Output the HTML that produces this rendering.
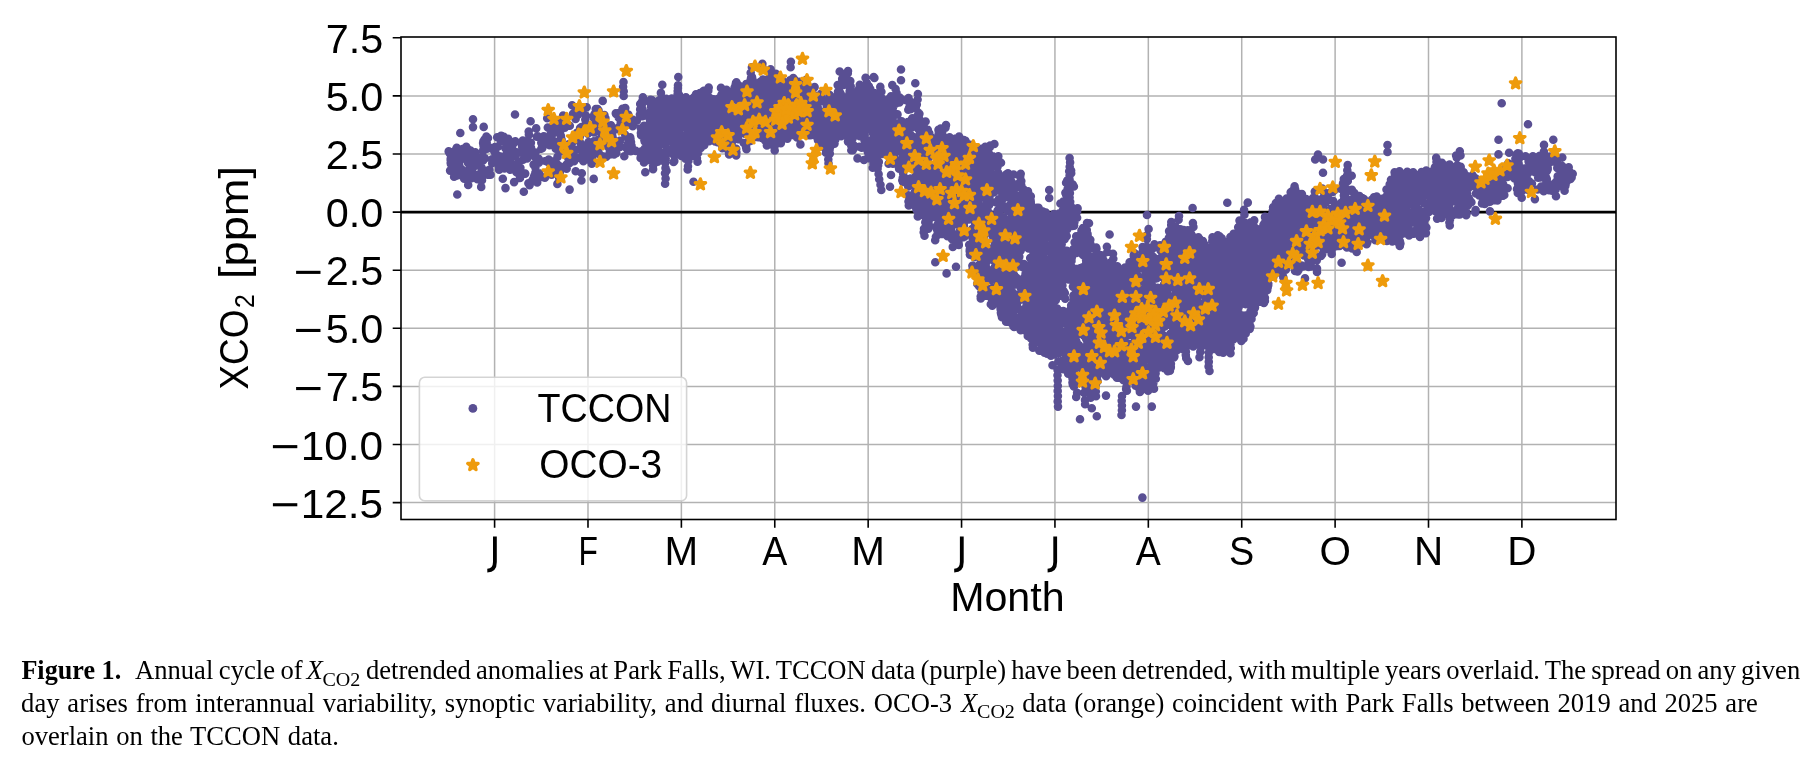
<!DOCTYPE html>
<html><head><meta charset="utf-8"><title>Figure 1</title>
<style>html,body{margin:0;padding:0;background:#fff;overflow:hidden}svg{display:block;will-change:transform}</style></head>
<body>
<svg width="1816" height="768" viewBox="0 0 1816 768">
<defs><path id="s" d="M0.00 -4.95L1.36 -1.32L5.23 -1.15L2.20 1.26L3.23 5.00L0.00 2.86L-3.23 5.00L-2.20 1.26L-5.23 -1.15L-1.36 -1.32Z" fill="#ee9b0b" stroke="#ee9b0b" stroke-width="3.2" stroke-linejoin="round"/></defs>
<rect width="1816" height="768" fill="#fff"/>
<path d="M494.60 37.0V519.5M587.99 37.0V519.5M681.38 37.0V519.5M774.77 37.0V519.5M868.16 37.0V519.5M961.55 37.0V519.5M1054.94 37.0V519.5M1148.33 37.0V519.5M1241.72 37.0V519.5M1335.11 37.0V519.5M1428.50 37.0V519.5M1521.89 37.0V519.5M401.0 502.60H1616.0M401.0 444.50H1616.0M401.0 386.40H1616.0M401.0 328.30H1616.0M401.0 270.20H1616.0M401.0 212.10H1616.0M401.0 154.00H1616.0M401.0 95.90H1616.0" stroke="#b2b2b2" stroke-width="1.5" fill="none"/>
<path d="M401.0 212.10H1616.0" stroke="#000" stroke-width="2.6"/>
<path id="dots" d="M448.7 151.4h0M449.6 153.1h0M450.7 160.1h0M450.7 158.9h0M450.1 170.6h0M451.6 152.2h0M450.7 163.0h0M450.9 163.9h0M452.0 160.3h0M453.6 168.7h0M454.1 176.7h0M454.7 174.7h0M454.9 162.7h0M455.9 149.6h0M456.7 147.8h0M456.9 168.8h0M456.4 175.8h0M456.6 152.3h0M457.2 155.0h0M458.6 149.7h0M460.3 170.6h0M460.4 175.0h0M459.0 174.6h0M459.1 164.5h0M460.2 160.1h0M461.4 169.1h0M461.9 156.8h0M462.4 150.9h0M461.5 151.4h0M461.4 150.2h0M462.5 149.0h0M462.7 175.9h0M462.4 173.3h0M464.2 178.8h0M464.0 149.7h0M464.4 177.5h0M466.3 146.7h0M467.0 157.9h0M468.2 171.9h0M468.0 162.8h0M467.9 174.2h0M467.8 173.1h0M470.1 178.3h0M469.3 151.7h0M471.0 157.4h0M469.6 167.5h0M471.0 159.1h0M470.9 154.8h0M471.0 152.8h0M471.6 178.2h0M470.5 150.6h0M472.9 173.1h0M472.5 167.5h0M474.4 166.3h0M474.0 176.0h0M475.3 152.4h0M475.7 157.6h0M477.4 179.1h0M476.7 162.4h0M477.7 174.9h0M479.3 163.5h0M478.8 163.7h0M480.4 166.4h0M480.2 157.7h0M481.9 170.7h0M482.0 180.2h0M481.2 186.9h0M481.2 178.7h0M481.4 179.7h0M481.7 170.7h0M481.7 167.7h0M483.1 160.4h0M483.4 141.3h0M483.5 145.5h0M483.1 143.1h0M484.0 146.7h0M483.4 149.5h0M483.0 151.1h0M484.9 158.4h0M484.9 146.7h0M484.5 139.5h0M484.7 174.2h0M486.4 136.6h0M487.1 172.4h0M487.7 174.8h0M486.7 142.7h0M486.8 139.8h0M488.1 148.3h0M487.1 148.8h0M488.0 138.0h0M488.5 170.3h0M489.5 169.9h0M490.6 174.8h0M490.3 147.9h0M492.2 163.3h0M492.1 159.4h0M494.2 151.0h0M495.3 153.3h0M495.0 147.0h0M495.1 152.6h0M495.5 149.2h0M497.3 155.2h0M496.5 158.4h0M497.2 137.3h0M498.3 146.5h0M499.1 167.6h0M500.2 158.3h0M500.2 163.0h0M499.1 169.7h0M500.8 141.1h0M501.1 135.7h0M500.6 156.5h0M501.9 140.9h0M500.8 139.7h0M502.8 178.8h0M502.7 165.8h0M503.0 163.9h0M503.8 136.9h0M505.1 165.0h0M504.4 168.4h0M506.9 153.6h0M507.2 147.0h0M505.7 141.2h0M507.2 147.9h0M505.6 148.4h0M506.3 154.8h0M506.9 148.8h0M508.2 138.8h0M506.4 142.4h0M507.5 159.0h0M508.1 152.8h0M509.7 149.0h0M508.5 151.8h0M509.3 146.5h0M508.7 153.3h0M508.8 158.6h0M510.5 158.9h0M509.1 153.4h0M509.0 156.3h0M509.3 162.7h0M510.2 166.7h0M509.8 154.1h0M509.7 166.9h0M510.1 169.7h0M509.8 149.6h0M511.8 155.2h0M511.8 147.6h0M511.8 149.7h0M514.1 182.1h0M513.0 144.1h0M515.3 141.4h0M515.5 155.8h0M515.4 151.7h0M516.5 172.2h0M516.9 164.3h0M517.9 167.4h0M518.9 174.3h0M518.6 162.1h0M519.3 174.6h0M520.0 177.9h0M520.4 167.8h0M521.0 172.7h0M520.9 174.1h0M521.1 143.2h0M522.0 153.0h0M522.1 146.6h0M522.8 140.5h0M523.1 159.7h0M525.2 173.6h0M525.0 148.8h0M525.4 153.6h0M526.5 145.0h0M526.1 148.1h0M527.1 158.4h0M526.5 148.9h0M526.5 143.8h0M528.0 140.5h0M528.6 154.8h0M528.9 134.6h0M529.6 185.1h0M528.8 152.8h0M528.7 131.5h0M528.4 183.2h0M530.9 142.7h0M532.2 154.8h0M531.7 151.2h0M531.0 152.3h0M531.0 147.5h0M531.4 155.3h0M532.5 180.1h0M533.6 164.6h0M535.4 167.5h0M534.4 175.6h0M535.4 172.5h0M534.0 176.8h0M535.8 157.2h0M535.8 157.6h0M535.5 152.6h0M535.0 156.8h0M536.8 136.8h0M537.8 136.3h0M537.2 182.5h0M538.7 158.7h0M538.8 162.7h0M539.6 176.2h0M539.2 173.2h0M541.3 142.7h0M542.3 148.1h0M542.1 145.0h0M542.8 142.4h0M541.3 148.8h0M543.8 136.2h0M543.2 177.3h0M544.9 177.7h0M545.1 138.2h0M545.5 161.0h0M547.8 162.0h0M547.8 127.5h0M548.7 159.5h0M549.6 145.1h0M550.2 138.1h0M550.5 143.3h0M550.0 138.9h0M548.9 142.2h0M550.7 174.3h0M550.8 131.4h0M551.6 174.8h0M551.3 133.3h0M553.0 125.8h0M552.6 128.8h0M552.4 142.9h0M553.5 133.3h0M552.1 167.5h0M553.3 171.1h0M552.4 133.3h0M553.9 163.4h0M554.5 163.7h0M553.0 163.1h0M554.0 161.4h0M554.8 141.9h0M553.5 140.7h0M555.8 148.8h0M555.6 146.4h0M557.1 123.1h0M557.5 156.9h0M558.8 148.4h0M559.4 171.9h0M558.4 167.0h0M559.3 166.1h0M557.5 167.0h0M557.7 164.7h0M559.2 178.0h0M557.7 168.7h0M557.8 174.3h0M558.1 169.8h0M559.7 127.7h0M559.8 172.3h0M560.8 135.6h0M561.6 139.5h0M560.9 136.4h0M560.2 131.2h0M562.3 151.2h0M562.8 125.8h0M563.5 123.5h0M562.2 122.2h0M563.1 115.6h0M562.7 146.7h0M562.6 149.9h0M563.4 145.3h0M563.1 147.1h0M563.7 150.7h0M564.8 127.6h0M566.7 168.2h0M566.6 168.8h0M566.3 164.8h0M568.4 158.8h0M568.5 145.6h0M567.8 147.7h0M568.6 144.2h0M569.0 144.7h0M568.0 147.8h0M567.5 148.8h0M569.4 163.2h0M569.9 158.6h0M569.8 125.8h0M570.6 156.8h0M571.7 149.6h0M571.1 153.3h0M571.2 152.2h0M571.1 151.4h0M572.2 151.5h0M571.3 144.3h0M571.2 153.8h0M572.5 149.9h0M572.9 141.7h0M573.2 157.2h0M572.4 157.6h0M574.1 161.2h0M573.0 113.7h0M574.5 112.6h0M574.3 114.5h0M573.9 159.2h0M575.7 171.2h0M574.0 151.0h0M575.6 119.0h0M575.5 149.9h0M575.8 157.2h0M576.9 132.8h0M578.0 133.6h0M578.0 114.6h0M578.3 134.3h0M579.7 141.5h0M578.6 111.7h0M580.3 131.8h0M579.8 136.7h0M581.2 144.4h0M580.1 128.0h0M581.5 127.1h0M582.6 153.3h0M581.0 158.5h0M582.8 110.0h0M583.4 161.2h0M583.5 150.2h0M584.9 156.7h0M583.6 148.4h0M584.8 150.0h0M584.3 155.1h0M584.8 147.7h0M585.5 149.0h0M584.8 151.5h0M585.3 128.6h0M585.9 125.6h0M586.6 127.0h0M586.0 115.9h0M585.3 119.6h0M585.5 124.5h0M586.7 107.2h0M587.8 133.6h0M588.1 144.3h0M587.7 147.4h0M588.8 149.0h0M588.6 142.1h0M588.4 144.3h0M589.1 152.1h0M590.4 145.3h0M590.0 150.1h0M590.8 161.3h0M591.8 163.7h0M592.3 157.0h0M592.6 155.8h0M592.8 145.7h0M592.2 151.7h0M591.6 142.7h0M594.0 132.5h0M592.6 128.6h0M592.8 129.8h0M592.9 130.7h0M593.4 145.4h0M593.4 151.0h0M593.2 145.1h0M594.2 150.9h0M593.9 141.2h0M595.3 114.9h0M594.6 114.1h0M593.9 118.1h0M595.4 124.0h0M594.2 114.9h0M594.4 125.2h0M594.8 131.0h0M596.0 123.9h0M596.6 121.7h0M597.4 114.6h0M595.8 109.1h0M597.6 109.0h0M598.1 120.9h0M597.5 118.8h0M598.7 121.7h0M598.5 110.2h0M598.8 123.7h0M598.5 139.7h0M598.2 151.3h0M599.1 112.8h0M599.2 116.4h0M600.6 155.2h0M601.5 133.7h0M599.8 142.8h0M602.3 142.1h0M602.8 156.4h0M602.7 125.7h0M602.0 134.9h0M602.7 127.3h0M603.5 124.8h0M604.5 122.5h0M603.8 127.9h0M604.7 125.1h0M605.4 118.1h0M604.4 115.1h0M606.4 156.6h0M606.2 140.1h0M606.9 142.6h0M607.8 146.5h0M608.9 140.8h0M608.8 135.9h0M609.9 141.8h0M610.4 140.7h0M609.9 139.8h0M608.8 141.7h0M609.6 138.3h0M610.8 151.6h0M610.0 154.4h0M609.6 153.8h0M610.9 154.0h0M609.8 150.1h0M610.0 143.0h0M609.7 153.1h0M610.6 138.7h0M611.4 136.2h0M612.3 135.9h0M611.9 142.0h0M611.0 125.2h0M611.8 149.1h0M612.5 132.2h0M611.9 130.5h0M612.7 137.9h0M614.8 152.0h0M614.3 154.1h0M614.1 154.5h0M614.7 143.9h0M615.2 149.4h0M614.6 147.4h0M615.8 149.3h0M616.3 153.1h0M616.1 113.9h0M616.9 145.0h0M615.8 113.3h0M617.8 144.3h0M617.8 113.4h0M618.8 117.8h0M618.6 127.4h0M619.8 140.8h0M619.3 145.7h0M619.3 146.7h0M620.0 146.9h0M619.6 129.7h0M620.8 122.4h0M621.3 117.9h0M622.2 124.8h0M623.9 115.8h0M623.9 117.1h0M622.5 108.7h0M623.5 113.1h0M623.4 127.4h0M623.5 121.0h0M625.2 122.5h0M624.6 125.9h0M625.2 134.8h0M626.1 123.9h0M625.3 108.1h0M626.8 148.4h0M627.5 144.2h0M627.0 148.8h0M627.6 137.9h0M628.3 114.6h0M629.1 120.5h0M628.5 140.1h0M629.9 147.6h0M630.7 151.3h0M630.3 149.7h0M630.7 143.8h0M630.2 137.3h0M631.0 142.1h0M630.5 139.1h0M631.5 145.5h0M634.3 123.4h0M633.5 120.3h0M633.1 119.7h0M633.2 121.0h0M634.5 122.6h0M632.7 126.3h0M633.1 121.0h0M634.0 121.7h0M635.7 150.9h0M636.8 120.8h0M640.6 158.0h0M639.9 114.6h0M641.0 116.0h0M640.2 109.4h0M641.0 113.9h0M640.9 111.2h0M640.2 104.0h0M640.7 157.6h0M641.7 151.4h0M640.0 152.3h0M640.9 128.5h0M640.9 133.0h0M641.3 128.7h0M641.6 131.2h0M641.5 131.3h0M642.0 129.8h0M642.2 131.3h0M642.0 133.4h0M641.3 129.3h0M641.1 135.3h0M643.0 102.4h0M641.3 102.9h0M641.6 106.4h0M641.3 102.9h0M642.5 100.6h0M642.3 102.6h0M642.2 103.4h0M642.5 158.5h0M641.8 104.8h0M641.6 109.2h0M642.5 109.0h0M643.7 112.5h0M642.6 116.2h0M642.9 97.4h0M642.6 112.3h0M644.4 150.2h0M644.0 154.9h0M644.8 148.6h0M643.5 153.6h0M643.7 151.4h0M644.0 155.8h0M644.0 156.4h0M643.0 155.3h0M644.5 158.1h0M644.8 158.9h0M644.0 162.5h0M644.8 155.5h0M645.3 152.3h0M644.7 161.5h0M644.3 153.5h0M645.3 161.3h0M644.7 152.2h0M643.7 158.9h0M644.4 140.2h0M644.0 125.7h0M644.5 131.0h0M644.3 131.2h0M644.8 129.5h0M644.7 141.5h0M645.4 137.8h0M645.5 133.6h0M644.7 134.8h0M644.6 133.3h0M645.0 126.5h0M645.6 141.9h0M645.1 131.4h0M646.3 127.3h0M647.4 146.8h0M647.4 133.7h0M647.2 126.2h0M648.2 140.3h0M646.9 144.4h0M648.4 137.5h0M647.8 154.3h0M647.7 147.1h0M647.5 152.4h0M648.1 153.8h0M647.8 148.9h0M648.0 156.6h0M647.8 151.4h0M648.1 151.7h0M648.8 152.3h0M648.8 155.3h0M649.7 125.9h0M647.9 144.1h0M650.1 135.8h0M649.2 126.5h0M648.9 124.7h0M649.8 135.3h0M649.2 133.3h0M650.8 133.7h0M650.1 127.3h0M650.8 134.7h0M650.5 129.8h0M650.1 125.1h0M650.5 128.9h0M650.8 127.2h0M650.0 131.7h0M649.4 118.1h0M650.1 117.0h0M649.5 126.0h0M650.3 122.4h0M649.8 126.7h0M649.2 127.6h0M649.9 118.5h0M650.5 120.1h0M649.1 113.8h0M650.3 114.9h0M650.4 130.0h0M650.2 121.2h0M650.6 146.9h0M649.7 136.2h0M650.9 141.1h0M649.8 141.7h0M650.0 151.6h0M650.5 160.2h0M651.3 150.7h0M650.4 147.6h0M651.0 156.7h0M651.8 153.9h0M651.2 155.7h0M651.3 158.8h0M651.0 100.3h0M651.0 111.2h0M651.4 158.5h0M651.1 106.4h0M651.8 100.5h0M652.1 102.9h0M651.3 107.3h0M650.7 103.2h0M652.3 110.8h0M650.6 99.9h0M651.4 109.8h0M651.4 124.1h0M651.1 115.2h0M651.3 109.5h0M651.8 100.1h0M652.2 109.0h0M653.9 124.6h0M652.9 120.4h0M652.3 122.6h0M653.8 122.0h0M653.2 120.4h0M653.2 121.1h0M652.4 124.3h0M653.0 123.7h0M653.1 121.5h0M652.8 122.0h0M653.3 127.8h0M652.8 120.2h0M652.2 121.5h0M653.0 157.6h0M653.3 156.7h0M653.1 106.7h0M653.4 106.7h0M653.2 151.3h0M654.5 151.6h0M654.0 144.8h0M654.5 142.8h0M654.8 146.3h0M653.8 143.3h0M653.4 145.1h0M655.0 144.9h0M653.2 146.8h0M654.0 109.2h0M654.9 105.6h0M655.1 110.4h0M655.6 133.6h0M654.6 126.5h0M655.2 133.6h0M654.1 128.4h0M655.6 126.6h0M655.7 158.2h0M656.0 153.9h0M654.9 159.5h0M655.1 162.0h0M656.2 160.2h0M656.0 155.6h0M656.1 127.7h0M656.5 131.6h0M656.7 130.8h0M657.1 131.3h0M656.4 134.9h0M655.2 129.6h0M655.8 131.0h0M655.7 130.0h0M655.4 132.5h0M655.6 130.5h0M655.6 127.8h0M657.0 128.7h0M656.6 117.7h0M656.6 115.5h0M657.0 122.3h0M656.7 119.9h0M656.4 121.5h0M655.7 118.5h0M656.0 112.9h0M655.6 116.8h0M656.0 119.4h0M656.5 142.5h0M656.1 146.4h0M657.7 144.2h0M657.4 104.5h0M657.1 110.3h0M656.6 109.1h0M658.1 103.2h0M657.5 103.9h0M656.7 114.9h0M657.8 110.7h0M656.8 108.5h0M658.0 152.4h0M657.2 119.4h0M657.6 103.9h0M657.6 101.3h0M658.8 160.8h0M657.3 144.1h0M657.5 152.1h0M658.3 149.5h0M657.3 150.5h0M657.7 161.7h0M659.4 100.4h0M658.7 132.1h0M658.5 101.0h0M658.1 157.6h0M658.4 102.2h0M658.0 111.3h0M658.5 101.5h0M659.8 155.1h0M659.8 140.6h0M659.5 137.6h0M660.3 137.9h0M659.0 135.8h0M659.1 139.5h0M658.8 139.5h0M659.8 138.8h0M659.8 100.5h0M659.9 102.1h0M659.1 102.5h0M660.6 105.2h0M660.5 102.2h0M660.1 104.2h0M660.2 102.5h0M659.3 103.9h0M659.2 100.3h0M660.5 102.5h0M659.7 100.9h0M660.9 92.9h0M661.2 156.9h0M660.0 152.4h0M660.6 107.3h0M660.8 102.6h0M662.5 131.1h0M662.4 121.8h0M661.4 130.7h0M662.2 133.9h0M660.9 122.5h0M661.4 117.9h0M662.1 125.5h0M660.8 114.1h0M661.8 124.6h0M661.7 104.3h0M662.9 107.8h0M662.4 111.2h0M661.4 106.6h0M662.8 106.5h0M661.8 108.5h0M662.6 112.0h0M662.9 103.6h0M662.3 107.8h0M663.1 102.1h0M661.5 120.9h0M663.0 157.5h0M662.4 159.5h0M663.3 154.6h0M662.4 156.1h0M661.7 158.0h0M662.3 153.7h0M662.8 156.8h0M663.0 118.5h0M661.8 106.4h0M663.2 120.3h0M663.4 101.3h0M665.2 112.2h0M664.4 116.7h0M664.8 115.4h0M664.5 121.0h0M665.4 114.6h0M664.3 130.4h0M664.9 143.6h0M664.3 141.5h0M664.9 144.9h0M665.2 162.8h0M666.3 98.8h0M665.7 158.7h0M665.5 109.3h0M666.3 137.4h0M665.3 158.2h0M667.1 149.3h0M665.9 153.4h0M666.2 121.1h0M666.2 126.5h0M666.2 127.4h0M667.1 126.3h0M666.1 126.5h0M666.9 128.4h0M666.1 128.3h0M667.2 123.5h0M665.8 129.1h0M666.6 154.1h0M667.5 149.6h0M668.1 109.3h0M667.5 104.8h0M668.3 125.0h0M669.2 129.6h0M668.5 130.2h0M668.6 131.2h0M668.8 130.0h0M667.8 104.3h0M669.3 132.0h0M668.9 121.7h0M669.7 119.8h0M669.7 125.0h0M669.6 128.9h0M670.6 116.6h0M669.0 126.3h0M670.0 125.9h0M670.2 118.5h0M669.2 104.6h0M669.5 104.0h0M669.7 132.9h0M669.8 129.3h0M669.8 129.8h0M669.5 123.8h0M671.5 111.0h0M670.9 110.6h0M670.2 109.4h0M671.4 122.4h0M670.7 119.7h0M671.7 116.3h0M670.8 119.1h0M671.8 115.9h0M670.4 119.7h0M670.4 111.6h0M670.4 113.4h0M670.3 118.5h0M670.5 114.1h0M671.9 107.3h0M670.3 114.9h0M671.7 119.4h0M671.4 116.1h0M672.3 113.7h0M671.7 119.8h0M672.6 138.8h0M672.6 131.5h0M671.2 139.0h0M671.4 141.4h0M670.9 127.4h0M670.9 141.2h0M672.7 140.2h0M671.0 137.8h0M671.2 138.9h0M673.3 100.7h0M672.9 112.7h0M671.8 98.6h0M673.8 100.6h0M672.1 128.4h0M673.6 113.7h0M672.9 107.3h0M673.2 108.6h0M672.6 110.8h0M674.1 107.4h0M672.8 143.0h0M673.7 144.2h0M674.2 130.6h0M674.2 129.0h0M674.4 154.3h0M674.3 161.1h0M673.8 153.9h0M673.6 162.0h0M674.1 148.3h0M674.8 150.2h0M674.0 155.3h0M675.1 149.5h0M674.9 116.8h0M675.5 115.6h0M675.2 117.4h0M676.0 114.0h0M675.5 116.2h0M674.7 118.7h0M675.0 115.4h0M675.2 114.0h0M675.2 115.1h0M675.1 114.3h0M674.5 116.4h0M675.8 118.6h0M675.0 112.8h0M674.9 116.5h0M675.8 116.1h0M675.0 117.0h0M675.3 131.7h0M675.7 134.2h0M676.1 132.1h0M674.5 123.0h0M676.0 124.5h0M674.6 133.0h0M674.6 130.3h0M674.9 148.7h0M676.1 134.5h0M675.6 154.9h0M676.2 144.3h0M675.6 143.0h0M675.9 143.7h0M675.2 147.2h0M675.2 146.5h0M675.5 148.8h0M676.9 112.9h0M677.3 110.9h0M676.8 120.2h0M676.6 122.4h0M676.7 120.3h0M677.2 117.1h0M676.7 123.0h0M677.1 116.9h0M677.8 124.2h0M676.5 116.6h0M677.4 117.9h0M677.4 114.2h0M676.4 122.7h0M677.6 114.2h0M677.6 114.6h0M677.7 124.5h0M678.1 115.5h0M678.2 122.5h0M678.1 122.1h0M677.9 123.7h0M677.0 123.9h0M677.2 116.1h0M678.1 145.1h0M677.3 140.3h0M678.4 134.7h0M679.2 132.1h0M677.5 140.1h0M677.9 128.2h0M678.1 93.7h0M679.3 96.8h0M678.2 96.8h0M679.3 143.6h0M677.7 93.8h0M678.7 96.2h0M678.4 130.0h0M679.2 96.6h0M678.7 96.3h0M677.7 101.1h0M678.3 128.8h0M678.2 97.8h0M679.0 94.7h0M678.5 130.5h0M679.4 97.3h0M678.9 120.6h0M677.8 100.3h0M678.8 96.0h0M679.2 142.0h0M678.5 151.0h0M678.2 153.7h0M678.1 106.3h0M679.9 140.6h0M679.5 139.7h0M679.5 143.1h0M678.2 143.5h0M678.6 144.1h0M679.3 139.4h0M678.4 140.1h0M680.0 147.1h0M678.4 138.8h0M679.7 149.3h0M678.2 146.4h0M678.9 141.8h0M679.2 140.5h0M679.7 120.2h0M678.6 128.4h0M680.2 127.6h0M679.4 132.3h0M679.0 122.3h0M679.4 118.5h0M680.1 108.1h0M679.2 96.9h0M679.5 98.9h0M681.4 155.9h0M680.2 149.0h0M680.6 135.7h0M680.7 109.1h0M681.7 104.3h0M682.2 105.2h0M680.6 102.5h0M681.6 103.6h0M680.8 109.9h0M681.7 108.6h0M681.6 121.6h0M682.6 124.2h0M681.2 120.6h0M681.1 116.0h0M681.9 119.4h0M682.4 101.3h0M681.7 99.5h0M682.1 102.1h0M682.6 154.9h0M683.2 102.8h0M682.1 141.6h0M682.8 142.7h0M683.6 112.4h0M684.0 113.1h0M682.9 113.7h0M683.6 113.1h0M683.7 114.6h0M683.8 113.8h0M684.1 114.8h0M683.4 111.9h0M684.3 114.2h0M683.3 121.5h0M683.7 139.2h0M685.2 120.2h0M685.2 108.9h0M685.4 118.1h0M684.0 117.2h0M684.8 107.1h0M683.8 124.0h0M685.0 106.9h0M685.5 114.6h0M684.9 120.4h0M685.3 117.0h0M685.5 113.3h0M685.3 126.6h0M685.2 110.6h0M685.2 110.8h0M685.2 113.0h0M686.1 117.5h0M685.7 114.5h0M684.6 115.2h0M684.5 124.2h0M685.1 112.0h0M686.0 116.2h0M684.9 112.4h0M685.7 108.6h0M686.0 117.2h0M685.8 108.5h0M685.4 113.6h0M685.8 116.4h0M685.8 112.0h0M684.9 98.9h0M685.9 97.3h0M685.1 117.9h0M686.4 153.5h0M685.9 152.6h0M685.2 147.8h0M686.4 145.8h0M685.9 149.9h0M687.4 129.1h0M685.9 135.1h0M687.2 153.6h0M685.5 158.6h0M686.0 119.7h0M686.8 146.9h0M686.5 154.3h0M688.3 153.5h0M687.1 153.5h0M687.1 153.6h0M687.4 152.5h0M687.3 153.0h0M688.4 161.0h0M688.7 141.1h0M687.2 128.0h0M689.1 132.5h0M687.8 109.4h0M689.0 100.8h0M688.3 112.2h0M688.8 107.4h0M689.4 157.2h0M689.5 150.9h0M688.4 116.0h0M689.7 152.2h0M688.8 157.1h0M689.0 131.8h0M688.5 130.2h0M690.3 131.1h0M690.3 134.5h0M690.2 132.8h0M688.7 134.1h0M688.6 130.6h0M688.9 134.6h0M690.3 129.7h0M690.3 114.1h0M689.3 106.7h0M689.0 105.9h0M689.8 111.7h0M690.0 106.7h0M689.4 111.5h0M690.5 108.1h0M689.9 108.0h0M689.2 110.8h0M690.3 111.6h0M689.6 120.6h0M690.6 125.4h0M690.4 123.4h0M689.3 116.4h0M689.7 124.8h0M690.3 116.3h0M690.5 114.7h0M691.0 122.1h0M690.6 118.3h0M690.7 119.8h0M689.8 124.4h0M690.1 124.3h0M690.2 147.6h0M690.5 145.2h0M691.2 143.7h0M690.3 140.9h0M690.6 139.6h0M691.1 141.9h0M691.2 147.7h0M691.0 145.0h0M690.5 145.9h0M691.0 147.2h0M691.4 137.2h0M690.6 139.6h0M690.2 137.1h0M690.6 136.7h0M690.4 137.6h0M691.4 140.8h0M692.0 141.8h0M691.4 141.4h0M690.2 138.2h0M691.1 118.8h0M690.9 124.0h0M691.2 127.8h0M692.0 123.8h0M691.9 123.5h0M692.7 148.7h0M692.6 131.5h0M693.1 99.2h0M693.7 111.0h0M693.9 104.5h0M692.6 105.3h0M694.0 139.7h0M692.9 98.3h0M693.4 101.3h0M694.3 105.4h0M693.3 109.3h0M694.3 107.6h0M694.8 114.0h0M694.7 108.0h0M694.3 97.0h0M694.8 99.4h0M695.1 112.2h0M693.9 114.2h0M695.0 117.0h0M694.4 119.5h0M695.6 118.9h0M695.9 99.1h0M695.7 120.5h0M694.3 106.2h0M694.3 118.9h0M694.5 110.6h0M694.6 114.4h0M695.5 130.3h0M696.3 145.1h0M695.1 156.2h0M695.8 156.2h0M695.1 127.4h0M695.7 95.3h0M695.4 133.9h0M695.8 150.4h0M695.3 101.2h0M695.4 99.7h0M695.9 138.1h0M695.1 97.0h0M696.0 94.3h0M696.4 136.6h0M696.7 102.8h0M696.5 113.8h0M697.0 109.8h0M697.2 102.7h0M697.7 109.8h0M697.3 108.8h0M696.2 109.4h0M697.6 108.7h0M697.6 109.3h0M697.0 113.0h0M696.0 110.6h0M695.8 107.2h0M697.7 108.5h0M697.1 107.0h0M696.0 110.6h0M696.7 113.7h0M697.5 112.8h0M697.6 111.8h0M696.8 114.6h0M697.8 124.2h0M697.3 125.5h0M696.8 124.8h0M697.7 123.6h0M696.7 144.0h0M697.3 142.0h0M696.7 141.3h0M697.2 149.0h0M696.6 142.9h0M698.2 142.7h0M696.7 135.4h0M698.3 105.4h0M696.8 106.6h0M698.2 112.5h0M698.0 111.9h0M697.6 108.3h0M698.0 111.0h0M698.6 94.5h0M699.0 141.9h0M697.6 136.7h0M698.1 153.0h0M697.9 146.6h0M698.0 143.4h0M699.6 142.6h0M698.1 108.9h0M698.1 96.9h0M699.7 147.4h0M699.8 98.3h0M700.4 123.6h0M699.8 132.0h0M699.1 148.5h0M700.7 148.0h0M700.3 106.8h0M701.0 98.1h0M700.0 93.0h0M700.9 101.3h0M701.0 107.2h0M701.2 102.1h0M700.4 100.1h0M699.8 107.8h0M700.5 106.7h0M700.8 107.6h0M701.7 108.0h0M701.3 104.4h0M700.1 102.1h0M700.6 109.6h0M701.1 108.6h0M700.0 98.1h0M701.6 108.8h0M699.8 100.6h0M701.6 113.1h0M700.7 103.4h0M702.1 104.4h0M701.5 108.4h0M701.6 111.0h0M700.5 105.0h0M702.3 106.6h0M701.4 97.1h0M702.3 94.0h0M701.9 111.1h0M702.4 104.4h0M701.9 112.4h0M701.9 113.7h0M702.9 109.4h0M701.3 108.9h0M701.6 108.6h0M701.2 106.5h0M702.5 98.5h0M701.9 97.8h0M701.8 96.9h0M702.9 117.1h0M703.2 114.2h0M702.9 112.0h0M704.0 99.1h0M702.7 142.4h0M704.2 145.2h0M703.2 144.5h0M703.2 143.4h0M702.9 142.5h0M703.0 144.5h0M703.3 144.7h0M704.1 95.5h0M703.7 91.2h0M703.8 90.9h0M703.9 95.8h0M704.5 95.5h0M704.3 102.7h0M703.5 139.6h0M703.7 114.5h0M705.7 122.2h0M704.3 121.9h0M705.7 117.7h0M704.8 123.1h0M704.2 128.0h0M705.5 122.2h0M704.7 127.2h0M704.2 137.5h0M704.6 125.9h0M704.5 121.6h0M704.5 122.0h0M704.1 121.7h0M704.8 98.7h0M704.6 92.5h0M704.6 93.1h0M706.1 122.4h0M705.4 104.0h0M705.6 122.9h0M705.2 133.2h0M706.9 124.3h0M705.7 127.8h0M705.7 127.5h0M705.9 140.2h0M706.2 123.9h0M706.4 133.9h0M707.3 134.0h0M705.7 101.8h0M707.4 122.1h0M707.8 104.4h0M707.6 103.5h0M708.2 124.3h0M708.0 127.8h0M708.3 129.5h0M707.2 132.0h0M707.2 122.7h0M707.6 129.5h0M707.2 131.6h0M707.5 108.8h0M707.8 112.5h0M707.3 115.8h0M708.1 115.7h0M707.4 116.3h0M708.0 139.5h0M708.6 136.8h0M709.6 112.5h0M709.2 141.3h0M709.7 129.5h0M708.8 125.1h0M709.4 125.5h0M709.9 136.2h0M708.6 131.1h0M708.6 117.6h0M709.8 122.8h0M708.4 120.8h0M709.8 121.1h0M710.4 123.4h0M710.3 122.4h0M709.6 102.8h0M709.5 97.9h0M709.4 99.6h0M710.7 127.8h0M710.1 123.1h0M711.0 122.3h0M710.9 114.9h0M712.2 104.0h0M712.3 105.3h0M710.9 108.5h0M712.1 103.1h0M711.1 104.3h0M711.9 106.0h0M712.4 122.1h0M711.0 127.6h0M713.3 104.8h0M711.9 100.7h0M713.5 127.7h0M713.2 131.8h0M713.6 132.6h0M712.6 131.6h0M713.5 120.6h0M713.6 99.3h0M714.4 102.1h0M713.7 101.1h0M714.7 107.5h0M714.8 112.2h0M715.1 106.7h0M715.2 111.4h0M714.2 107.9h0M715.7 110.0h0M715.8 102.5h0M715.9 104.9h0M715.1 101.1h0M715.1 141.4h0M716.1 103.0h0M717.2 104.4h0M716.2 112.3h0M717.5 142.1h0M717.7 129.9h0M717.8 138.8h0M718.2 134.6h0M716.5 134.8h0M716.8 134.0h0M716.8 126.2h0M716.6 112.1h0M718.0 135.5h0M718.3 105.7h0M718.4 107.8h0M718.2 103.7h0M717.9 104.0h0M717.3 111.6h0M718.3 98.8h0M717.4 106.3h0M717.7 111.6h0M719.6 115.8h0M719.4 110.9h0M719.3 126.0h0M719.4 115.1h0M718.5 115.5h0M720.0 107.0h0M720.0 97.6h0M720.1 107.5h0M719.8 107.2h0M720.6 128.0h0M719.7 120.3h0M719.9 106.2h0M719.7 99.8h0M719.7 97.9h0M720.7 107.5h0M721.4 94.9h0M721.9 107.9h0M720.8 106.8h0M721.7 102.3h0M721.6 105.4h0M722.0 101.5h0M721.0 115.2h0M722.5 107.2h0M722.0 113.7h0M720.7 117.8h0M721.8 117.8h0M722.6 127.4h0M721.7 131.2h0M722.6 132.6h0M723.2 131.6h0M722.0 142.0h0M722.8 144.3h0M722.3 143.0h0M722.7 145.8h0M722.4 147.4h0M723.1 103.1h0M723.1 134.3h0M722.0 138.7h0M721.4 143.5h0M722.3 139.6h0M722.3 148.2h0M723.2 135.6h0M722.6 138.8h0M722.9 140.1h0M721.8 135.9h0M721.9 143.6h0M722.3 136.6h0M721.5 143.4h0M722.8 144.8h0M722.2 106.0h0M722.3 97.9h0M723.7 125.2h0M724.2 131.0h0M722.4 143.0h0M722.5 138.1h0M722.5 130.4h0M722.6 134.9h0M724.3 122.7h0M723.0 128.1h0M723.5 130.4h0M723.0 125.7h0M723.2 125.9h0M723.4 130.1h0M723.7 129.2h0M723.6 129.7h0M724.7 131.8h0M723.7 119.2h0M723.1 128.8h0M723.1 126.3h0M722.9 126.9h0M723.5 125.1h0M723.4 118.8h0M724.1 124.9h0M723.5 129.5h0M723.9 132.2h0M722.7 134.0h0M723.4 131.5h0M724.0 123.2h0M723.6 131.3h0M723.3 126.2h0M724.2 122.9h0M724.6 126.2h0M723.7 105.0h0M724.9 107.8h0M723.4 106.8h0M723.2 110.7h0M723.1 121.1h0M723.6 106.1h0M723.7 105.7h0M724.8 113.5h0M724.1 117.0h0M724.6 122.3h0M724.1 122.5h0M724.1 117.7h0M724.4 114.1h0M723.9 130.3h0M723.7 116.9h0M724.7 130.0h0M723.5 125.0h0M725.0 122.1h0M723.5 123.9h0M725.6 136.6h0M723.9 118.8h0M725.5 128.2h0M725.2 128.9h0M725.4 134.6h0M725.4 130.7h0M724.3 125.4h0M725.6 125.1h0M725.5 125.0h0M724.6 125.7h0M725.4 125.6h0M725.0 122.0h0M726.2 119.6h0M724.7 122.7h0M724.7 125.6h0M725.6 131.7h0M724.6 123.6h0M724.9 125.3h0M725.7 125.9h0M725.6 127.2h0M724.3 125.7h0M725.4 121.1h0M725.4 143.4h0M726.5 147.8h0M725.8 138.4h0M725.4 142.4h0M726.2 92.3h0M726.0 100.0h0M726.5 89.8h0M727.1 145.4h0M725.8 125.2h0M726.7 135.5h0M726.8 92.7h0M726.1 128.5h0M727.5 137.0h0M726.5 107.8h0M727.8 102.4h0M727.4 99.4h0M727.1 101.8h0M727.8 105.1h0M726.4 103.7h0M728.0 103.9h0M727.1 105.3h0M727.7 103.9h0M727.5 102.3h0M727.7 106.4h0M728.4 129.2h0M727.4 139.3h0M728.7 130.5h0M728.0 127.2h0M727.3 141.8h0M728.4 135.7h0M727.1 133.3h0M728.5 141.0h0M728.9 124.8h0M727.5 128.7h0M728.8 140.6h0M728.6 131.8h0M729.9 128.6h0M729.3 131.3h0M729.0 131.2h0M729.3 134.0h0M729.9 136.9h0M730.6 141.5h0M730.1 118.8h0M730.8 134.9h0M730.6 131.6h0M730.1 123.4h0M731.2 142.3h0M730.1 141.7h0M730.1 143.4h0M730.3 141.1h0M730.5 145.0h0M731.0 139.9h0M730.1 142.8h0M731.7 146.4h0M731.8 142.6h0M731.7 146.7h0M730.4 117.9h0M731.2 95.7h0M731.9 135.5h0M732.0 113.2h0M731.5 117.0h0M731.1 123.2h0M733.2 94.0h0M733.4 92.2h0M733.5 90.7h0M734.0 127.3h0M733.2 117.4h0M734.7 118.8h0M733.2 119.6h0M734.8 119.9h0M734.1 117.7h0M733.8 116.0h0M734.4 123.2h0M735.0 121.9h0M734.0 131.0h0M735.3 125.3h0M735.4 114.6h0M735.8 118.0h0M734.5 119.7h0M734.3 121.6h0M735.1 121.8h0M735.6 84.8h0M734.6 87.6h0M735.0 94.2h0M735.3 96.2h0M735.8 91.9h0M736.6 95.5h0M736.8 95.9h0M736.0 99.7h0M736.3 87.8h0M735.5 94.9h0M736.0 82.9h0M736.4 82.3h0M737.8 95.3h0M736.6 107.7h0M737.8 134.7h0M737.5 134.7h0M738.2 139.1h0M737.8 138.2h0M737.7 137.4h0M737.8 88.1h0M737.5 84.4h0M738.7 86.3h0M737.8 87.3h0M738.6 85.4h0M738.7 85.8h0M738.2 87.5h0M738.4 85.9h0M739.3 86.1h0M738.3 86.3h0M739.4 91.3h0M739.4 89.6h0M738.7 102.4h0M738.0 95.6h0M739.1 96.3h0M738.5 116.7h0M738.9 113.7h0M739.7 120.4h0M739.0 118.6h0M739.7 116.9h0M738.8 115.6h0M738.3 120.0h0M738.5 117.3h0M739.5 116.9h0M738.6 113.2h0M738.5 120.1h0M739.0 115.1h0M738.4 117.5h0M739.0 117.4h0M738.9 122.9h0M740.8 119.5h0M740.0 123.8h0M739.3 121.7h0M739.6 125.5h0M739.6 130.5h0M739.3 124.6h0M739.5 130.8h0M739.7 125.3h0M740.2 131.1h0M740.2 111.7h0M739.7 104.8h0M741.5 108.8h0M740.8 116.4h0M741.9 92.8h0M741.8 97.4h0M741.9 94.8h0M741.4 127.8h0M740.9 128.8h0M742.8 125.9h0M742.8 115.9h0M742.5 122.7h0M742.2 102.2h0M743.4 89.2h0M742.5 104.4h0M742.4 88.8h0M743.8 143.0h0M743.4 106.4h0M743.3 105.9h0M742.8 112.4h0M743.3 107.7h0M743.7 98.0h0M743.3 102.0h0M743.3 103.3h0M744.1 108.2h0M742.9 124.3h0M743.5 122.3h0M743.3 120.5h0M743.4 128.1h0M744.0 113.7h0M744.4 115.7h0M744.4 90.3h0M745.6 96.3h0M744.7 133.8h0M745.6 143.8h0M744.4 133.1h0M745.6 126.5h0M745.9 133.6h0M746.4 119.6h0M745.8 118.7h0M745.8 88.8h0M746.3 87.4h0M746.2 84.1h0M747.1 115.1h0M747.8 111.0h0M746.5 113.9h0M746.8 115.7h0M747.3 111.9h0M746.3 111.6h0M748.0 112.8h0M747.4 112.8h0M747.2 114.8h0M747.8 112.6h0M746.8 116.0h0M746.8 107.5h0M746.9 117.3h0M747.4 115.9h0M747.0 117.3h0M747.7 112.0h0M747.0 114.9h0M748.1 105.7h0M748.0 110.0h0M747.1 102.2h0M747.0 104.7h0M747.2 102.6h0M748.0 102.0h0M748.1 119.5h0M747.9 111.1h0M748.5 109.8h0M748.8 108.2h0M748.1 109.5h0M748.7 115.1h0M749.1 123.3h0M748.0 114.9h0M749.7 115.5h0M749.8 115.6h0M749.5 115.9h0M749.9 131.3h0M749.5 129.3h0M749.2 134.3h0M748.9 95.8h0M748.9 93.1h0M749.0 91.2h0M749.3 91.2h0M750.5 91.0h0M750.5 100.7h0M750.3 96.5h0M749.3 92.3h0M750.2 98.6h0M749.2 89.5h0M750.4 140.9h0M749.9 136.9h0M749.4 140.3h0M750.9 133.6h0M749.8 126.2h0M749.8 124.2h0M750.3 130.3h0M750.3 126.4h0M750.8 132.7h0M751.1 128.2h0M750.0 125.9h0M750.8 129.0h0M750.8 107.8h0M751.4 103.5h0M750.5 106.5h0M751.4 92.2h0M750.8 79.4h0M752.5 80.9h0M752.4 86.1h0M752.4 134.8h0M752.7 122.2h0M751.6 84.4h0M751.6 135.0h0M751.1 77.8h0M752.0 115.8h0M753.4 132.9h0M753.3 97.4h0M752.3 78.7h0M752.0 109.0h0M752.2 123.2h0M753.6 133.0h0M752.0 77.1h0M752.8 80.5h0M753.1 82.5h0M753.2 129.6h0M752.8 129.8h0M754.6 128.1h0M753.0 125.3h0M753.4 133.7h0M754.4 130.5h0M753.8 97.2h0M753.7 126.3h0M754.2 120.3h0M754.7 133.1h0M754.5 123.5h0M753.9 126.2h0M753.5 119.8h0M754.1 124.9h0M753.4 136.9h0M754.1 110.4h0M755.3 116.4h0M754.3 125.1h0M755.2 114.6h0M753.9 113.6h0M755.1 115.0h0M754.5 120.0h0M754.4 123.1h0M754.7 102.6h0M756.3 95.8h0M754.5 93.9h0M754.8 95.2h0M755.9 106.9h0M755.6 107.3h0M755.7 115.9h0M755.4 94.1h0M755.2 136.9h0M756.1 134.9h0M757.6 114.6h0M756.7 111.1h0M755.9 119.0h0M758.1 137.2h0M756.5 135.9h0M757.6 123.8h0M757.0 85.7h0M757.1 85.9h0M759.1 106.7h0M757.6 108.1h0M758.2 105.3h0M759.2 111.2h0M759.5 106.1h0M758.4 101.0h0M759.0 97.5h0M760.0 92.5h0M759.4 92.3h0M759.5 93.7h0M760.7 125.7h0M760.7 122.0h0M761.5 87.8h0M760.6 132.5h0M760.3 133.5h0M760.5 93.7h0M761.2 91.6h0M760.4 81.9h0M761.3 135.1h0M761.9 137.9h0M762.9 108.3h0M763.0 117.9h0M761.9 111.8h0M763.3 99.6h0M762.1 85.9h0M762.2 91.3h0M762.3 83.7h0M763.2 93.1h0M762.9 79.6h0M762.1 83.1h0M763.3 85.0h0M762.5 84.8h0M763.5 89.7h0M762.2 89.7h0M763.9 92.3h0M764.1 91.5h0M762.7 90.4h0M763.8 111.4h0M765.0 121.7h0M764.7 114.6h0M764.4 120.5h0M764.3 123.6h0M763.8 119.4h0M764.7 119.5h0M764.4 124.5h0M764.5 123.8h0M765.1 114.8h0M764.5 110.0h0M765.2 114.4h0M765.4 118.8h0M766.0 110.4h0M765.7 116.2h0M766.1 120.5h0M766.2 117.7h0M766.6 87.2h0M766.3 85.6h0M766.0 81.6h0M765.1 140.4h0M767.1 103.0h0M765.9 101.9h0M766.1 95.6h0M766.7 96.8h0M766.5 101.1h0M767.4 98.4h0M765.8 105.9h0M765.6 100.6h0M765.6 101.4h0M766.8 94.1h0M767.4 104.5h0M766.6 103.7h0M765.5 96.3h0M766.8 88.0h0M766.6 89.6h0M767.4 93.2h0M767.0 92.5h0M767.8 114.1h0M767.4 111.8h0M767.7 111.4h0M767.9 129.3h0M766.9 114.1h0M766.7 123.1h0M766.8 114.6h0M767.2 104.4h0M767.9 122.0h0M767.5 141.6h0M768.1 115.6h0M768.4 123.8h0M767.7 123.6h0M768.8 122.5h0M767.1 131.2h0M768.3 126.1h0M767.8 124.0h0M767.5 119.2h0M768.2 121.1h0M767.7 116.8h0M768.6 111.9h0M768.9 116.2h0M767.8 122.9h0M767.7 129.0h0M768.1 84.7h0M768.6 83.2h0M769.3 86.9h0M768.4 82.3h0M768.3 136.9h0M770.0 122.1h0M770.0 119.3h0M770.0 120.7h0M770.0 122.0h0M768.9 85.2h0M770.0 72.1h0M769.4 140.9h0M769.3 77.9h0M770.4 119.5h0M769.0 109.5h0M769.2 134.1h0M770.2 126.2h0M769.3 77.9h0M771.0 106.0h0M769.6 105.5h0M769.4 108.1h0M770.6 106.0h0M770.6 105.8h0M771.0 105.0h0M769.3 101.4h0M771.2 91.1h0M769.9 79.4h0M770.4 86.2h0M771.1 86.7h0M770.0 92.2h0M771.3 85.8h0M770.9 91.9h0M771.8 89.3h0M770.5 100.3h0M771.0 97.4h0M771.6 100.7h0M772.0 101.5h0M771.0 103.5h0M771.8 88.1h0M770.8 106.2h0M771.5 104.4h0M771.9 104.2h0M771.1 94.5h0M772.2 97.5h0M772.3 108.9h0M770.7 98.9h0M772.7 117.0h0M772.6 116.0h0M771.4 110.7h0M772.5 121.5h0M771.4 112.0h0M772.6 116.9h0M772.9 115.9h0M771.4 114.3h0M772.1 113.1h0M771.8 140.4h0M773.6 102.6h0M772.4 139.6h0M771.9 135.3h0M773.5 140.8h0M773.0 108.0h0M774.0 113.0h0M772.2 107.4h0M772.8 94.2h0M773.4 97.2h0M773.4 89.1h0M773.7 98.2h0M773.7 96.5h0M774.0 85.3h0M773.0 105.8h0M772.7 113.8h0M774.1 111.4h0M773.5 108.6h0M773.1 108.6h0M774.2 111.1h0M774.2 125.1h0M774.1 118.2h0M774.6 135.4h0M773.3 130.4h0M774.9 132.1h0M773.8 138.5h0M774.7 135.4h0M775.6 112.6h0M774.4 117.5h0M774.7 94.9h0M775.9 73.8h0M775.8 76.2h0M774.3 105.4h0M775.8 74.3h0M775.6 77.6h0M775.4 87.6h0M775.5 75.6h0M774.9 74.2h0M775.8 76.8h0M774.9 84.8h0M775.7 84.4h0M777.0 90.4h0M776.8 103.6h0M777.5 92.2h0M775.7 109.1h0M776.0 89.9h0M776.5 97.9h0M777.3 93.9h0M776.3 91.9h0M776.2 107.0h0M776.3 83.4h0M776.8 82.9h0M777.0 117.1h0M777.4 118.4h0M777.2 104.8h0M778.1 108.3h0M777.5 112.3h0M778.1 120.1h0M778.2 127.2h0M777.8 117.8h0M777.2 122.9h0M777.4 115.8h0M777.1 114.4h0M778.3 110.1h0M779.2 85.0h0M780.0 139.2h0M779.9 134.7h0M779.9 114.2h0M779.6 108.0h0M778.6 116.9h0M780.0 115.5h0M779.8 111.3h0M779.2 109.4h0M780.3 111.6h0M779.2 110.9h0M780.0 112.6h0M779.0 108.9h0M779.4 111.1h0M778.6 111.5h0M779.2 136.2h0M780.4 114.2h0M779.0 118.6h0M780.2 96.9h0M780.1 118.6h0M779.7 107.6h0M781.1 118.0h0M781.1 99.7h0M781.8 90.4h0M779.9 90.7h0M781.9 85.1h0M780.1 87.5h0M781.4 96.4h0M780.0 83.7h0M780.9 84.6h0M780.2 80.8h0M780.7 132.6h0M781.4 91.6h0M781.3 97.1h0M782.2 88.3h0M780.6 80.5h0M782.4 80.5h0M782.4 133.6h0M781.4 128.6h0M782.5 126.2h0M781.3 130.8h0M782.6 127.5h0M781.8 83.6h0M784.0 117.6h0M783.4 124.3h0M783.1 120.7h0M783.6 118.6h0M783.0 122.3h0M783.3 103.2h0M784.5 100.8h0M782.7 105.7h0M783.3 110.1h0M783.0 115.4h0M783.5 120.2h0M785.1 96.4h0M784.7 92.2h0M784.4 84.5h0M785.9 128.0h0M785.4 130.1h0M785.9 134.8h0M784.6 135.0h0M785.4 135.6h0M786.3 130.7h0M784.7 137.5h0M785.7 132.8h0M785.6 93.4h0M786.0 93.3h0M786.5 87.8h0M785.2 95.9h0M786.8 89.6h0M786.8 85.5h0M785.1 86.9h0M785.7 97.3h0M785.6 84.7h0M784.9 84.9h0M785.2 95.7h0M785.7 121.1h0M786.8 113.8h0M785.5 115.1h0M787.0 116.6h0M785.5 121.8h0M785.6 117.8h0M785.9 119.2h0M786.0 110.8h0M786.2 121.7h0M787.0 110.7h0M786.4 121.6h0M787.4 138.6h0M786.4 125.4h0M787.3 124.8h0M787.1 126.7h0M787.8 123.8h0M787.3 125.5h0M786.8 123.1h0M787.9 100.8h0M786.8 103.3h0M786.6 91.1h0M787.6 99.2h0M788.2 100.8h0M787.0 91.4h0M788.5 93.6h0M788.8 96.3h0M787.9 119.2h0M788.9 123.3h0M788.5 120.2h0M788.1 127.2h0M789.2 123.9h0M788.8 117.5h0M789.8 120.6h0M790.0 80.2h0M788.5 83.3h0M789.3 85.3h0M789.2 87.0h0M788.8 132.6h0M789.4 126.8h0M790.3 128.3h0M789.0 129.3h0M790.1 122.3h0M789.0 132.8h0M789.6 121.7h0M789.0 117.5h0M789.0 122.6h0M789.8 101.1h0M791.3 116.4h0M791.2 114.7h0M790.5 120.8h0M790.5 113.2h0M791.7 132.3h0M791.9 133.7h0M791.6 134.4h0M791.5 129.9h0M792.1 127.6h0M792.6 135.0h0M792.5 134.7h0M792.2 129.2h0M793.1 130.7h0M791.9 80.4h0M793.1 133.5h0M792.6 131.9h0M792.3 126.6h0M792.2 80.1h0M793.6 79.5h0M793.3 78.0h0M792.0 81.9h0M792.4 80.8h0M793.0 81.4h0M793.5 79.8h0M793.7 82.9h0M793.4 83.7h0M792.5 78.9h0M793.9 82.9h0M793.2 109.6h0M794.3 120.5h0M793.0 89.9h0M794.8 102.2h0M794.7 103.4h0M793.3 98.1h0M793.4 127.0h0M793.6 121.2h0M794.0 125.9h0M793.9 123.7h0M795.2 120.0h0M795.0 121.9h0M794.0 117.5h0M795.3 96.0h0M794.1 99.9h0M794.5 96.2h0M795.8 103.6h0M795.5 103.7h0M794.3 103.3h0M793.9 97.4h0M794.9 98.3h0M794.4 100.9h0M795.0 94.6h0M794.4 90.9h0M795.3 97.6h0M794.8 88.3h0M793.9 93.2h0M794.8 99.9h0M795.3 96.2h0M794.7 79.7h0M796.3 87.7h0M794.5 99.4h0M795.0 95.0h0M795.5 89.3h0M795.0 98.4h0M796.1 97.0h0M796.3 96.4h0M796.8 108.6h0M796.9 115.9h0M796.0 114.6h0M794.9 115.7h0M796.8 109.1h0M795.6 109.8h0M795.4 126.7h0M795.9 120.0h0M795.8 112.8h0M795.5 130.8h0M797.2 124.3h0M795.5 87.3h0M797.0 137.5h0M797.3 122.3h0M797.2 136.1h0M796.4 128.2h0M797.3 132.2h0M797.0 132.1h0M797.5 107.0h0M796.9 115.1h0M796.0 112.0h0M796.1 114.2h0M796.6 109.9h0M795.7 108.7h0M795.9 109.7h0M796.3 111.0h0M796.3 127.2h0M797.0 128.8h0M796.3 124.8h0M797.5 126.8h0M798.3 129.6h0M797.7 129.0h0M796.5 129.8h0M798.3 129.2h0M796.9 131.8h0M797.3 106.8h0M798.5 90.6h0M798.3 131.8h0M798.8 108.2h0M798.7 112.4h0M798.2 109.2h0M799.7 109.3h0M799.9 116.0h0M798.3 111.1h0M800.3 120.1h0M799.2 111.8h0M799.5 128.8h0M801.3 85.1h0M799.6 81.8h0M800.1 105.2h0M801.5 103.5h0M801.8 101.6h0M800.3 103.6h0M802.0 104.4h0M801.3 107.8h0M801.5 107.5h0M801.9 105.1h0M801.1 109.5h0M801.3 108.6h0M802.3 100.8h0M802.1 106.4h0M801.7 109.8h0M800.6 101.4h0M802.3 125.2h0M801.6 130.5h0M801.2 131.4h0M800.6 127.3h0M801.3 82.7h0M802.3 119.4h0M800.9 121.9h0M802.4 121.8h0M801.2 124.6h0M802.5 114.9h0M800.8 125.0h0M802.7 124.8h0M803.0 132.0h0M803.1 122.9h0M801.6 130.7h0M801.8 127.6h0M801.3 115.6h0M803.1 89.6h0M802.2 115.9h0M803.1 101.0h0M803.4 104.6h0M803.2 97.6h0M802.4 106.4h0M802.2 105.9h0M803.4 103.9h0M802.6 100.9h0M803.2 123.5h0M803.0 125.1h0M804.5 129.3h0M803.0 123.0h0M804.0 110.1h0M805.2 119.5h0M805.5 113.6h0M805.2 113.9h0M804.0 115.4h0M804.9 115.4h0M804.3 85.5h0M803.9 87.6h0M804.5 85.5h0M805.9 104.5h0M804.2 102.7h0M806.2 126.5h0M805.6 131.2h0M805.7 129.0h0M805.6 95.9h0M804.9 95.7h0M806.5 111.3h0M806.6 102.1h0M806.8 123.5h0M806.1 130.2h0M806.1 117.6h0M806.3 88.9h0M807.3 90.1h0M807.0 95.0h0M806.4 93.8h0M807.1 87.0h0M806.3 91.9h0M806.1 92.8h0M807.4 130.0h0M806.4 132.6h0M807.5 132.0h0M806.5 131.1h0M807.5 129.6h0M807.6 100.2h0M808.8 95.7h0M808.3 101.2h0M808.1 97.0h0M808.7 101.6h0M807.2 109.7h0M807.9 101.9h0M808.3 100.4h0M807.2 104.2h0M807.6 101.9h0M808.2 98.6h0M808.8 101.2h0M808.2 86.4h0M808.3 99.2h0M808.4 100.6h0M808.3 99.0h0M807.5 101.8h0M807.9 104.3h0M807.7 107.8h0M809.1 131.6h0M808.3 87.9h0M809.5 109.7h0M810.3 104.7h0M810.0 102.2h0M810.2 91.3h0M809.5 132.1h0M809.3 94.6h0M809.3 92.5h0M808.9 135.1h0M808.9 91.9h0M809.5 97.9h0M810.3 91.4h0M809.4 130.7h0M810.5 91.9h0M809.0 100.5h0M809.0 88.4h0M810.5 89.9h0M809.4 129.7h0M810.7 133.3h0M811.2 91.2h0M809.8 124.0h0M810.5 132.8h0M810.7 135.1h0M809.8 127.7h0M811.9 116.4h0M810.1 130.4h0M812.2 103.0h0M812.3 115.1h0M811.9 111.2h0M811.4 127.2h0M813.7 106.8h0M812.3 96.5h0M812.0 103.4h0M812.6 96.5h0M813.8 95.9h0M811.9 91.1h0M813.5 116.2h0M812.8 108.4h0M813.2 108.3h0M814.6 97.2h0M814.4 95.7h0M814.2 113.4h0M813.6 113.4h0M812.9 113.9h0M813.1 106.3h0M814.9 120.8h0M813.5 120.0h0M813.2 118.8h0M814.5 132.5h0M815.1 115.8h0M814.6 116.3h0M814.9 119.1h0M813.7 119.0h0M815.0 96.2h0M814.3 113.3h0M814.5 95.2h0M814.7 100.0h0M815.0 100.5h0M814.4 97.2h0M813.8 96.4h0M815.2 108.6h0M814.7 103.5h0M815.2 103.3h0M815.8 102.7h0M816.4 108.3h0M814.8 113.5h0M816.5 113.4h0M816.7 97.1h0M816.5 98.7h0M815.2 105.0h0M817.0 119.5h0M815.7 116.9h0M816.1 136.1h0M815.5 99.4h0M817.1 116.9h0M817.0 118.3h0M816.8 117.7h0M817.3 116.8h0M816.6 102.5h0M818.0 96.9h0M816.5 130.8h0M818.0 100.7h0M817.7 101.8h0M817.4 101.5h0M818.2 99.9h0M816.7 120.3h0M817.2 100.9h0M817.6 106.4h0M818.6 129.7h0M819.3 137.6h0M818.4 136.6h0M818.0 140.3h0M818.7 125.8h0M818.1 127.5h0M818.8 125.7h0M818.9 96.7h0M818.5 109.7h0M819.7 135.9h0M820.1 133.8h0M820.1 135.4h0M819.0 136.6h0M819.9 135.2h0M819.7 140.9h0M819.5 136.2h0M821.0 93.7h0M820.9 95.4h0M821.0 132.2h0M820.6 133.6h0M821.0 144.1h0M820.3 136.7h0M820.2 131.4h0M819.9 129.7h0M820.5 135.9h0M820.7 136.3h0M820.3 133.4h0M820.4 139.6h0M821.1 100.6h0M822.3 144.2h0M821.9 142.4h0M822.2 138.9h0M820.4 142.7h0M820.5 144.4h0M822.2 135.1h0M821.2 138.6h0M821.6 138.0h0M822.1 133.9h0M821.0 139.5h0M820.5 128.3h0M820.5 141.0h0M821.3 143.2h0M822.3 138.7h0M820.9 127.6h0M823.1 141.5h0M822.8 143.6h0M822.8 137.9h0M821.5 139.1h0M821.8 138.8h0M822.7 139.8h0M821.3 146.5h0M822.2 112.6h0M822.9 122.4h0M823.0 126.9h0M822.9 122.8h0M823.0 125.2h0M824.4 118.8h0M823.3 143.1h0M824.0 134.9h0M825.1 133.4h0M823.5 136.3h0M824.2 134.1h0M825.3 128.0h0M824.6 118.6h0M825.2 126.7h0M824.3 118.1h0M824.3 116.6h0M824.5 123.6h0M825.4 124.3h0M825.8 147.5h0M825.6 148.4h0M825.6 137.0h0M824.9 137.9h0M825.5 135.1h0M826.0 149.3h0M826.5 147.8h0M825.5 120.6h0M826.1 121.1h0M827.0 121.2h0M827.7 149.8h0M827.5 147.1h0M826.6 140.2h0M826.6 140.9h0M826.3 151.4h0M826.0 152.8h0M827.5 152.2h0M826.3 140.7h0M827.4 142.2h0M826.2 144.3h0M826.4 141.9h0M825.9 140.3h0M827.8 128.1h0M826.6 129.4h0M826.3 126.5h0M827.6 126.5h0M827.1 125.6h0M828.0 127.1h0M827.0 124.1h0M827.3 103.6h0M828.4 99.0h0M828.3 102.8h0M826.6 108.8h0M828.0 104.3h0M826.6 103.0h0M826.6 105.1h0M827.8 103.3h0M828.6 105.8h0M828.8 127.7h0M828.1 144.6h0M827.7 149.2h0M828.7 147.4h0M828.9 141.1h0M828.4 135.2h0M829.1 144.8h0M828.8 130.2h0M829.2 142.1h0M828.8 142.6h0M829.2 139.2h0M827.9 146.8h0M828.1 144.9h0M829.6 149.4h0M829.4 149.3h0M829.2 152.3h0M829.0 141.1h0M829.8 153.6h0M828.8 140.3h0M828.7 148.3h0M829.3 147.5h0M829.7 145.7h0M830.2 129.4h0M830.1 128.5h0M829.4 139.9h0M829.7 136.0h0M829.3 137.5h0M830.4 133.4h0M829.1 134.6h0M829.7 141.0h0M830.0 137.0h0M829.5 149.5h0M829.4 97.4h0M830.8 96.2h0M829.5 123.8h0M829.7 95.1h0M829.6 98.3h0M830.1 101.0h0M830.6 112.3h0M830.3 146.6h0M830.5 96.1h0M830.7 97.3h0M829.7 98.5h0M830.0 96.6h0M830.6 98.3h0M830.6 106.1h0M830.0 104.1h0M831.3 108.6h0M831.3 111.5h0M832.2 115.4h0M831.8 114.0h0M830.6 114.4h0M830.5 113.8h0M831.0 113.6h0M830.9 116.0h0M831.7 115.1h0M831.9 108.2h0M830.6 114.1h0M831.4 117.9h0M831.3 111.5h0M830.7 114.8h0M830.6 115.5h0M832.4 111.7h0M831.7 108.9h0M832.1 108.3h0M831.5 108.1h0M831.0 109.6h0M831.3 104.4h0M832.7 118.5h0M831.8 120.4h0M833.0 104.8h0M832.7 141.2h0M831.8 122.3h0M833.8 116.4h0M833.6 117.4h0M833.8 117.5h0M833.7 116.6h0M833.7 123.5h0M834.0 134.4h0M833.8 130.8h0M833.8 139.9h0M833.9 137.6h0M834.5 143.6h0M834.2 128.2h0M833.7 115.6h0M834.2 122.5h0M834.9 122.1h0M833.3 121.4h0M835.0 121.8h0M835.5 132.6h0M833.8 133.6h0M835.4 102.9h0M835.2 139.7h0M834.3 137.8h0M834.8 125.7h0M834.4 135.8h0M835.2 138.1h0M834.5 103.8h0M836.1 99.8h0M834.6 101.2h0M835.7 136.6h0M836.8 129.7h0M837.0 135.8h0M837.2 96.5h0M837.3 109.5h0M837.1 110.6h0M836.2 115.8h0M836.9 114.2h0M836.8 110.9h0M836.9 114.8h0M836.3 114.7h0M836.1 111.8h0M837.7 127.5h0M837.9 135.5h0M836.1 133.3h0M836.5 131.0h0M836.5 130.6h0M836.9 131.1h0M836.2 130.5h0M836.6 129.7h0M836.2 132.2h0M837.6 131.8h0M837.6 131.7h0M836.7 118.3h0M837.0 134.1h0M837.3 124.0h0M838.0 91.8h0M839.3 97.1h0M838.8 85.5h0M837.7 85.1h0M838.6 98.1h0M838.6 103.7h0M838.0 105.8h0M839.1 108.7h0M838.5 114.1h0M839.1 103.6h0M839.0 103.7h0M840.0 116.3h0M839.0 118.4h0M839.1 117.2h0M839.0 116.1h0M840.5 123.6h0M839.9 118.9h0M840.3 114.9h0M840.4 122.8h0M839.2 124.8h0M839.7 126.4h0M840.0 122.7h0M839.5 132.8h0M839.9 135.3h0M840.5 128.3h0M839.8 133.4h0M840.0 126.9h0M840.9 125.4h0M841.2 129.7h0M841.0 131.4h0M840.1 133.8h0M840.9 126.9h0M840.1 135.2h0M841.0 135.6h0M841.3 125.5h0M839.9 92.4h0M840.2 132.5h0M842.0 131.1h0M840.8 132.6h0M841.7 133.2h0M840.8 124.5h0M840.2 135.1h0M841.1 136.1h0M841.6 134.8h0M840.7 93.7h0M842.2 119.3h0M842.2 78.8h0M842.3 79.4h0M842.9 120.9h0M842.4 125.7h0M842.1 119.9h0M841.2 125.7h0M841.8 122.6h0M841.9 125.2h0M842.6 126.9h0M842.9 129.6h0M841.3 119.3h0M842.1 128.3h0M842.9 126.3h0M842.3 121.6h0M843.0 103.8h0M843.4 100.1h0M843.0 123.7h0M843.7 85.0h0M844.6 115.3h0M843.0 108.2h0M844.7 76.1h0M845.1 73.9h0M844.9 76.6h0M843.6 74.3h0M844.8 133.7h0M845.3 134.1h0M845.4 108.5h0M844.6 108.5h0M844.7 113.7h0M845.1 114.1h0M844.6 103.6h0M844.7 107.8h0M844.7 106.7h0M845.5 104.8h0M844.6 97.3h0M844.9 120.2h0M846.4 113.3h0M846.1 111.0h0M845.2 112.5h0M846.0 122.3h0M846.3 116.5h0M845.3 119.1h0M845.9 111.1h0M846.3 131.6h0M846.8 122.7h0M845.6 119.9h0M846.2 124.8h0M847.0 126.9h0M845.7 135.1h0M847.4 125.1h0M846.2 103.0h0M847.7 119.7h0M846.4 108.5h0M846.3 106.1h0M847.5 106.4h0M846.5 114.1h0M846.6 99.4h0M847.8 108.2h0M846.9 118.5h0M847.3 121.0h0M847.5 124.6h0M848.7 126.6h0M848.4 109.7h0M847.9 115.8h0M848.6 115.2h0M848.0 112.6h0M849.3 107.1h0M849.3 118.1h0M849.2 104.1h0M848.4 127.0h0M848.9 110.3h0M849.1 127.3h0M848.6 126.0h0M847.8 127.8h0M848.5 134.7h0M848.0 141.6h0M848.9 126.9h0M848.2 129.3h0M849.6 130.1h0M847.7 135.7h0M848.7 127.1h0M848.6 122.0h0M849.6 104.3h0M849.6 100.9h0M848.9 102.2h0M849.5 83.6h0M850.3 81.0h0M850.4 112.6h0M851.3 91.5h0M849.6 93.0h0M850.0 90.2h0M851.1 94.5h0M849.9 92.3h0M851.0 90.8h0M851.1 93.3h0M851.2 92.6h0M850.2 90.9h0M850.7 86.2h0M849.7 91.1h0M852.1 137.1h0M850.5 134.5h0M851.4 138.1h0M852.5 114.7h0M850.7 123.8h0M852.1 114.9h0M851.5 117.7h0M852.5 121.1h0M851.8 111.6h0M852.9 146.8h0M852.3 148.6h0M851.5 150.3h0M851.2 145.4h0M851.3 150.2h0M852.2 146.4h0M852.8 150.1h0M852.4 138.7h0M853.1 131.8h0M853.3 137.0h0M852.0 133.5h0M851.5 141.7h0M852.2 132.5h0M853.5 128.8h0M852.9 114.8h0M852.6 116.7h0M853.1 100.6h0M852.6 111.4h0M853.5 114.2h0M853.4 109.3h0M853.5 145.0h0M852.9 101.1h0M853.0 104.9h0M854.1 99.8h0M855.1 131.2h0M853.5 121.0h0M855.1 125.8h0M854.8 119.7h0M854.0 132.4h0M854.3 122.0h0M854.3 124.2h0M854.4 122.1h0M855.5 104.3h0M854.5 116.4h0M855.4 104.1h0M854.3 109.5h0M855.5 118.0h0M854.9 114.3h0M855.2 117.4h0M854.2 115.2h0M855.0 118.4h0M854.6 103.3h0M855.4 100.1h0M854.9 124.3h0M856.3 120.6h0M856.6 119.0h0M855.2 118.0h0M856.1 131.9h0M855.7 133.4h0M856.5 122.7h0M855.7 121.8h0M856.5 106.0h0M856.0 120.3h0M857.4 96.0h0M856.1 100.2h0M856.3 98.3h0M858.3 95.2h0M856.6 133.1h0M858.1 90.5h0M858.2 91.7h0M856.7 105.9h0M858.1 102.1h0M856.6 100.3h0M858.1 94.3h0M857.4 106.6h0M857.3 98.9h0M857.4 104.4h0M857.5 158.4h0M858.1 94.5h0M858.1 122.0h0M858.8 124.2h0M858.6 110.7h0M859.1 125.0h0M858.3 112.8h0M858.3 120.4h0M858.0 121.1h0M857.9 133.4h0M859.2 88.6h0M859.4 146.7h0M859.2 122.9h0M859.7 120.3h0M858.9 128.2h0M859.6 128.2h0M859.0 123.2h0M859.8 136.1h0M859.0 121.2h0M858.7 113.6h0M860.4 117.0h0M860.0 111.6h0M860.0 115.1h0M860.5 117.6h0M860.4 117.0h0M860.6 112.9h0M861.3 126.1h0M861.4 96.4h0M860.6 97.7h0M861.5 98.9h0M860.9 97.2h0M860.5 92.4h0M860.0 90.3h0M862.5 129.9h0M861.3 121.3h0M861.3 123.5h0M861.4 113.7h0M861.4 121.4h0M862.2 96.7h0M862.6 89.5h0M862.8 88.7h0M862.8 106.0h0M862.4 97.3h0M861.8 88.6h0M862.2 95.4h0M861.7 95.6h0M861.6 99.4h0M862.6 92.3h0M861.1 114.8h0M862.2 96.8h0M862.9 126.9h0M862.3 108.2h0M861.9 93.5h0M862.3 103.2h0M861.9 132.2h0M861.7 147.8h0M861.3 91.0h0M862.7 124.9h0M862.1 128.3h0M861.5 124.8h0M862.6 124.2h0M861.5 125.4h0M862.7 124.1h0M862.8 131.6h0M861.7 128.2h0M861.6 124.8h0M862.1 126.1h0M862.9 130.1h0M862.7 121.2h0M862.4 117.6h0M862.7 129.5h0M862.5 119.4h0M862.7 114.0h0M862.6 121.9h0M863.5 103.2h0M863.3 102.1h0M862.7 100.2h0M864.6 135.3h0M864.6 138.8h0M863.5 109.3h0M864.2 118.3h0M864.0 118.4h0M865.4 101.0h0M864.3 91.4h0M863.9 130.7h0M864.8 99.5h0M864.5 89.9h0M864.9 130.9h0M865.6 130.0h0M865.8 121.5h0M864.6 131.6h0M864.9 124.4h0M865.6 126.9h0M864.5 140.3h0M866.1 144.5h0M866.1 99.3h0M866.7 91.9h0M865.2 103.8h0M866.2 101.2h0M865.2 99.9h0M865.2 100.9h0M865.8 94.6h0M864.9 98.4h0M866.1 105.9h0M867.0 120.6h0M867.4 110.1h0M868.1 121.0h0M868.3 126.1h0M867.5 118.0h0M867.4 116.0h0M867.2 120.9h0M866.9 123.1h0M868.5 121.6h0M868.6 120.3h0M868.0 123.6h0M869.0 96.5h0M867.6 91.9h0M867.8 151.8h0M869.7 110.2h0M869.2 120.6h0M869.3 114.5h0M869.2 115.8h0M869.3 115.6h0M867.9 117.2h0M868.9 118.4h0M868.6 123.7h0M869.8 122.2h0M868.2 115.9h0M868.7 111.4h0M869.6 109.0h0M868.4 110.5h0M869.2 123.4h0M869.1 117.5h0M869.0 119.3h0M869.4 108.1h0M868.7 157.1h0M869.9 158.4h0M869.1 154.8h0M869.9 158.1h0M869.5 153.6h0M868.9 86.4h0M869.8 153.7h0M869.2 153.1h0M870.2 147.3h0M869.6 117.2h0M870.3 89.1h0M868.6 154.2h0M869.9 140.7h0M870.5 152.5h0M869.7 88.8h0M870.4 149.0h0M869.9 156.5h0M869.2 119.0h0M870.8 157.8h0M869.2 155.2h0M869.4 154.0h0M870.4 121.4h0M869.9 126.6h0M870.1 121.0h0M870.4 125.2h0M870.0 114.9h0M872.0 118.1h0M871.9 117.0h0M872.2 105.2h0M871.2 153.0h0M871.3 152.5h0M872.9 153.1h0M873.1 149.2h0M871.9 148.2h0M871.3 141.6h0M871.7 145.5h0M872.6 142.3h0M872.5 153.5h0M872.9 150.0h0M871.4 152.6h0M873.1 143.8h0M871.1 153.1h0M872.1 145.8h0M872.8 142.7h0M871.7 153.1h0M872.6 151.4h0M871.4 146.6h0M872.6 142.8h0M872.6 145.8h0M873.0 141.8h0M872.7 148.0h0M871.6 155.1h0M873.0 151.1h0M872.2 145.3h0M872.6 157.6h0M872.3 113.8h0M872.5 119.3h0M871.7 113.5h0M871.5 118.3h0M873.0 133.3h0M872.5 127.9h0M871.9 126.6h0M873.5 147.8h0M873.5 142.3h0M873.2 157.6h0M873.3 145.2h0M872.9 133.0h0M874.5 144.1h0M873.5 141.7h0M873.4 138.0h0M873.6 137.1h0M874.1 152.1h0M872.7 148.2h0M874.6 144.0h0M873.5 150.4h0M873.1 157.8h0M873.9 153.3h0M874.4 77.9h0M873.7 77.1h0M873.9 104.4h0M874.4 93.0h0M874.4 107.3h0M874.0 102.2h0M875.4 103.9h0M873.8 111.3h0M875.8 125.9h0M874.5 120.7h0M875.8 123.1h0M876.3 137.6h0M874.8 135.0h0M876.1 134.4h0M875.5 131.9h0M875.2 132.7h0M875.4 130.5h0M876.7 132.8h0M875.7 127.2h0M875.4 141.2h0M876.3 137.1h0M874.9 129.3h0M875.3 134.3h0M875.4 97.8h0M876.2 111.0h0M877.1 112.6h0M875.6 114.2h0M876.1 110.4h0M876.3 112.3h0M876.7 113.7h0M876.6 118.2h0M875.6 128.8h0M877.4 106.0h0M876.9 104.8h0M877.5 111.7h0M876.7 104.3h0M877.6 107.1h0M876.6 108.2h0M877.2 107.5h0M877.4 111.2h0M877.0 108.8h0M877.0 108.1h0M877.8 133.4h0M877.6 129.7h0M878.3 140.1h0M877.4 136.6h0M878.7 138.7h0M878.0 128.5h0M877.6 141.4h0M878.3 126.5h0M878.6 131.9h0M877.2 129.9h0M878.6 132.5h0M877.5 131.2h0M878.4 130.5h0M878.9 131.4h0M878.5 134.1h0M878.3 131.6h0M877.7 128.3h0M878.2 142.3h0M877.8 132.4h0M878.7 133.5h0M878.6 134.6h0M878.5 131.2h0M876.9 132.3h0M878.1 132.3h0M877.6 136.2h0M877.7 128.5h0M877.1 129.7h0M877.1 147.6h0M878.9 146.1h0M878.1 149.2h0M879.5 100.5h0M877.8 102.8h0M878.1 101.6h0M879.2 99.4h0M878.1 100.4h0M879.3 140.3h0M879.3 141.7h0M879.1 140.3h0M878.8 145.6h0M878.4 141.5h0M879.4 143.9h0M878.1 145.4h0M879.4 140.3h0M880.1 123.6h0M879.9 122.7h0M880.8 97.9h0M880.2 92.7h0M880.2 92.6h0M880.3 86.9h0M880.1 149.2h0M881.2 97.2h0M880.6 97.1h0M879.9 97.7h0M880.8 91.8h0M880.9 96.7h0M879.5 94.1h0M880.6 92.5h0M880.5 103.3h0M881.3 99.8h0M881.0 98.8h0M881.2 108.4h0M880.6 135.2h0M882.2 129.5h0M882.2 132.2h0M881.4 91.8h0M882.6 102.0h0M881.1 97.9h0M881.9 143.4h0M881.5 150.0h0M883.0 153.9h0M882.6 151.4h0M882.3 109.6h0M881.6 148.9h0M882.1 147.2h0M881.9 153.8h0M882.8 145.1h0M881.7 149.5h0M883.1 149.1h0M882.3 151.7h0M882.1 145.5h0M883.1 114.7h0M883.0 145.2h0M882.7 132.7h0M882.4 126.9h0M883.9 131.8h0M883.8 124.7h0M882.5 128.5h0M884.6 137.6h0M884.7 116.4h0M885.2 113.6h0M884.9 128.2h0M885.7 117.3h0M884.8 131.5h0M884.8 124.5h0M885.5 125.7h0M884.2 126.8h0M884.2 123.1h0M884.7 116.9h0M884.8 107.0h0M884.5 103.9h0M885.9 107.8h0M885.6 109.5h0M884.7 106.2h0M884.9 105.6h0M885.7 106.4h0M886.1 152.1h0M885.9 150.3h0M886.2 147.0h0M886.6 109.3h0M885.7 119.9h0M886.2 126.2h0M886.7 125.6h0M885.3 126.5h0M886.7 117.0h0M885.8 117.9h0M885.3 117.7h0M887.0 123.1h0M887.1 118.6h0M886.0 126.8h0M886.1 118.8h0M886.3 145.6h0M887.1 149.8h0M886.9 147.6h0M886.2 139.4h0M887.0 154.1h0M887.3 143.4h0M886.2 148.3h0M887.7 143.7h0M887.1 145.3h0M886.8 139.3h0M888.3 142.3h0M886.9 144.5h0M887.7 145.0h0M888.0 101.0h0M888.8 112.6h0M887.4 153.6h0M887.9 109.8h0M887.6 100.6h0M888.2 129.5h0M888.4 99.2h0M887.4 102.4h0M887.9 100.7h0M887.7 131.8h0M888.2 105.1h0M888.1 118.1h0M888.3 107.8h0M888.6 109.4h0M888.5 108.7h0M887.5 120.2h0M887.7 116.8h0M889.0 138.2h0M889.6 134.1h0M889.7 130.5h0M888.9 123.5h0M889.8 100.8h0M890.1 111.7h0M888.9 102.3h0M889.9 123.5h0M888.8 124.7h0M888.7 127.9h0M889.5 117.3h0M890.3 112.5h0M890.1 113.1h0M889.0 112.0h0M890.0 109.9h0M889.7 109.3h0M890.7 112.5h0M890.1 109.9h0M889.5 114.1h0M889.5 112.1h0M889.3 109.7h0M889.7 109.6h0M889.2 107.3h0M890.0 108.9h0M891.0 96.4h0M891.9 103.8h0M890.1 98.9h0M891.2 97.4h0M892.3 85.1h0M892.3 98.2h0M890.9 111.7h0M891.2 140.7h0M891.4 150.2h0M892.7 150.9h0M892.5 143.6h0M893.2 116.4h0M892.6 120.4h0M893.2 121.6h0M892.5 110.9h0M892.4 117.2h0M892.3 116.8h0M892.3 111.8h0M893.6 113.5h0M891.9 114.9h0M893.0 115.4h0M891.9 120.4h0M892.8 116.1h0M892.3 111.3h0M894.4 156.5h0M893.2 156.5h0M892.9 107.7h0M894.4 154.2h0M893.2 96.6h0M894.1 136.9h0M893.1 160.1h0M894.3 157.5h0M893.6 142.3h0M893.3 160.3h0M893.1 156.8h0M893.4 158.5h0M893.5 160.3h0M894.8 157.8h0M893.7 133.7h0M893.9 152.8h0M893.9 158.6h0M893.3 159.4h0M893.0 163.7h0M893.7 160.9h0M894.0 162.6h0M893.7 138.8h0M894.5 143.0h0M893.9 156.8h0M894.2 149.8h0M896.2 96.8h0M894.7 102.2h0M895.5 103.1h0M896.0 103.4h0M894.9 101.3h0M896.1 139.7h0M896.3 127.1h0M897.5 129.0h0M897.3 131.7h0M898.0 138.5h0M898.0 136.4h0M897.7 143.0h0M896.4 134.7h0M897.4 126.3h0M897.7 125.8h0M897.8 126.5h0M897.5 114.4h0M897.2 141.4h0M898.8 166.4h0M899.1 168.8h0M898.1 165.2h0M899.0 167.7h0M899.3 167.1h0M899.7 97.5h0M900.2 101.5h0M899.4 102.5h0M898.8 148.8h0M899.5 142.1h0M900.4 98.4h0M900.0 100.4h0M900.8 132.2h0M900.6 132.1h0M900.0 136.1h0M899.6 132.7h0M900.9 129.6h0M901.0 139.0h0M900.3 136.2h0M900.8 131.8h0M900.6 128.0h0M899.8 127.5h0M901.1 125.3h0M901.3 126.1h0M900.8 126.3h0M900.7 121.8h0M900.4 138.6h0M901.7 121.4h0M900.5 125.6h0M901.5 164.7h0M901.0 166.6h0M902.0 166.7h0M901.7 165.2h0M901.6 164.0h0M902.0 166.2h0M902.1 168.1h0M901.0 167.3h0M902.8 148.9h0M902.4 153.2h0M901.1 165.0h0M902.4 160.2h0M901.6 161.0h0M902.5 159.1h0M902.2 165.3h0M902.8 160.4h0M902.8 177.8h0M902.3 180.2h0M903.3 181.9h0M902.5 140.0h0M903.1 173.2h0M903.7 180.5h0M903.0 181.9h0M903.1 179.7h0M903.9 181.5h0M903.6 179.6h0M902.6 148.9h0M903.8 142.4h0M903.3 156.3h0M903.0 146.9h0M904.3 146.3h0M903.0 140.4h0M903.5 150.3h0M903.8 149.1h0M903.4 156.6h0M903.0 146.1h0M904.0 150.5h0M903.3 147.6h0M903.5 150.4h0M903.4 152.9h0M904.5 148.1h0M904.3 139.3h0M903.3 140.2h0M904.3 135.4h0M904.1 157.4h0M904.6 159.5h0M905.0 158.4h0M905.2 164.1h0M904.1 165.5h0M904.0 151.2h0M904.1 155.6h0M904.4 144.6h0M904.2 144.2h0M904.9 133.1h0M904.7 157.0h0M905.6 167.6h0M905.0 159.1h0M905.7 130.8h0M905.5 124.0h0M905.3 178.3h0M905.0 157.5h0M906.2 166.8h0M905.2 162.5h0M906.2 100.1h0M906.6 167.2h0M906.3 167.5h0M907.9 122.0h0M908.3 158.3h0M908.1 162.0h0M907.8 146.0h0M906.5 159.8h0M907.6 144.9h0M908.4 156.7h0M908.4 153.5h0M908.4 186.0h0M907.5 142.7h0M907.5 142.2h0M907.0 145.8h0M908.2 186.4h0M908.1 195.4h0M908.5 98.1h0M908.3 109.8h0M909.7 101.0h0M909.1 102.2h0M910.6 109.2h0M909.2 107.5h0M909.7 109.3h0M910.3 106.6h0M910.3 126.0h0M910.8 200.2h0M909.9 198.3h0M909.7 122.2h0M909.9 128.5h0M910.5 125.5h0M911.0 123.0h0M910.1 134.1h0M911.6 126.3h0M911.6 154.8h0M911.5 158.7h0M910.9 158.3h0M911.1 157.7h0M910.6 178.6h0M911.9 162.2h0M911.5 165.1h0M911.2 162.5h0M912.6 159.7h0M911.2 160.9h0M912.2 162.5h0M912.5 143.2h0M911.2 137.9h0M912.9 142.0h0M911.4 137.5h0M912.9 136.7h0M912.7 138.1h0M911.8 120.4h0M912.0 127.3h0M912.3 118.3h0M912.0 121.9h0M912.5 119.9h0M912.0 120.5h0M913.3 105.4h0M914.2 119.6h0M914.4 198.9h0M912.8 197.9h0M914.4 205.4h0M912.9 196.0h0M913.5 198.6h0M914.5 162.5h0M914.2 159.1h0M913.9 163.6h0M914.6 157.6h0M914.7 160.3h0M914.3 165.0h0M914.5 159.7h0M913.8 160.5h0M913.3 160.8h0M914.7 165.1h0M914.4 164.0h0M913.3 148.9h0M913.0 146.9h0M913.7 167.7h0M913.6 162.2h0M914.3 162.8h0M913.9 199.7h0M914.2 199.0h0M914.2 199.0h0M913.7 157.7h0M913.7 153.4h0M913.4 153.3h0M914.0 151.7h0M913.7 154.2h0M914.8 157.0h0M915.0 153.1h0M914.1 148.6h0M915.3 177.1h0M915.6 153.6h0M915.5 105.5h0M916.3 208.7h0M914.7 192.2h0M915.0 182.3h0M916.0 175.8h0M915.2 187.1h0M915.5 186.2h0M916.9 176.0h0M916.3 170.9h0M916.6 170.2h0M916.4 169.3h0M916.8 197.4h0M915.5 106.0h0M916.8 104.5h0M915.8 107.3h0M915.7 108.2h0M917.0 116.6h0M917.2 150.0h0M916.3 155.4h0M917.4 199.9h0M917.2 203.3h0M917.8 209.6h0M917.5 205.5h0M916.5 195.9h0M916.7 210.0h0M916.4 192.9h0M917.7 199.2h0M917.8 216.4h0M918.0 200.9h0M918.6 166.9h0M917.3 137.2h0M917.6 139.6h0M919.0 118.0h0M918.0 124.9h0M919.4 122.3h0M917.5 117.9h0M918.1 185.7h0M918.4 178.0h0M919.7 172.6h0M918.1 175.5h0M919.3 173.7h0M918.1 182.2h0M918.3 179.8h0M919.9 178.2h0M918.5 173.7h0M919.2 181.1h0M919.4 113.8h0M918.9 125.1h0M920.3 126.6h0M919.4 121.8h0M918.4 128.9h0M919.0 126.9h0M918.4 112.9h0M919.9 133.8h0M920.5 212.6h0M920.4 214.4h0M919.8 213.6h0M919.0 214.5h0M920.2 214.5h0M920.3 131.0h0M919.5 194.8h0M919.8 188.6h0M921.0 205.8h0M919.6 191.7h0M920.5 204.9h0M920.5 195.1h0M920.7 203.7h0M919.5 199.3h0M920.6 199.9h0M920.7 191.6h0M920.0 165.6h0M920.2 136.2h0M921.0 142.2h0M919.9 139.8h0M921.0 141.1h0M921.4 142.6h0M921.0 136.4h0M920.9 141.6h0M920.3 126.0h0M921.2 129.0h0M920.9 146.5h0M920.6 139.9h0M921.0 141.1h0M920.6 143.5h0M922.1 144.1h0M920.7 151.5h0M920.6 134.1h0M921.2 147.1h0M921.9 138.7h0M922.7 150.6h0M922.0 143.1h0M921.3 137.0h0M921.9 139.6h0M923.4 126.5h0M923.1 129.2h0M922.5 136.7h0M922.4 131.5h0M922.2 187.0h0M922.3 181.0h0M923.9 183.8h0M923.1 185.7h0M923.2 169.2h0M923.9 164.7h0M923.3 174.1h0M923.6 198.9h0M924.2 205.7h0M923.4 208.7h0M924.5 151.8h0M925.0 128.5h0M923.8 131.6h0M923.5 134.2h0M925.6 121.5h0M924.4 149.9h0M925.1 156.4h0M924.7 215.5h0M925.3 217.0h0M924.8 183.9h0M925.4 179.1h0M925.3 182.0h0M926.0 183.1h0M925.8 183.6h0M925.6 180.6h0M925.3 212.5h0M925.6 209.5h0M926.4 226.6h0M925.3 222.2h0M925.8 160.2h0M926.7 157.1h0M925.9 152.9h0M926.5 158.5h0M926.9 157.5h0M927.6 199.3h0M927.7 209.0h0M927.8 198.0h0M926.3 203.1h0M926.5 202.8h0M926.7 203.6h0M926.0 198.5h0M926.6 204.4h0M926.9 200.4h0M927.7 201.5h0M927.6 196.4h0M926.9 194.2h0M927.1 202.9h0M927.6 201.8h0M927.3 137.2h0M927.3 140.1h0M926.3 137.1h0M927.8 129.8h0M926.9 137.5h0M927.8 144.0h0M927.2 134.9h0M927.4 134.1h0M928.3 135.5h0M928.2 227.2h0M927.1 225.5h0M928.4 228.6h0M927.2 224.2h0M928.3 217.4h0M928.6 223.6h0M928.1 151.2h0M928.1 150.0h0M928.4 158.1h0M928.0 155.6h0M929.6 136.3h0M929.3 133.2h0M929.1 141.6h0M928.8 146.5h0M929.9 156.2h0M929.8 151.0h0M929.4 142.0h0M930.9 202.8h0M930.1 202.0h0M930.7 218.0h0M931.4 214.8h0M930.3 183.3h0M930.0 170.0h0M930.9 188.6h0M931.6 176.4h0M931.8 178.9h0M930.4 173.2h0M931.9 176.6h0M931.7 179.0h0M931.5 170.1h0M931.5 180.2h0M930.3 179.2h0M930.9 170.8h0M931.6 182.4h0M931.7 180.0h0M931.5 184.5h0M931.5 177.7h0M931.7 177.2h0M931.8 184.8h0M931.4 187.3h0M931.2 182.3h0M931.0 184.8h0M930.6 179.8h0M930.1 185.2h0M931.0 137.3h0M931.5 152.8h0M931.1 149.7h0M930.7 145.3h0M931.1 174.3h0M932.4 168.6h0M932.5 176.9h0M930.9 172.0h0M931.1 173.0h0M931.3 206.7h0M931.5 207.6h0M931.3 198.6h0M931.5 201.2h0M932.2 209.4h0M931.6 199.6h0M931.0 201.3h0M932.3 211.8h0M931.1 210.6h0M931.0 201.9h0M932.7 148.0h0M933.2 146.1h0M932.7 144.8h0M933.7 201.9h0M932.2 200.7h0M932.0 209.5h0M932.4 193.0h0M932.4 212.7h0M933.3 215.7h0M932.5 193.3h0M931.8 201.7h0M931.9 198.8h0M933.5 198.5h0M932.7 204.5h0M934.1 184.4h0M934.2 181.7h0M933.1 141.8h0M932.9 142.4h0M934.7 139.9h0M933.0 197.8h0M933.0 207.5h0M933.2 201.7h0M933.7 201.4h0M933.2 200.9h0M933.9 205.2h0M934.5 204.2h0M933.7 166.7h0M933.9 196.0h0M933.6 191.6h0M935.1 184.7h0M934.8 195.1h0M935.2 199.7h0M933.7 141.2h0M934.5 150.0h0M934.9 150.9h0M935.8 181.5h0M934.5 183.2h0M936.0 177.4h0M934.4 169.4h0M934.8 141.9h0M935.6 164.7h0M935.6 176.4h0M935.3 172.6h0M936.2 173.3h0M935.7 175.7h0M936.2 138.9h0M936.1 141.9h0M937.1 177.4h0M935.8 171.1h0M937.2 179.8h0M935.5 179.4h0M935.8 182.3h0M935.9 179.9h0M936.9 184.2h0M937.7 181.7h0M937.3 184.7h0M936.4 186.2h0M937.6 182.0h0M937.8 184.7h0M937.7 218.7h0M936.1 226.9h0M937.1 229.2h0M936.9 225.8h0M937.6 233.7h0M937.6 224.6h0M937.0 229.0h0M938.3 196.8h0M938.8 230.0h0M938.8 233.5h0M937.7 229.6h0M938.3 230.5h0M937.7 229.5h0M937.3 230.1h0M938.5 231.1h0M938.7 131.1h0M938.5 129.9h0M938.6 134.2h0M938.4 156.0h0M938.3 149.4h0M939.0 147.1h0M938.3 148.0h0M938.6 161.7h0M938.5 161.2h0M938.7 176.8h0M939.7 233.2h0M939.1 224.3h0M938.6 199.1h0M940.2 224.4h0M939.7 232.5h0M938.8 228.0h0M940.0 176.5h0M939.4 233.2h0M939.4 231.3h0M939.5 224.2h0M939.2 167.8h0M939.8 187.6h0M939.8 189.1h0M939.3 185.1h0M939.8 177.9h0M940.6 184.9h0M939.2 182.9h0M940.1 182.8h0M939.6 179.5h0M939.8 180.5h0M940.2 183.0h0M939.5 179.6h0M939.1 180.4h0M940.9 208.2h0M940.9 208.6h0M940.3 214.8h0M940.7 212.3h0M940.9 216.7h0M939.9 214.2h0M940.7 209.9h0M941.3 223.3h0M940.7 223.9h0M941.0 213.1h0M940.2 222.3h0M941.3 208.4h0M941.0 206.4h0M941.2 209.6h0M940.7 206.4h0M939.7 211.6h0M940.6 208.4h0M939.9 216.8h0M941.0 163.5h0M941.1 234.0h0M941.5 161.7h0M941.5 230.1h0M940.2 216.9h0M940.5 138.7h0M941.8 130.1h0M942.1 132.2h0M940.9 181.3h0M941.4 132.0h0M941.4 132.5h0M940.5 133.2h0M941.0 136.3h0M941.4 129.7h0M940.6 128.6h0M942.2 133.3h0M942.2 128.8h0M941.7 134.7h0M940.8 231.9h0M942.4 233.9h0M942.1 233.5h0M940.5 230.4h0M940.7 169.8h0M941.9 196.7h0M942.7 196.8h0M941.9 191.8h0M941.7 196.0h0M941.3 202.4h0M941.1 199.0h0M942.9 206.9h0M942.3 201.6h0M942.6 200.4h0M941.7 195.6h0M941.5 201.1h0M942.0 195.7h0M942.4 199.4h0M942.5 202.7h0M941.6 206.2h0M941.9 197.9h0M942.8 192.7h0M942.1 195.1h0M941.8 204.5h0M941.0 197.3h0M941.0 196.0h0M941.8 204.0h0M942.1 163.5h0M941.2 162.7h0M942.0 154.6h0M942.3 164.7h0M942.3 165.3h0M941.5 160.6h0M942.9 143.0h0M942.4 150.7h0M942.0 146.1h0M942.7 167.2h0M942.2 163.9h0M942.8 165.0h0M942.2 162.6h0M943.0 196.7h0M943.0 191.5h0M942.5 194.8h0M942.8 198.4h0M943.0 195.8h0M943.0 199.5h0M942.4 193.7h0M943.5 196.1h0M942.7 194.1h0M943.2 204.7h0M942.4 204.6h0M943.1 206.3h0M942.6 227.4h0M943.0 157.3h0M942.5 152.3h0M944.7 224.3h0M944.1 175.7h0M944.6 217.7h0M945.0 233.6h0M944.1 170.1h0M945.1 169.5h0M945.1 182.5h0M944.0 181.4h0M943.8 184.9h0M944.5 151.4h0M946.0 172.0h0M944.9 170.9h0M945.7 171.5h0M945.1 175.0h0M945.2 171.0h0M946.3 176.2h0M946.2 176.1h0M944.8 174.9h0M947.1 197.5h0M945.1 201.3h0M945.3 196.6h0M946.3 194.0h0M946.8 200.5h0M945.4 151.9h0M946.1 144.9h0M945.7 142.9h0M946.5 196.1h0M946.8 181.4h0M947.7 173.0h0M947.2 183.2h0M945.9 182.7h0M946.2 177.8h0M946.1 213.2h0M947.0 206.7h0M947.8 205.8h0M947.1 223.8h0M947.1 213.8h0M946.9 201.7h0M947.6 222.9h0M947.1 225.4h0M948.2 222.2h0M946.8 222.4h0M947.5 236.2h0M948.9 157.2h0M947.2 152.3h0M947.9 159.6h0M947.2 142.4h0M948.3 149.9h0M947.4 175.4h0M948.4 164.3h0M948.0 156.7h0M947.9 156.4h0M947.2 162.2h0M948.4 165.2h0M947.8 167.2h0M947.5 145.3h0M948.7 144.5h0M947.3 148.5h0M949.0 147.9h0M947.7 145.1h0M949.2 138.1h0M948.0 146.4h0M947.7 138.1h0M949.1 149.9h0M948.7 139.3h0M948.2 145.3h0M949.1 148.7h0M949.6 137.2h0M949.4 229.4h0M950.4 194.8h0M948.9 190.1h0M950.4 192.8h0M948.9 194.6h0M950.2 191.7h0M950.2 186.4h0M949.9 191.7h0M950.1 194.9h0M949.8 193.3h0M948.6 196.2h0M948.9 195.9h0M949.2 215.6h0M949.7 212.7h0M950.4 213.1h0M950.3 219.8h0M949.4 211.3h0M950.8 188.5h0M951.1 214.9h0M950.7 236.7h0M951.3 230.6h0M950.4 234.5h0M951.4 195.5h0M951.3 200.3h0M951.1 201.8h0M951.8 204.1h0M951.7 200.4h0M951.1 200.2h0M951.7 200.5h0M950.9 203.7h0M950.6 200.4h0M952.3 199.7h0M952.5 205.4h0M952.0 198.3h0M951.5 198.1h0M952.4 199.5h0M950.9 202.9h0M951.6 200.1h0M952.3 197.0h0M951.7 202.4h0M950.7 202.9h0M951.5 201.9h0M951.4 202.0h0M950.8 197.6h0M951.7 224.4h0M951.6 223.4h0M952.2 225.3h0M951.5 181.2h0M952.5 178.1h0M952.4 184.5h0M952.7 178.6h0M952.3 174.5h0M952.4 178.7h0M952.7 237.3h0M953.3 234.3h0M952.1 239.3h0M951.6 226.5h0M951.8 235.0h0M953.1 237.6h0M953.5 150.3h0M953.3 218.0h0M953.2 215.3h0M952.3 232.9h0M952.7 222.1h0M952.2 194.0h0M953.0 190.0h0M953.4 193.2h0M953.5 194.6h0M952.7 166.7h0M952.3 170.4h0M952.5 162.5h0M953.5 161.8h0M953.7 165.8h0M952.5 163.5h0M952.2 164.8h0M953.7 164.2h0M952.5 164.6h0M952.3 163.4h0M952.6 160.1h0M953.8 166.4h0M952.5 169.7h0M953.5 168.3h0M954.4 149.7h0M953.5 155.8h0M953.7 158.0h0M953.5 157.6h0M952.5 149.7h0M953.5 158.4h0M953.9 147.2h0M952.8 152.3h0M953.1 151.0h0M952.5 157.3h0M952.6 158.0h0M952.7 154.2h0M952.6 161.6h0M953.5 155.0h0M953.5 159.7h0M952.9 152.4h0M952.8 151.5h0M952.8 149.0h0M954.1 150.5h0M952.9 163.9h0M953.8 165.5h0M953.6 162.1h0M953.1 160.2h0M953.8 161.3h0M954.5 159.2h0M953.9 212.8h0M955.0 154.8h0M954.0 166.1h0M955.3 188.7h0M954.6 187.8h0M955.3 194.3h0M953.8 194.8h0M955.0 195.1h0M954.6 198.5h0M954.8 189.0h0M953.7 187.7h0M954.8 180.3h0M954.7 206.4h0M954.3 204.0h0M955.2 192.7h0M955.5 199.1h0M954.6 204.2h0M955.6 204.6h0M954.2 197.8h0M955.6 199.4h0M955.7 201.0h0M955.8 195.5h0M954.7 200.7h0M955.7 199.5h0M955.5 202.5h0M955.6 193.4h0M955.2 199.1h0M954.4 197.4h0M954.5 205.9h0M954.3 197.2h0M955.4 190.5h0M954.4 201.9h0M954.7 203.1h0M954.8 202.3h0M955.3 200.9h0M955.7 203.5h0M955.4 177.9h0M955.6 191.1h0M956.0 196.0h0M956.2 190.8h0M954.5 188.4h0M954.9 185.7h0M955.2 194.7h0M955.5 201.2h0M955.7 194.8h0M956.3 198.8h0M955.9 190.7h0M955.1 189.5h0M955.2 185.9h0M955.9 237.7h0M956.2 220.4h0M955.4 203.4h0M956.0 142.8h0M956.5 145.0h0M957.0 140.4h0M955.6 140.8h0M955.9 141.2h0M956.1 153.2h0M955.6 138.5h0M957.3 140.0h0M957.6 215.1h0M956.0 211.2h0M957.3 224.5h0M957.5 202.1h0M956.8 223.8h0M957.2 216.0h0M955.9 210.5h0M957.4 154.7h0M956.4 154.3h0M957.6 162.0h0M957.0 171.0h0M956.8 160.3h0M958.2 176.9h0M957.0 183.2h0M958.2 179.3h0M957.7 178.9h0M957.9 223.1h0M956.9 220.6h0M957.9 218.8h0M956.9 221.0h0M957.4 221.6h0M956.8 191.0h0M957.9 185.3h0M958.7 195.7h0M957.2 158.6h0M958.5 158.7h0M957.8 145.7h0M957.5 149.9h0M957.8 140.1h0M959.1 136.5h0M959.1 148.4h0M958.2 145.5h0M957.6 160.4h0M958.1 169.4h0M959.3 226.0h0M959.3 151.2h0M959.4 148.0h0M959.5 139.3h0M959.5 140.4h0M959.3 139.6h0M958.7 140.3h0M959.5 148.2h0M959.6 148.9h0M958.2 204.8h0M958.6 163.0h0M958.8 167.1h0M959.5 166.2h0M960.0 168.3h0M960.2 173.2h0M959.6 175.9h0M959.9 173.6h0M959.7 173.8h0M960.1 180.8h0M959.8 178.9h0M959.9 162.0h0M959.7 162.6h0M961.1 213.3h0M959.9 199.8h0M960.1 206.1h0M959.9 207.0h0M960.6 208.6h0M960.4 206.7h0M960.2 229.7h0M959.9 216.0h0M960.2 216.6h0M960.7 154.5h0M960.7 150.2h0M960.5 221.7h0M960.8 224.5h0M960.5 162.4h0M961.2 161.3h0M960.9 156.3h0M962.4 210.9h0M961.0 206.8h0M961.7 230.2h0M961.4 233.9h0M961.8 158.4h0M962.3 160.1h0M961.5 152.8h0M962.3 165.1h0M962.7 153.8h0M962.6 150.5h0M962.1 157.1h0M962.6 168.5h0M963.5 168.7h0M963.2 158.2h0M963.5 155.8h0M962.3 156.5h0M963.5 195.7h0M963.0 204.3h0M963.8 218.0h0M963.6 206.0h0M963.4 216.4h0M962.2 208.5h0M962.5 206.5h0M963.2 141.3h0M963.6 142.5h0M962.3 142.3h0M963.9 140.0h0M962.9 150.9h0M964.1 177.2h0M964.3 194.4h0M964.1 203.8h0M962.7 226.3h0M962.9 235.2h0M964.0 231.1h0M963.4 225.0h0M962.7 228.6h0M963.9 225.2h0M963.5 229.5h0M963.5 233.5h0M963.4 236.5h0M963.4 224.1h0M963.2 227.3h0M964.8 235.7h0M963.6 237.3h0M962.9 234.6h0M964.5 236.8h0M963.2 217.3h0M964.2 219.1h0M964.7 219.2h0M964.2 221.7h0M963.6 161.2h0M965.1 160.1h0M963.5 165.5h0M963.4 156.2h0M965.4 206.3h0M964.3 176.5h0M964.4 176.6h0M964.5 168.7h0M963.8 171.1h0M964.6 170.7h0M963.8 178.2h0M964.4 174.4h0M964.3 176.3h0M963.8 172.3h0M964.0 170.6h0M965.3 176.8h0M964.1 169.4h0M965.0 148.9h0M965.5 140.7h0M965.3 151.9h0M965.2 143.5h0M964.3 142.8h0M965.6 146.8h0M964.9 156.0h0M966.5 158.9h0M965.1 160.2h0M966.3 152.6h0M964.9 166.8h0M964.8 155.4h0M965.9 161.1h0M964.6 160.6h0M966.0 156.7h0M964.6 160.6h0M965.1 158.2h0M965.3 151.3h0M965.1 171.6h0M965.9 178.0h0M966.3 155.6h0M966.8 181.9h0M965.6 175.1h0M966.1 158.2h0M966.7 175.2h0M966.8 174.5h0M966.7 187.0h0M965.9 188.1h0M966.9 191.6h0M965.3 195.3h0M966.7 202.2h0M966.8 195.8h0M966.5 202.3h0M967.1 206.4h0M965.3 194.4h0M965.5 193.9h0M967.2 197.7h0M965.9 195.6h0M965.9 195.1h0M966.1 191.5h0M967.0 194.2h0M966.1 197.0h0M967.4 186.3h0M966.6 178.8h0M967.6 171.5h0M966.9 184.2h0M966.6 178.6h0M968.3 182.5h0M967.9 191.1h0M968.9 195.1h0M967.4 177.3h0M968.3 172.9h0M969.1 176.0h0M969.0 178.7h0M968.5 170.2h0M967.8 177.5h0M967.5 179.5h0M968.7 179.7h0M968.3 146.8h0M967.5 167.1h0M969.3 158.6h0M968.5 166.3h0M968.2 168.7h0M967.5 163.8h0M969.4 218.8h0M968.0 147.4h0M969.6 151.5h0M969.1 201.2h0M968.5 147.2h0M968.4 147.2h0M968.0 157.3h0M969.0 150.8h0M968.6 157.7h0M969.0 163.2h0M968.0 149.4h0M968.6 162.9h0M968.7 151.8h0M969.2 178.2h0M969.5 159.7h0M969.3 161.9h0M968.7 151.7h0M968.9 150.3h0M970.4 147.1h0M969.4 153.5h0M968.6 148.9h0M969.0 147.1h0M970.3 145.6h0M970.2 144.7h0M969.8 211.1h0M969.8 151.4h0M969.8 249.6h0M970.1 249.7h0M969.7 251.0h0M969.2 244.7h0M970.0 163.9h0M970.1 252.9h0M969.0 219.5h0M969.6 172.8h0M969.9 233.6h0M969.0 187.5h0M968.9 186.1h0M969.9 254.6h0M970.8 177.9h0M971.1 168.6h0M970.5 149.7h0M969.7 212.7h0M970.3 253.3h0M970.8 244.8h0M971.2 246.8h0M970.7 250.8h0M970.9 254.4h0M972.1 173.2h0M970.9 179.5h0M971.3 176.7h0M972.4 192.4h0M972.1 199.7h0M972.8 203.1h0M971.8 198.0h0M972.0 204.2h0M972.6 191.8h0M971.2 182.1h0M971.7 187.7h0M972.0 168.6h0M972.1 229.1h0M971.7 230.1h0M972.0 172.4h0M973.4 165.6h0M971.9 181.3h0M973.5 177.5h0M972.1 175.1h0M972.9 177.0h0M973.4 175.3h0M973.5 215.2h0M972.4 196.6h0M973.3 189.4h0M972.8 187.0h0M973.5 181.2h0M972.3 151.3h0M974.0 150.5h0M973.4 158.6h0M972.8 151.0h0M973.9 147.4h0M973.4 150.2h0M973.1 237.4h0M973.5 240.6h0M972.9 238.3h0M972.7 239.0h0M973.1 244.5h0M973.5 239.2h0M973.0 255.7h0M974.3 257.2h0M973.3 198.9h0M973.8 246.3h0M974.1 232.9h0M973.7 234.4h0M973.6 233.2h0M974.5 235.6h0M975.4 235.3h0M973.9 230.8h0M975.0 232.4h0M974.1 238.2h0M974.3 231.5h0M974.2 228.8h0M973.9 233.8h0M975.5 239.6h0M974.2 199.7h0M975.5 201.4h0M975.0 198.7h0M975.0 199.0h0M974.3 202.1h0M976.0 270.7h0M975.5 267.8h0M975.5 267.1h0M975.1 210.6h0M975.2 226.1h0M975.1 224.3h0M976.4 220.8h0M975.9 187.0h0M975.1 191.4h0M975.3 184.5h0M976.8 187.2h0M975.1 169.1h0M975.9 161.2h0M975.4 174.5h0M976.0 250.9h0M975.9 246.9h0M976.7 255.8h0M976.0 222.8h0M977.2 223.0h0M976.3 158.5h0M976.4 205.2h0M976.4 220.5h0M976.7 220.0h0M976.1 228.4h0M977.6 206.2h0M977.0 221.5h0M976.8 225.0h0M977.2 215.9h0M977.2 232.6h0M976.2 234.8h0M977.0 233.6h0M977.7 267.2h0M977.9 284.5h0M977.2 283.8h0M976.9 236.7h0M976.8 235.8h0M977.6 212.0h0M978.4 208.7h0M976.7 217.1h0M978.5 217.6h0M977.6 218.2h0M977.5 204.4h0M977.9 198.4h0M977.7 214.8h0M978.8 213.5h0M977.8 209.5h0M978.8 211.6h0M978.4 198.9h0M978.5 193.4h0M978.6 191.4h0M978.1 197.0h0M977.7 197.5h0M978.1 196.1h0M977.2 195.6h0M977.8 195.1h0M977.7 187.4h0M978.6 190.2h0M978.1 200.9h0M978.8 191.7h0M978.7 185.8h0M979.3 154.9h0M978.2 152.8h0M978.9 249.9h0M979.1 250.7h0M978.6 238.0h0M979.5 248.7h0M979.5 235.1h0M979.3 242.1h0M979.3 250.9h0M979.6 240.3h0M980.0 269.8h0M979.3 264.9h0M979.7 169.5h0M979.4 170.9h0M979.6 172.9h0M978.9 169.2h0M979.8 170.9h0M978.4 165.7h0M979.6 165.6h0M979.7 172.6h0M980.0 167.2h0M978.3 166.8h0M979.1 192.2h0M979.1 194.0h0M978.5 196.8h0M979.2 286.3h0M979.4 270.2h0M980.6 277.4h0M978.8 269.4h0M980.0 257.6h0M979.6 264.7h0M980.8 168.5h0M980.6 172.7h0M980.1 169.1h0M980.1 187.9h0M980.9 183.8h0M981.0 183.4h0M979.6 192.8h0M979.9 183.3h0M980.0 179.6h0M981.3 243.2h0M980.6 238.5h0M979.9 274.4h0M981.7 229.2h0M980.6 233.3h0M980.2 232.6h0M982.2 165.8h0M980.7 167.8h0M981.6 163.6h0M981.2 274.0h0M981.8 271.2h0M980.7 264.2h0M981.3 261.7h0M980.9 271.9h0M980.9 265.6h0M981.4 266.6h0M982.5 274.2h0M981.9 268.1h0M981.7 260.1h0M982.0 257.5h0M982.3 257.6h0M980.6 270.1h0M981.2 152.6h0M982.6 150.0h0M981.6 152.6h0M982.0 157.6h0M981.6 148.8h0M981.6 183.1h0M981.4 181.0h0M983.0 295.5h0M983.2 292.1h0M982.3 288.5h0M981.4 292.1h0M982.2 292.2h0M982.2 271.3h0M983.0 263.6h0M982.6 179.8h0M983.1 182.7h0M982.6 254.3h0M983.0 255.2h0M984.2 233.2h0M984.0 235.6h0M982.5 242.8h0M984.0 238.6h0M984.4 231.5h0M984.0 237.5h0M983.2 243.8h0M983.2 227.6h0M984.9 182.6h0M983.5 181.5h0M984.8 198.2h0M983.6 209.0h0M983.8 168.7h0M984.8 166.4h0M984.9 222.6h0M985.1 220.8h0M985.0 218.2h0M984.3 221.2h0M983.6 262.1h0M984.7 263.2h0M983.9 271.5h0M985.2 265.1h0M984.0 272.5h0M985.6 264.4h0M983.9 227.0h0M984.4 223.6h0M983.9 221.1h0M985.6 227.6h0M985.8 225.1h0M983.9 218.6h0M984.2 221.5h0M984.6 218.0h0M985.5 286.6h0M984.6 295.1h0M985.2 286.4h0M984.4 177.1h0M984.6 173.8h0M986.0 295.6h0M985.4 241.5h0M986.1 295.6h0M986.2 294.5h0M985.2 292.7h0M985.0 154.1h0M984.5 232.8h0M985.1 147.2h0M985.3 146.8h0M986.0 148.0h0M986.1 152.0h0M986.3 257.7h0M985.2 267.5h0M985.9 260.2h0M984.9 261.4h0M984.9 257.3h0M986.5 262.0h0M986.2 254.0h0M985.3 232.5h0M985.3 214.5h0M985.4 217.9h0M985.8 222.5h0M985.3 205.4h0M986.3 184.2h0M985.4 190.4h0M986.5 212.3h0M985.4 158.5h0M987.3 159.5h0M986.0 154.0h0M986.7 155.8h0M986.7 178.3h0M985.6 187.6h0M987.4 163.2h0M986.9 162.2h0M987.1 232.5h0M986.5 228.0h0M986.8 224.7h0M987.3 227.0h0M987.3 225.7h0M986.1 228.7h0M986.2 225.3h0M987.1 231.2h0M986.9 272.2h0M987.1 280.6h0M986.8 268.4h0M987.4 155.5h0M986.8 157.9h0M987.4 157.2h0M988.2 158.3h0M987.3 153.7h0M988.9 183.0h0M988.4 248.3h0M988.4 249.8h0M987.4 249.8h0M987.5 189.1h0M988.8 212.6h0M988.4 200.2h0M987.9 200.7h0M988.6 199.7h0M989.3 199.5h0M989.2 200.7h0M988.7 198.0h0M988.6 198.8h0M989.4 197.2h0M988.8 202.7h0M989.2 194.0h0M988.2 201.8h0M988.7 200.2h0M988.9 193.5h0M988.2 196.8h0M988.4 147.9h0M989.3 190.7h0M989.1 153.7h0M989.2 216.8h0M988.9 215.5h0M989.0 205.2h0M989.2 219.5h0M989.3 216.4h0M989.9 157.5h0M989.5 162.7h0M989.7 278.3h0M990.3 271.1h0M990.8 304.2h0M989.5 192.4h0M989.3 200.1h0M990.7 183.8h0M990.0 194.3h0M991.1 172.8h0M990.0 179.5h0M990.5 172.2h0M990.1 180.6h0M990.7 176.2h0M989.7 171.2h0M990.0 161.2h0M991.2 255.6h0M990.3 250.4h0M991.1 259.0h0M990.1 252.8h0M991.1 257.9h0M991.0 172.8h0M990.9 189.6h0M991.4 179.2h0M990.3 179.5h0M991.4 185.2h0M991.1 167.0h0M991.5 177.2h0M990.1 275.0h0M991.0 292.5h0M990.5 202.5h0M991.1 289.0h0M990.9 279.8h0M991.5 271.0h0M991.6 181.1h0M992.2 185.5h0M992.4 177.1h0M991.8 177.8h0M992.5 182.3h0M991.7 183.3h0M992.7 185.7h0M991.6 295.4h0M991.4 298.3h0M992.5 291.5h0M992.3 298.5h0M991.9 298.6h0M991.9 303.9h0M993.5 229.3h0M992.1 221.7h0M992.4 216.7h0M992.4 217.8h0M992.3 305.6h0M992.6 295.0h0M992.9 297.0h0M992.9 156.2h0M992.6 157.8h0M992.0 161.6h0M993.2 159.3h0M993.3 159.9h0M993.4 301.3h0M992.5 300.5h0M993.5 301.0h0M994.1 303.4h0M993.7 230.0h0M993.0 236.4h0M993.5 224.7h0M994.3 233.0h0M993.2 230.5h0M993.0 287.6h0M994.4 277.5h0M993.5 270.7h0M994.6 277.1h0M993.1 274.1h0M994.4 274.2h0M994.2 240.1h0M994.9 243.6h0M993.9 239.9h0M993.8 233.8h0M994.8 191.5h0M994.7 188.9h0M993.6 192.5h0M994.1 260.9h0M993.8 159.8h0M994.9 162.4h0M995.0 162.2h0M994.3 166.0h0M995.3 158.3h0M993.6 164.7h0M994.4 144.0h0M994.7 161.6h0M995.7 267.0h0M995.0 272.9h0M995.1 270.2h0M995.3 269.4h0M994.3 272.9h0M994.2 220.6h0M994.4 223.7h0M995.1 224.3h0M994.3 225.3h0M995.1 226.0h0M994.7 219.9h0M995.0 216.1h0M995.1 225.6h0M994.9 219.6h0M994.6 218.8h0M996.0 223.5h0M995.4 216.5h0M996.2 222.1h0M995.8 221.7h0M996.3 226.8h0M995.6 220.0h0M994.6 268.1h0M995.8 268.6h0M994.8 268.6h0M995.0 266.7h0M995.9 249.2h0M995.5 244.9h0M996.1 219.0h0M995.6 227.0h0M995.2 241.4h0M995.2 183.8h0M996.0 295.0h0M996.3 302.3h0M995.6 202.2h0M997.8 284.3h0M996.1 292.3h0M997.6 295.8h0M997.1 281.3h0M997.2 265.1h0M997.5 270.4h0M997.2 257.4h0M997.4 252.9h0M998.3 260.1h0M997.0 261.1h0M996.4 252.9h0M997.7 256.6h0M997.6 255.4h0M997.3 258.8h0M997.4 211.8h0M997.6 210.5h0M997.8 179.4h0M997.5 188.3h0M997.8 175.2h0M998.8 199.2h0M998.2 172.8h0M997.5 275.7h0M997.6 166.4h0M997.8 164.5h0M997.5 265.1h0M998.8 264.4h0M998.5 251.0h0M997.3 251.0h0M998.4 276.6h0M999.0 284.4h0M998.1 288.8h0M999.7 287.7h0M998.5 284.2h0M999.6 280.6h0M999.6 280.3h0M999.3 279.6h0M998.6 298.9h0M999.2 288.7h0M998.9 287.5h0M998.8 287.0h0M998.8 289.1h0M999.8 293.0h0M998.6 294.5h0M999.8 223.1h0M999.6 206.7h0M999.8 204.3h0M999.7 206.7h0M999.3 213.8h0M999.6 214.5h0M1000.4 217.3h0M998.9 215.7h0M999.8 211.6h0M999.5 213.7h0M1000.4 230.7h0M999.2 235.0h0M1000.7 283.8h0M1000.3 275.8h0M999.9 289.9h0M999.8 279.3h0M999.9 289.6h0M1001.0 275.1h0M999.8 285.9h0M999.7 277.2h0M1000.0 282.2h0M999.5 290.7h0M999.5 289.0h0M1000.0 246.1h0M1001.1 296.5h0M1001.3 297.5h0M1000.9 303.1h0M1001.1 297.7h0M1000.9 312.7h0M1001.4 304.5h0M999.9 304.6h0M1000.6 307.7h0M1000.6 309.1h0M1000.3 304.6h0M1000.2 305.5h0M1000.6 307.6h0M1000.8 302.3h0M1001.6 238.9h0M1000.4 232.6h0M1000.1 236.3h0M1000.2 183.1h0M1001.5 182.4h0M1002.0 182.7h0M1001.5 184.3h0M1001.5 204.3h0M1001.8 181.6h0M1000.8 187.9h0M1001.8 187.6h0M1001.3 242.3h0M1001.9 236.5h0M1000.8 243.6h0M1001.9 227.8h0M1000.6 244.4h0M1001.5 239.8h0M1001.3 245.5h0M1002.1 245.6h0M1000.8 230.2h0M1000.7 256.4h0M1002.2 231.4h0M1002.3 193.5h0M1001.4 191.9h0M1001.6 251.8h0M1001.1 232.7h0M1001.1 242.4h0M1001.4 231.5h0M1002.2 227.1h0M1002.6 234.7h0M1002.9 312.2h0M1002.3 311.6h0M1003.1 312.5h0M1002.2 310.3h0M1001.3 314.4h0M1003.1 314.1h0M1001.3 312.7h0M1002.6 312.0h0M1002.5 313.1h0M1003.2 313.9h0M1001.5 308.7h0M1003.1 314.4h0M1002.0 317.3h0M1003.1 248.4h0M1001.6 245.0h0M1002.4 184.1h0M1002.3 184.3h0M1003.5 184.3h0M1002.2 182.2h0M1002.2 180.4h0M1001.7 184.7h0M1003.5 194.2h0M1002.8 187.4h0M1002.3 196.1h0M1003.3 198.5h0M1003.5 224.7h0M1002.1 317.0h0M1003.1 268.7h0M1003.3 275.2h0M1003.2 276.6h0M1002.9 270.2h0M1002.6 275.9h0M1004.3 234.0h0M1004.4 232.4h0M1004.2 178.9h0M1003.0 176.2h0M1003.1 188.9h0M1004.5 194.4h0M1003.7 179.2h0M1003.4 182.0h0M1003.7 280.2h0M1004.5 288.2h0M1004.7 279.6h0M1003.1 282.3h0M1003.8 287.0h0M1003.3 285.6h0M1003.7 282.9h0M1004.6 280.7h0M1004.7 279.1h0M1003.7 281.8h0M1003.4 285.0h0M1004.2 285.4h0M1003.3 205.8h0M1003.5 217.6h0M1005.2 308.2h0M1005.2 186.8h0M1005.4 185.9h0M1005.0 192.6h0M1005.3 185.9h0M1005.0 247.4h0M1004.9 250.3h0M1004.2 238.8h0M1004.6 249.6h0M1005.2 236.3h0M1004.0 239.5h0M1005.3 247.8h0M1004.3 253.4h0M1004.4 245.5h0M1005.5 240.9h0M1004.9 250.1h0M1003.8 258.1h0M1004.9 252.8h0M1005.7 232.8h0M1005.7 232.5h0M1005.9 233.8h0M1004.6 235.4h0M1006.2 231.8h0M1004.6 227.7h0M1006.2 236.4h0M1006.1 227.6h0M1005.8 229.4h0M1004.7 229.4h0M1004.6 293.7h0M1005.5 295.0h0M1005.8 300.6h0M1005.1 299.2h0M1005.0 299.2h0M1004.8 295.5h0M1006.5 247.2h0M1006.4 242.6h0M1006.1 240.4h0M1005.9 247.8h0M1005.3 245.0h0M1005.9 247.3h0M1004.9 248.2h0M1006.2 250.8h0M1004.7 249.7h0M1005.6 178.5h0M1006.2 180.6h0M1006.3 319.0h0M1006.4 174.3h0M1005.9 228.5h0M1005.7 229.8h0M1006.7 225.6h0M1005.7 231.8h0M1006.6 233.2h0M1006.0 232.2h0M1006.9 223.7h0M1005.8 238.5h0M1005.2 232.9h0M1006.7 233.4h0M1006.3 228.9h0M1006.1 321.8h0M1006.2 235.2h0M1006.0 242.9h0M1005.8 233.4h0M1006.4 243.6h0M1007.0 312.0h0M1005.9 288.7h0M1006.5 285.5h0M1007.7 284.1h0M1007.3 258.3h0M1006.4 251.9h0M1006.8 257.0h0M1006.6 260.4h0M1006.6 255.2h0M1007.5 292.1h0M1007.5 302.1h0M1007.8 294.3h0M1006.8 296.1h0M1007.9 295.4h0M1008.1 292.9h0M1006.6 290.3h0M1007.8 272.4h0M1007.0 262.5h0M1006.4 264.4h0M1008.2 196.9h0M1007.7 178.5h0M1007.4 295.4h0M1006.9 303.3h0M1008.0 296.8h0M1008.7 311.6h0M1008.3 302.4h0M1006.8 298.0h0M1007.6 306.7h0M1007.0 300.4h0M1007.4 294.5h0M1007.4 294.8h0M1006.9 303.3h0M1007.9 293.5h0M1007.4 292.3h0M1007.8 308.0h0M1008.0 297.8h0M1007.1 306.3h0M1008.7 303.4h0M1007.9 194.8h0M1007.4 207.8h0M1007.8 210.3h0M1007.7 210.8h0M1009.0 267.2h0M1008.7 257.8h0M1007.7 269.4h0M1008.8 264.5h0M1007.8 260.3h0M1009.4 268.6h0M1008.2 263.7h0M1008.1 267.2h0M1008.3 267.4h0M1007.5 272.1h0M1009.2 266.8h0M1009.4 263.3h0M1007.5 255.2h0M1007.9 261.5h0M1007.7 266.4h0M1008.0 256.0h0M1008.8 272.9h0M1008.2 268.7h0M1008.0 258.2h0M1008.9 241.5h0M1008.4 287.7h0M1008.8 252.0h0M1008.7 182.4h0M1009.2 186.9h0M1007.9 180.4h0M1008.6 283.5h0M1008.5 279.7h0M1009.1 225.4h0M1009.3 219.6h0M1009.8 219.9h0M1009.1 224.2h0M1009.8 228.8h0M1008.9 184.1h0M1009.5 187.3h0M1008.7 180.4h0M1009.2 321.9h0M1009.8 245.2h0M1010.2 246.3h0M1010.6 247.6h0M1009.7 248.9h0M1009.4 254.5h0M1009.1 246.7h0M1009.8 255.5h0M1009.7 221.8h0M1009.8 221.8h0M1010.7 223.8h0M1009.5 291.5h0M1009.2 299.8h0M1009.9 181.6h0M1010.8 182.1h0M1010.2 181.2h0M1010.1 204.8h0M1010.3 190.0h0M1011.1 319.1h0M1010.1 228.6h0M1011.4 216.7h0M1011.2 233.9h0M1010.1 219.8h0M1011.3 227.3h0M1011.7 218.2h0M1011.7 191.6h0M1011.2 189.1h0M1010.3 235.2h0M1011.9 182.4h0M1011.0 312.8h0M1011.9 182.9h0M1012.0 187.6h0M1010.5 195.1h0M1010.8 220.3h0M1011.7 254.4h0M1011.3 249.2h0M1011.6 198.2h0M1010.8 236.3h0M1012.0 223.5h0M1011.4 275.7h0M1012.1 271.2h0M1012.0 236.5h0M1011.1 236.8h0M1011.3 258.2h0M1011.6 261.5h0M1012.6 311.6h0M1012.1 300.1h0M1013.2 321.6h0M1013.2 325.4h0M1012.7 324.0h0M1013.3 315.6h0M1013.0 314.5h0M1012.4 303.8h0M1012.9 321.2h0M1012.2 312.3h0M1013.1 297.4h0M1012.8 302.1h0M1011.5 296.7h0M1013.0 292.9h0M1011.5 303.0h0M1013.2 299.1h0M1013.3 300.9h0M1013.3 254.3h0M1013.3 247.8h0M1011.9 241.3h0M1013.5 244.8h0M1012.8 249.9h0M1013.0 244.9h0M1012.4 243.2h0M1012.9 247.7h0M1012.3 234.8h0M1012.7 221.9h0M1013.6 191.3h0M1012.8 193.5h0M1013.5 189.1h0M1013.4 194.3h0M1012.4 188.7h0M1013.4 188.8h0M1012.9 193.8h0M1012.6 189.8h0M1012.8 198.2h0M1014.0 301.9h0M1014.0 257.5h0M1014.2 213.1h0M1013.4 219.4h0M1014.4 219.9h0M1013.4 212.5h0M1013.9 211.8h0M1012.8 213.6h0M1013.9 212.6h0M1014.3 221.1h0M1013.0 200.6h0M1014.1 217.2h0M1013.3 213.0h0M1013.4 219.2h0M1014.3 209.1h0M1014.3 217.1h0M1013.9 207.6h0M1012.7 223.1h0M1014.0 222.9h0M1013.7 204.7h0M1013.8 231.8h0M1013.7 257.4h0M1014.0 215.1h0M1014.1 326.9h0M1015.1 324.4h0M1014.8 325.5h0M1013.4 258.1h0M1013.8 325.9h0M1013.4 322.0h0M1013.9 319.7h0M1013.8 322.9h0M1013.6 326.5h0M1013.8 326.2h0M1014.5 309.6h0M1014.6 323.4h0M1013.9 326.8h0M1014.0 257.6h0M1015.2 320.6h0M1014.2 284.6h0M1015.0 276.8h0M1013.8 276.9h0M1014.6 281.0h0M1014.3 275.2h0M1015.5 278.6h0M1015.6 279.3h0M1014.5 278.2h0M1014.1 276.4h0M1014.2 198.2h0M1015.6 203.4h0M1016.0 224.4h0M1014.5 229.8h0M1015.1 227.9h0M1015.2 194.7h0M1014.7 198.7h0M1015.0 205.6h0M1015.8 201.8h0M1016.0 309.3h0M1015.6 267.5h0M1015.5 261.0h0M1014.8 277.7h0M1016.1 257.2h0M1016.5 277.7h0M1015.7 263.7h0M1015.9 245.0h0M1015.3 305.7h0M1016.0 253.9h0M1017.1 266.0h0M1015.5 249.8h0M1017.0 253.4h0M1016.9 263.5h0M1016.0 216.4h0M1017.4 214.3h0M1017.1 240.9h0M1016.6 256.3h0M1018.0 246.2h0M1017.6 243.7h0M1016.8 224.5h0M1017.9 230.5h0M1017.7 217.2h0M1017.9 227.5h0M1017.6 224.9h0M1016.8 225.9h0M1017.7 231.2h0M1018.2 300.2h0M1017.2 306.8h0M1018.0 318.0h0M1016.7 299.0h0M1016.9 304.0h0M1018.3 309.1h0M1018.3 309.2h0M1016.8 261.3h0M1016.9 256.1h0M1018.0 247.8h0M1017.8 243.8h0M1018.6 258.4h0M1017.1 252.6h0M1016.9 257.7h0M1018.0 258.8h0M1017.2 255.5h0M1017.3 258.6h0M1017.7 261.9h0M1019.0 243.5h0M1018.9 242.2h0M1017.3 243.5h0M1018.8 214.4h0M1019.2 294.3h0M1019.3 294.9h0M1019.0 295.3h0M1017.7 239.9h0M1018.5 258.3h0M1018.2 259.4h0M1019.8 321.8h0M1018.9 327.5h0M1018.4 323.9h0M1019.0 321.2h0M1019.5 321.7h0M1019.8 317.2h0M1018.3 326.0h0M1018.7 323.0h0M1018.1 323.4h0M1018.8 204.1h0M1019.2 196.2h0M1019.8 199.8h0M1018.7 236.2h0M1018.7 237.0h0M1019.5 231.2h0M1020.3 226.2h0M1019.5 212.9h0M1020.1 218.7h0M1020.4 217.7h0M1020.3 204.6h0M1019.1 223.1h0M1019.8 217.1h0M1018.9 205.2h0M1019.0 221.9h0M1019.5 218.3h0M1019.2 239.8h0M1020.4 244.4h0M1019.3 256.7h0M1019.3 243.1h0M1020.4 322.2h0M1019.0 318.5h0M1019.4 186.6h0M1020.5 299.6h0M1019.5 182.7h0M1019.9 185.2h0M1020.3 284.2h0M1020.2 184.6h0M1019.2 183.5h0M1020.1 244.2h0M1021.0 244.9h0M1019.6 249.5h0M1020.8 241.3h0M1020.9 248.1h0M1020.3 247.5h0M1021.1 249.3h0M1021.2 246.9h0M1020.6 250.6h0M1020.2 235.5h0M1020.6 238.2h0M1021.3 181.1h0M1021.2 184.7h0M1021.1 329.8h0M1020.6 287.5h0M1021.4 281.3h0M1020.4 283.6h0M1020.2 324.6h0M1020.7 330.3h0M1022.2 318.8h0M1020.6 329.3h0M1021.7 315.2h0M1020.2 320.3h0M1020.6 324.5h0M1021.4 287.2h0M1021.5 279.9h0M1021.0 295.0h0M1022.0 285.0h0M1022.2 285.7h0M1021.6 290.8h0M1021.4 287.9h0M1020.9 223.3h0M1022.1 216.7h0M1022.5 223.6h0M1021.6 222.0h0M1020.9 218.3h0M1022.3 226.2h0M1022.2 325.0h0M1022.2 322.6h0M1022.0 209.5h0M1023.2 202.6h0M1023.0 200.1h0M1021.9 208.4h0M1022.1 188.0h0M1023.3 189.0h0M1022.5 190.5h0M1021.8 207.4h0M1023.7 291.3h0M1022.1 294.7h0M1023.1 291.2h0M1022.8 293.7h0M1023.0 291.9h0M1022.7 233.1h0M1023.4 229.1h0M1022.7 325.7h0M1024.0 280.0h0M1024.2 277.5h0M1024.2 289.3h0M1023.2 279.7h0M1023.8 264.1h0M1022.9 267.3h0M1023.8 195.3h0M1023.7 201.6h0M1024.3 194.6h0M1023.5 199.1h0M1024.2 197.3h0M1024.4 323.1h0M1024.0 226.4h0M1023.3 229.5h0M1023.8 229.3h0M1023.4 225.3h0M1023.3 227.1h0M1024.2 227.5h0M1023.7 311.5h0M1023.7 309.5h0M1024.9 296.3h0M1024.3 328.1h0M1025.4 322.5h0M1024.2 326.0h0M1024.6 329.1h0M1025.7 322.6h0M1025.7 322.6h0M1025.6 330.8h0M1025.3 329.7h0M1025.6 228.8h0M1024.3 225.6h0M1024.8 240.2h0M1025.6 231.2h0M1025.5 196.0h0M1025.5 215.3h0M1025.3 214.2h0M1026.3 219.0h0M1026.1 223.7h0M1026.4 231.0h0M1026.1 236.0h0M1026.2 265.5h0M1026.6 270.5h0M1025.4 265.3h0M1025.8 269.0h0M1027.2 272.0h0M1025.6 273.6h0M1026.3 223.7h0M1026.4 234.4h0M1025.5 220.0h0M1025.5 228.6h0M1027.4 229.7h0M1026.5 233.6h0M1027.0 232.5h0M1026.5 305.9h0M1027.8 299.2h0M1026.6 302.1h0M1027.6 298.6h0M1026.3 202.3h0M1027.9 203.9h0M1027.7 205.6h0M1028.1 205.6h0M1026.8 206.3h0M1027.4 206.6h0M1027.6 208.4h0M1028.0 244.7h0M1027.2 315.7h0M1027.8 324.2h0M1027.4 314.2h0M1027.8 321.6h0M1027.9 310.2h0M1027.8 336.0h0M1028.2 309.5h0M1027.7 306.7h0M1028.5 328.7h0M1028.0 331.1h0M1027.7 208.1h0M1029.0 199.6h0M1028.2 205.6h0M1028.5 206.6h0M1028.4 207.5h0M1027.5 209.7h0M1027.9 293.2h0M1028.1 295.8h0M1029.4 228.9h0M1029.8 237.2h0M1028.6 248.5h0M1028.9 240.7h0M1029.1 242.5h0M1028.7 239.7h0M1029.4 237.5h0M1028.7 239.0h0M1029.5 241.7h0M1029.8 238.3h0M1030.1 238.0h0M1028.8 237.3h0M1030.0 243.3h0M1029.0 242.8h0M1028.9 237.6h0M1030.1 241.0h0M1029.6 243.9h0M1028.4 240.9h0M1029.2 237.5h0M1029.0 274.6h0M1029.3 282.9h0M1029.7 291.2h0M1029.9 276.8h0M1030.3 276.4h0M1028.7 286.5h0M1028.6 282.9h0M1028.5 279.2h0M1030.2 301.4h0M1029.1 297.3h0M1029.9 200.2h0M1029.7 199.4h0M1030.8 203.1h0M1029.0 203.9h0M1030.5 204.1h0M1030.5 199.9h0M1030.8 196.2h0M1031.1 309.0h0M1030.6 317.2h0M1029.4 318.4h0M1030.7 201.2h0M1031.2 326.1h0M1030.1 197.1h0M1029.6 203.1h0M1031.3 205.9h0M1029.6 195.9h0M1031.3 282.1h0M1030.6 283.6h0M1031.4 308.9h0M1030.6 269.3h0M1030.2 265.2h0M1030.4 269.6h0M1030.2 258.0h0M1031.1 331.4h0M1032.0 322.7h0M1031.9 338.0h0M1031.8 331.6h0M1030.5 330.1h0M1030.6 329.5h0M1031.2 336.4h0M1030.9 326.0h0M1030.2 275.1h0M1030.6 322.3h0M1031.3 330.8h0M1030.5 314.3h0M1032.1 321.4h0M1030.4 305.0h0M1031.7 311.7h0M1030.7 330.4h0M1030.9 306.2h0M1030.5 329.8h0M1031.9 236.7h0M1031.0 237.9h0M1032.1 240.0h0M1030.6 245.3h0M1032.2 237.0h0M1030.6 237.4h0M1031.9 237.3h0M1032.1 232.0h0M1032.7 226.0h0M1032.6 228.8h0M1032.5 230.1h0M1031.3 208.9h0M1031.5 211.8h0M1031.2 213.0h0M1031.1 338.5h0M1032.8 278.3h0M1031.6 276.8h0M1031.4 268.3h0M1032.3 269.9h0M1032.5 283.3h0M1032.8 250.1h0M1032.4 334.8h0M1032.8 335.7h0M1032.6 334.4h0M1033.7 293.2h0M1033.0 286.8h0M1032.9 293.5h0M1033.6 295.4h0M1032.3 296.1h0M1032.4 284.1h0M1033.7 284.6h0M1032.1 296.8h0M1033.7 298.0h0M1033.3 288.5h0M1033.3 299.2h0M1032.8 290.4h0M1033.1 284.9h0M1032.7 288.3h0M1033.2 283.6h0M1032.7 296.2h0M1033.3 294.0h0M1033.3 288.8h0M1034.0 209.0h0M1032.4 219.1h0M1032.5 271.0h0M1033.5 271.9h0M1033.3 271.9h0M1032.8 274.1h0M1033.3 312.2h0M1033.9 315.1h0M1034.7 253.4h0M1033.5 248.5h0M1033.0 290.7h0M1033.6 291.1h0M1035.0 295.7h0M1034.7 297.5h0M1035.0 300.4h0M1033.3 292.2h0M1034.0 299.5h0M1034.1 299.7h0M1033.1 300.2h0M1034.7 299.8h0M1034.8 295.5h0M1034.4 293.1h0M1034.0 294.3h0M1034.5 296.1h0M1034.8 296.2h0M1034.7 295.2h0M1033.7 292.2h0M1034.8 295.0h0M1034.1 282.6h0M1034.8 280.6h0M1033.9 278.0h0M1034.6 273.9h0M1033.4 254.3h0M1034.9 267.6h0M1033.7 266.7h0M1034.7 258.9h0M1035.2 238.7h0M1035.4 229.9h0M1034.9 237.7h0M1033.7 231.7h0M1034.3 235.8h0M1035.7 234.2h0M1035.7 238.1h0M1035.1 315.1h0M1034.2 320.2h0M1035.6 290.3h0M1035.4 298.2h0M1034.7 291.7h0M1034.2 297.2h0M1034.3 301.6h0M1036.0 293.3h0M1034.2 294.7h0M1034.4 300.3h0M1035.2 301.5h0M1035.1 293.0h0M1036.0 294.6h0M1034.2 305.1h0M1035.2 315.5h0M1034.3 316.1h0M1035.2 308.3h0M1035.8 310.1h0M1035.7 323.2h0M1036.4 221.3h0M1035.1 210.3h0M1034.7 217.0h0M1035.4 213.5h0M1034.9 217.5h0M1035.4 329.3h0M1036.6 325.8h0M1036.3 327.4h0M1035.2 327.2h0M1034.6 321.8h0M1036.7 260.8h0M1035.5 256.1h0M1035.4 260.1h0M1035.6 257.9h0M1035.2 260.4h0M1035.2 260.3h0M1035.3 259.9h0M1036.0 261.4h0M1036.8 239.6h0M1035.5 241.9h0M1036.3 255.1h0M1035.1 239.5h0M1035.5 246.1h0M1035.6 246.3h0M1035.8 255.6h0M1035.7 239.6h0M1035.7 248.1h0M1036.5 239.8h0M1036.3 243.9h0M1036.3 252.3h0M1036.4 252.1h0M1036.0 306.0h0M1035.9 313.4h0M1037.2 309.1h0M1035.9 319.3h0M1036.5 215.4h0M1036.8 212.0h0M1036.9 207.9h0M1036.4 209.8h0M1036.4 211.3h0M1037.1 216.1h0M1036.9 216.7h0M1035.7 214.5h0M1036.4 255.1h0M1036.8 248.0h0M1036.9 255.5h0M1037.5 246.8h0M1036.1 260.8h0M1036.6 248.9h0M1035.9 251.0h0M1036.9 251.4h0M1036.1 257.8h0M1036.4 330.9h0M1036.8 331.0h0M1036.8 331.7h0M1037.2 244.2h0M1037.3 324.6h0M1037.6 225.2h0M1037.2 214.0h0M1036.8 222.7h0M1037.9 227.3h0M1036.9 210.6h0M1037.6 233.0h0M1038.1 219.4h0M1038.2 219.4h0M1036.9 228.7h0M1037.2 234.4h0M1037.8 216.9h0M1036.7 222.0h0M1038.5 221.1h0M1037.2 224.8h0M1037.8 227.5h0M1038.1 228.3h0M1038.1 309.0h0M1037.9 313.7h0M1038.2 311.2h0M1037.0 313.7h0M1037.7 311.8h0M1038.6 310.1h0M1037.3 312.6h0M1037.1 314.4h0M1037.7 306.4h0M1038.7 307.2h0M1038.6 309.2h0M1037.2 315.1h0M1037.7 310.9h0M1037.2 308.9h0M1038.3 240.5h0M1038.7 251.8h0M1037.6 235.1h0M1039.2 212.2h0M1039.0 210.3h0M1038.3 210.9h0M1038.6 207.7h0M1037.8 218.0h0M1038.6 280.2h0M1038.2 332.2h0M1038.1 246.2h0M1038.4 257.1h0M1039.5 248.1h0M1039.6 328.2h0M1039.3 313.3h0M1039.1 326.6h0M1039.6 306.6h0M1038.1 316.9h0M1037.9 322.4h0M1039.5 316.2h0M1038.0 325.6h0M1038.6 300.6h0M1038.2 305.6h0M1039.0 338.4h0M1038.3 337.0h0M1038.3 339.4h0M1038.3 334.6h0M1039.2 342.8h0M1039.8 251.2h0M1040.1 251.1h0M1039.8 275.7h0M1039.7 274.1h0M1039.2 297.0h0M1039.5 300.7h0M1039.5 294.8h0M1040.5 297.9h0M1040.0 297.0h0M1040.1 290.9h0M1039.6 292.1h0M1040.6 293.9h0M1040.5 292.6h0M1039.5 297.7h0M1039.2 295.1h0M1039.7 296.0h0M1039.2 300.6h0M1040.3 297.1h0M1040.2 294.2h0M1039.4 286.0h0M1039.3 285.7h0M1040.8 287.5h0M1039.6 286.6h0M1039.7 286.2h0M1039.4 280.7h0M1040.0 291.8h0M1039.9 284.7h0M1040.7 286.1h0M1040.7 284.5h0M1039.9 282.3h0M1040.6 286.7h0M1040.9 286.8h0M1040.1 285.4h0M1039.4 283.1h0M1039.9 285.3h0M1040.8 286.8h0M1041.0 281.8h0M1040.7 283.6h0M1040.5 229.0h0M1041.4 230.6h0M1041.1 228.8h0M1039.7 219.8h0M1041.0 223.4h0M1040.5 237.3h0M1040.0 259.7h0M1040.1 265.6h0M1040.5 280.0h0M1041.0 302.4h0M1040.6 287.8h0M1041.3 222.7h0M1040.8 217.4h0M1041.7 272.2h0M1041.5 281.5h0M1040.5 271.2h0M1041.4 273.4h0M1040.7 269.2h0M1042.0 267.6h0M1041.3 273.8h0M1041.3 274.8h0M1041.3 269.2h0M1040.3 271.7h0M1041.8 261.1h0M1042.2 259.3h0M1040.7 258.3h0M1041.3 259.3h0M1042.1 262.0h0M1041.6 293.5h0M1042.2 291.3h0M1042.3 290.6h0M1042.7 314.2h0M1041.2 214.2h0M1042.6 300.4h0M1042.4 274.1h0M1042.4 220.6h0M1042.4 211.2h0M1041.8 313.1h0M1041.8 328.5h0M1042.6 314.9h0M1041.9 315.3h0M1043.4 227.3h0M1042.7 235.5h0M1042.5 245.2h0M1042.4 233.8h0M1041.7 233.6h0M1043.3 230.3h0M1042.7 230.0h0M1043.3 327.3h0M1042.3 333.9h0M1043.5 333.2h0M1042.8 323.8h0M1043.0 331.1h0M1043.5 257.9h0M1043.0 257.0h0M1042.0 263.5h0M1042.7 262.3h0M1043.1 261.0h0M1042.1 268.0h0M1043.2 257.1h0M1042.0 260.3h0M1043.3 311.1h0M1043.9 314.2h0M1042.1 313.2h0M1043.2 222.1h0M1044.2 221.7h0M1042.9 223.1h0M1043.0 223.7h0M1043.4 268.8h0M1043.8 262.3h0M1042.5 258.6h0M1044.0 263.8h0M1044.4 268.1h0M1042.5 262.9h0M1042.6 263.1h0M1043.5 263.6h0M1043.2 268.1h0M1044.1 262.8h0M1042.9 268.1h0M1044.1 265.5h0M1044.4 266.6h0M1044.4 263.6h0M1042.6 264.3h0M1042.5 265.0h0M1044.1 271.6h0M1044.3 238.8h0M1043.3 221.9h0M1043.9 216.9h0M1043.1 231.7h0M1043.0 226.0h0M1043.4 224.8h0M1044.3 219.0h0M1044.6 219.7h0M1043.1 218.4h0M1044.2 223.6h0M1044.3 226.7h0M1043.4 259.1h0M1043.1 337.0h0M1044.5 339.8h0M1043.8 344.1h0M1044.9 343.7h0M1045.0 339.3h0M1044.7 340.8h0M1044.8 341.6h0M1043.3 346.1h0M1043.7 346.6h0M1043.8 216.6h0M1043.5 232.8h0M1043.9 230.6h0M1043.9 245.7h0M1044.0 239.7h0M1044.7 231.3h0M1044.2 311.5h0M1043.9 315.3h0M1044.7 306.0h0M1043.9 312.7h0M1045.7 304.0h0M1044.7 303.6h0M1044.9 312.4h0M1045.8 212.6h0M1044.6 227.6h0M1044.3 225.8h0M1045.1 223.3h0M1045.7 226.6h0M1045.7 216.8h0M1045.1 234.6h0M1045.1 226.9h0M1045.2 219.5h0M1044.4 243.6h0M1046.1 322.9h0M1044.8 324.8h0M1044.1 320.5h0M1045.3 348.8h0M1046.2 348.6h0M1044.5 352.7h0M1045.2 350.1h0M1045.3 351.2h0M1045.4 344.5h0M1045.5 307.1h0M1045.8 310.3h0M1044.9 307.6h0M1044.6 302.4h0M1044.5 306.5h0M1045.4 305.1h0M1045.0 311.6h0M1045.2 292.5h0M1044.9 308.6h0M1046.1 308.2h0M1046.0 304.4h0M1044.9 298.5h0M1045.0 312.9h0M1046.1 305.2h0M1046.0 306.5h0M1044.7 307.4h0M1045.3 323.1h0M1046.6 325.7h0M1046.1 248.7h0M1046.2 259.8h0M1046.2 232.5h0M1045.2 227.2h0M1046.9 226.5h0M1047.2 219.5h0M1046.3 249.7h0M1046.1 247.2h0M1046.1 251.2h0M1045.8 270.8h0M1045.7 272.3h0M1046.2 268.9h0M1046.7 273.5h0M1046.9 269.9h0M1046.3 276.5h0M1046.0 271.6h0M1047.3 271.7h0M1046.3 278.3h0M1045.7 274.8h0M1046.3 281.4h0M1045.6 270.7h0M1046.9 276.4h0M1046.4 275.9h0M1047.1 274.5h0M1045.6 275.5h0M1045.9 277.7h0M1047.2 273.7h0M1046.7 275.1h0M1046.7 275.5h0M1047.4 339.1h0M1047.2 340.3h0M1046.9 343.0h0M1047.6 336.5h0M1047.2 338.0h0M1047.8 326.9h0M1046.8 325.5h0M1047.5 322.8h0M1046.1 323.3h0M1046.4 318.0h0M1047.0 327.5h0M1046.9 217.1h0M1047.0 217.5h0M1048.4 284.9h0M1047.9 284.4h0M1047.7 332.1h0M1048.1 353.5h0M1047.1 353.6h0M1047.0 353.1h0M1047.5 266.4h0M1049.0 279.2h0M1048.3 280.0h0M1048.4 276.0h0M1048.1 287.2h0M1047.5 281.5h0M1048.7 277.3h0M1047.6 284.5h0M1048.7 353.5h0M1049.0 276.5h0M1048.7 219.1h0M1048.4 223.5h0M1049.1 222.7h0M1048.5 221.0h0M1048.1 227.5h0M1049.4 221.8h0M1048.0 220.7h0M1048.0 223.6h0M1048.4 224.5h0M1049.0 223.2h0M1049.6 225.9h0M1049.6 220.7h0M1047.7 224.2h0M1048.8 221.3h0M1049.2 352.9h0M1048.3 279.4h0M1049.7 288.3h0M1049.2 264.6h0M1049.2 278.8h0M1048.7 279.5h0M1048.6 282.6h0M1048.5 350.2h0M1050.0 341.0h0M1049.4 331.7h0M1048.4 332.3h0M1049.0 225.4h0M1050.2 220.0h0M1048.5 225.3h0M1049.4 220.4h0M1050.1 226.1h0M1049.7 218.1h0M1049.1 221.6h0M1048.6 220.7h0M1050.3 223.6h0M1050.1 222.1h0M1049.9 270.2h0M1048.9 272.8h0M1048.8 266.7h0M1049.3 271.9h0M1050.4 267.0h0M1048.9 262.0h0M1050.2 268.4h0M1050.0 236.8h0M1049.2 217.6h0M1051.0 319.3h0M1049.4 321.4h0M1050.9 325.6h0M1049.8 324.9h0M1050.7 349.2h0M1050.7 346.0h0M1049.9 347.0h0M1051.2 231.3h0M1050.1 224.2h0M1051.6 232.4h0M1051.6 348.3h0M1051.1 354.9h0M1051.2 273.6h0M1050.8 278.1h0M1050.6 351.6h0M1052.2 347.9h0M1050.8 354.6h0M1050.4 353.8h0M1050.9 355.7h0M1050.4 314.4h0M1051.0 313.6h0M1051.9 319.7h0M1051.5 313.8h0M1050.6 316.7h0M1050.8 313.8h0M1051.5 289.7h0M1051.5 298.0h0M1052.2 352.4h0M1051.2 344.0h0M1051.7 348.3h0M1051.2 343.9h0M1051.9 326.0h0M1051.5 324.6h0M1050.7 330.4h0M1051.4 329.2h0M1052.0 334.2h0M1052.6 331.4h0M1051.2 332.6h0M1052.7 328.9h0M1052.7 328.5h0M1052.7 342.9h0M1051.7 320.1h0M1052.3 241.9h0M1052.5 235.0h0M1052.8 236.4h0M1052.3 243.4h0M1051.8 238.0h0M1052.4 236.9h0M1051.3 235.8h0M1051.4 277.8h0M1053.0 288.0h0M1051.9 281.7h0M1052.4 285.3h0M1051.2 273.8h0M1051.2 292.5h0M1052.3 293.7h0M1051.6 306.4h0M1052.0 300.8h0M1052.1 302.6h0M1052.3 302.5h0M1053.3 307.9h0M1053.2 303.5h0M1052.4 307.4h0M1052.0 307.3h0M1053.2 309.6h0M1052.5 306.9h0M1051.7 303.2h0M1053.5 302.6h0M1053.4 311.5h0M1052.9 304.9h0M1053.5 304.7h0M1051.6 307.9h0M1051.7 263.6h0M1052.9 261.2h0M1053.6 265.2h0M1052.8 257.6h0M1051.7 255.1h0M1052.3 258.2h0M1053.1 283.0h0M1052.0 305.0h0M1052.7 286.8h0M1053.1 290.8h0M1053.8 296.1h0M1053.0 283.9h0M1053.6 297.0h0M1052.5 296.1h0M1053.1 293.5h0M1052.3 291.0h0M1053.1 253.3h0M1052.4 244.4h0M1053.9 245.5h0M1053.8 246.8h0M1052.3 235.4h0M1053.9 235.3h0M1052.8 234.8h0M1052.3 234.9h0M1053.3 235.1h0M1054.0 342.8h0M1054.1 354.4h0M1053.8 347.7h0M1054.1 351.0h0M1053.6 283.9h0M1053.2 270.8h0M1053.6 326.1h0M1053.0 329.0h0M1054.3 331.3h0M1053.2 330.7h0M1053.8 327.5h0M1053.1 334.1h0M1053.5 334.0h0M1054.8 334.5h0M1054.3 332.1h0M1054.3 332.1h0M1053.1 332.1h0M1053.2 330.1h0M1054.7 330.4h0M1053.1 328.5h0M1054.4 332.5h0M1053.2 326.0h0M1053.7 329.1h0M1053.5 281.9h0M1053.9 214.1h0M1054.4 214.7h0M1055.0 249.0h0M1053.7 247.5h0M1054.4 244.9h0M1054.3 249.3h0M1054.9 246.9h0M1053.5 247.8h0M1054.2 281.4h0M1053.5 272.8h0M1055.2 248.0h0M1054.8 268.2h0M1053.7 248.6h0M1055.5 253.6h0M1054.5 244.5h0M1055.5 285.4h0M1055.9 338.1h0M1054.7 328.7h0M1054.5 337.1h0M1054.9 336.5h0M1055.6 300.2h0M1056.0 280.5h0M1056.3 283.7h0M1055.9 315.6h0M1055.6 227.7h0M1055.3 294.9h0M1055.0 285.8h0M1056.3 284.8h0M1055.5 287.9h0M1056.7 288.6h0M1055.8 298.4h0M1055.9 290.4h0M1056.7 289.0h0M1055.8 300.2h0M1055.1 291.9h0M1055.7 279.9h0M1055.2 278.0h0M1056.9 288.3h0M1056.2 289.9h0M1055.7 288.0h0M1054.9 290.6h0M1055.5 294.7h0M1055.9 295.3h0M1056.8 289.5h0M1056.2 288.7h0M1056.8 288.7h0M1055.5 248.5h0M1056.7 256.1h0M1057.0 254.2h0M1056.9 246.9h0M1055.2 244.6h0M1057.2 341.6h0M1055.3 335.8h0M1055.5 340.8h0M1055.3 339.9h0M1055.5 299.6h0M1057.2 293.6h0M1057.2 308.5h0M1056.3 226.2h0M1056.4 229.4h0M1056.1 230.4h0M1057.2 224.9h0M1056.4 233.5h0M1056.6 232.9h0M1055.7 236.3h0M1056.1 222.9h0M1057.4 229.5h0M1057.4 236.3h0M1056.4 228.4h0M1057.7 294.3h0M1057.7 284.3h0M1057.4 215.7h0M1057.5 220.7h0M1056.6 220.2h0M1056.6 221.1h0M1056.7 217.6h0M1058.2 222.3h0M1057.5 220.2h0M1057.2 217.8h0M1056.6 220.6h0M1057.6 231.4h0M1056.4 242.4h0M1057.9 272.1h0M1057.8 279.0h0M1057.5 280.1h0M1057.1 291.3h0M1057.7 215.7h0M1058.4 216.0h0M1057.1 214.9h0M1058.2 218.9h0M1058.7 224.0h0M1058.9 329.5h0M1059.2 350.1h0M1057.7 348.3h0M1057.5 349.7h0M1058.7 343.7h0M1057.6 350.6h0M1058.5 340.8h0M1058.9 353.0h0M1057.4 347.6h0M1059.0 346.0h0M1058.9 347.1h0M1058.7 343.3h0M1058.9 343.4h0M1058.3 350.4h0M1057.5 343.8h0M1059.1 330.4h0M1059.2 328.6h0M1058.5 332.0h0M1057.9 323.2h0M1059.3 326.3h0M1058.1 323.7h0M1058.6 328.2h0M1057.8 334.9h0M1058.8 330.3h0M1058.9 329.6h0M1058.5 324.6h0M1058.0 332.8h0M1058.1 336.4h0M1058.1 338.9h0M1057.8 342.2h0M1057.6 336.5h0M1058.3 336.1h0M1057.7 335.7h0M1057.9 336.7h0M1058.3 220.7h0M1058.8 217.0h0M1058.8 218.8h0M1059.3 316.7h0M1058.8 222.8h0M1058.3 218.7h0M1058.1 225.9h0M1058.5 361.6h0M1059.2 282.3h0M1059.2 289.0h0M1059.7 295.6h0M1059.6 290.3h0M1058.4 290.7h0M1060.0 288.1h0M1059.2 285.5h0M1059.2 281.6h0M1059.4 281.9h0M1058.5 277.3h0M1059.5 280.4h0M1059.7 276.5h0M1059.3 281.4h0M1059.8 244.1h0M1059.1 247.0h0M1059.1 223.3h0M1059.0 213.6h0M1060.4 203.5h0M1060.1 219.8h0M1059.4 216.5h0M1060.4 216.2h0M1060.5 216.2h0M1060.0 322.0h0M1060.7 331.9h0M1059.9 334.8h0M1059.5 318.2h0M1060.8 335.6h0M1060.7 282.3h0M1060.0 276.5h0M1060.8 283.6h0M1060.1 261.7h0M1059.5 249.8h0M1060.5 263.7h0M1061.0 262.4h0M1060.4 251.8h0M1061.0 265.6h0M1060.7 259.7h0M1059.8 258.5h0M1060.0 261.1h0M1059.3 258.1h0M1059.4 257.4h0M1060.4 257.6h0M1061.0 259.4h0M1060.9 259.6h0M1060.4 246.7h0M1061.0 259.0h0M1060.6 260.3h0M1059.8 260.0h0M1060.2 249.6h0M1059.8 254.4h0M1060.1 264.8h0M1060.3 257.0h0M1060.5 266.6h0M1059.6 260.7h0M1061.1 256.9h0M1060.0 252.4h0M1060.3 348.0h0M1060.9 346.0h0M1060.2 232.2h0M1060.9 234.0h0M1060.2 241.1h0M1060.5 242.9h0M1061.8 248.6h0M1061.1 240.7h0M1060.9 242.8h0M1061.7 243.4h0M1060.4 241.8h0M1062.0 242.0h0M1060.6 242.9h0M1060.6 239.2h0M1061.7 244.0h0M1060.7 242.6h0M1061.3 246.0h0M1060.6 237.0h0M1061.2 238.3h0M1060.9 232.9h0M1061.1 278.1h0M1061.3 282.4h0M1062.3 336.8h0M1062.0 335.0h0M1061.3 343.7h0M1061.8 336.8h0M1061.9 341.3h0M1061.3 337.5h0M1062.5 331.5h0M1060.6 342.1h0M1062.4 285.4h0M1061.6 289.1h0M1061.2 362.7h0M1061.7 365.7h0M1062.0 366.4h0M1063.1 363.8h0M1063.1 364.4h0M1063.0 363.4h0M1061.5 258.3h0M1061.7 364.8h0M1062.3 316.1h0M1063.3 311.1h0M1061.5 315.0h0M1061.6 314.9h0M1061.6 314.9h0M1063.0 311.6h0M1061.8 314.0h0M1062.3 361.1h0M1062.5 360.8h0M1061.9 362.6h0M1062.8 362.8h0M1062.2 346.6h0M1063.3 351.7h0M1063.3 342.3h0M1063.5 344.7h0M1062.8 349.6h0M1062.1 341.7h0M1063.8 209.8h0M1062.4 215.4h0M1062.5 210.9h0M1063.1 213.9h0M1063.7 223.7h0M1063.6 226.8h0M1062.7 219.3h0M1062.6 219.8h0M1063.2 227.8h0M1063.4 205.3h0M1063.4 209.6h0M1063.8 203.2h0M1063.8 203.5h0M1064.1 211.4h0M1064.4 209.9h0M1063.3 201.6h0M1063.5 214.9h0M1063.3 223.6h0M1063.5 216.6h0M1064.1 213.7h0M1062.8 219.8h0M1064.5 219.7h0M1063.4 212.8h0M1063.3 228.1h0M1064.4 227.9h0M1063.3 225.7h0M1064.8 293.1h0M1063.8 291.3h0M1064.0 344.9h0M1063.3 369.2h0M1065.2 219.2h0M1065.1 226.9h0M1063.7 223.1h0M1065.1 217.6h0M1063.8 227.7h0M1064.5 221.8h0M1064.7 223.0h0M1064.3 224.2h0M1064.6 222.2h0M1064.7 348.4h0M1064.3 347.7h0M1063.6 351.1h0M1064.2 345.5h0M1064.4 353.2h0M1065.4 233.4h0M1065.1 233.1h0M1064.2 239.3h0M1065.2 298.6h0M1064.3 344.8h0M1064.6 239.3h0M1065.6 234.5h0M1064.6 342.1h0M1065.4 192.7h0M1066.6 255.0h0M1066.5 254.7h0M1065.6 260.6h0M1065.9 254.5h0M1065.6 258.1h0M1065.0 214.9h0M1066.4 224.4h0M1065.2 271.8h0M1066.9 270.3h0M1065.4 268.1h0M1065.9 268.2h0M1066.2 268.7h0M1066.2 264.3h0M1065.4 277.9h0M1066.0 275.1h0M1065.7 275.2h0M1065.8 268.5h0M1066.9 268.5h0M1065.8 271.6h0M1065.5 270.0h0M1066.3 274.2h0M1065.1 270.7h0M1066.3 268.6h0M1065.5 264.4h0M1066.9 259.1h0M1065.8 258.2h0M1066.0 251.6h0M1065.6 252.0h0M1066.2 256.1h0M1065.8 251.6h0M1066.8 250.8h0M1066.6 254.6h0M1066.3 358.8h0M1065.9 355.5h0M1066.6 347.7h0M1065.5 344.2h0M1066.8 343.1h0M1066.4 338.7h0M1067.5 223.4h0M1066.7 236.1h0M1067.1 229.5h0M1067.5 324.2h0M1067.3 330.3h0M1067.5 321.4h0M1066.0 323.4h0M1066.1 211.4h0M1066.4 193.2h0M1066.4 205.3h0M1067.0 195.5h0M1066.5 203.0h0M1066.1 194.6h0M1066.4 209.9h0M1067.3 199.4h0M1067.0 204.1h0M1066.4 276.9h0M1068.4 327.6h0M1067.4 319.0h0M1067.6 343.6h0M1067.6 347.3h0M1067.6 344.9h0M1067.9 344.3h0M1067.1 370.9h0M1067.4 181.1h0M1067.2 180.6h0M1068.3 330.2h0M1068.2 373.8h0M1068.3 196.1h0M1068.5 184.0h0M1067.6 189.1h0M1068.5 193.4h0M1068.7 188.7h0M1068.4 201.5h0M1069.2 195.4h0M1069.2 191.5h0M1067.6 194.9h0M1068.6 195.5h0M1068.1 206.6h0M1068.8 202.0h0M1067.9 205.5h0M1067.7 201.5h0M1068.7 197.2h0M1068.1 204.4h0M1067.9 198.6h0M1067.8 199.2h0M1068.9 201.4h0M1068.8 198.3h0M1069.2 204.7h0M1069.1 202.1h0M1069.0 184.7h0M1067.9 183.6h0M1069.0 186.9h0M1068.4 191.4h0M1068.4 184.2h0M1067.9 198.4h0M1069.1 184.2h0M1068.2 272.0h0M1068.0 263.5h0M1068.2 272.5h0M1068.0 274.1h0M1068.4 279.5h0M1069.3 343.6h0M1069.2 342.9h0M1070.0 346.7h0M1069.1 346.7h0M1069.4 335.7h0M1070.1 343.2h0M1069.5 336.1h0M1069.2 338.1h0M1068.3 336.1h0M1069.7 337.1h0M1068.9 340.3h0M1068.6 343.4h0M1069.8 340.9h0M1069.3 339.9h0M1068.9 327.0h0M1069.4 330.6h0M1069.3 335.1h0M1070.2 332.2h0M1069.1 333.4h0M1070.3 260.6h0M1070.5 258.9h0M1068.8 255.3h0M1070.9 345.2h0M1069.1 337.6h0M1069.0 338.2h0M1070.4 360.6h0M1069.8 370.2h0M1070.9 368.3h0M1069.8 367.1h0M1070.3 365.9h0M1070.2 362.7h0M1069.5 368.7h0M1070.5 172.4h0M1071.2 173.2h0M1071.1 170.6h0M1069.9 348.0h0M1071.0 345.0h0M1070.0 344.9h0M1071.4 306.4h0M1070.8 308.9h0M1070.3 314.3h0M1069.9 313.2h0M1070.0 310.6h0M1071.5 269.3h0M1070.7 277.3h0M1072.0 271.3h0M1071.1 271.8h0M1070.7 275.8h0M1070.3 275.5h0M1070.8 270.8h0M1070.3 273.1h0M1071.6 266.7h0M1071.2 273.2h0M1070.9 310.0h0M1070.6 314.1h0M1071.2 305.2h0M1070.5 321.8h0M1072.2 311.7h0M1071.7 311.4h0M1071.5 312.2h0M1071.2 305.7h0M1071.2 309.4h0M1072.2 316.2h0M1071.5 306.6h0M1071.9 210.8h0M1071.1 206.5h0M1072.1 212.5h0M1071.6 355.1h0M1072.5 356.8h0M1072.0 225.9h0M1071.3 223.1h0M1071.1 219.4h0M1072.7 221.3h0M1071.0 220.9h0M1072.4 226.0h0M1071.2 253.1h0M1071.8 253.0h0M1071.7 258.0h0M1071.5 261.0h0M1071.3 260.7h0M1072.9 253.5h0M1072.2 255.7h0M1071.3 251.4h0M1072.6 315.1h0M1072.4 305.1h0M1071.9 318.3h0M1072.1 346.6h0M1072.3 344.2h0M1073.7 346.1h0M1073.1 341.4h0M1072.9 342.4h0M1073.1 333.0h0M1073.2 330.8h0M1073.6 335.4h0M1072.7 334.2h0M1072.7 333.8h0M1073.0 250.8h0M1073.3 249.2h0M1072.5 378.6h0M1072.8 384.4h0M1073.8 383.4h0M1073.9 386.5h0M1072.5 382.6h0M1073.0 383.5h0M1073.9 385.0h0M1073.3 384.3h0M1074.1 272.7h0M1074.2 270.9h0M1073.8 269.8h0M1074.1 275.0h0M1072.9 286.6h0M1072.8 272.1h0M1073.8 286.8h0M1072.6 269.1h0M1073.5 300.4h0M1074.2 303.8h0M1073.4 295.6h0M1073.5 309.6h0M1073.5 315.5h0M1072.6 306.6h0M1073.4 303.6h0M1072.7 309.1h0M1074.2 302.6h0M1073.2 310.1h0M1073.8 306.8h0M1074.1 299.7h0M1073.1 309.4h0M1073.2 308.8h0M1073.9 273.8h0M1074.7 268.9h0M1074.7 273.2h0M1073.4 342.9h0M1073.5 344.6h0M1074.4 348.9h0M1074.7 333.4h0M1073.9 348.1h0M1074.4 346.3h0M1073.2 346.2h0M1074.1 225.6h0M1074.4 222.0h0M1073.7 373.4h0M1074.5 369.1h0M1074.0 371.5h0M1074.5 373.2h0M1074.7 375.8h0M1074.2 373.3h0M1074.6 367.4h0M1075.5 330.6h0M1074.2 336.1h0M1075.6 328.1h0M1074.4 330.1h0M1075.4 333.4h0M1074.4 330.3h0M1075.0 330.2h0M1075.1 333.0h0M1074.4 328.2h0M1074.9 316.6h0M1075.9 318.0h0M1074.9 317.2h0M1074.5 320.1h0M1076.2 236.3h0M1075.5 244.1h0M1074.6 242.2h0M1075.6 244.9h0M1074.8 242.5h0M1076.1 302.7h0M1075.6 300.5h0M1076.3 305.3h0M1075.6 310.5h0M1076.3 300.5h0M1075.6 304.1h0M1075.0 299.7h0M1074.9 304.9h0M1076.4 381.9h0M1074.7 250.2h0M1075.1 251.5h0M1075.1 247.4h0M1076.0 292.2h0M1076.5 285.5h0M1076.3 288.4h0M1075.4 286.3h0M1075.2 283.8h0M1076.3 285.0h0M1076.5 252.9h0M1076.4 341.4h0M1077.1 392.8h0M1076.2 397.0h0M1077.1 217.8h0M1077.6 208.2h0M1076.8 271.6h0M1077.1 211.6h0M1077.2 297.6h0M1077.5 301.4h0M1075.9 298.6h0M1076.9 295.7h0M1077.5 297.4h0M1077.9 297.5h0M1076.2 301.3h0M1076.1 295.7h0M1077.5 307.0h0M1077.5 301.7h0M1077.4 305.8h0M1076.4 351.0h0M1077.5 347.4h0M1078.0 346.3h0M1076.7 354.9h0M1077.6 333.7h0M1077.4 358.9h0M1077.2 355.3h0M1078.2 364.9h0M1076.4 359.5h0M1077.2 269.0h0M1078.1 273.5h0M1077.1 274.3h0M1077.7 282.0h0M1077.7 272.2h0M1078.5 273.7h0M1078.3 314.3h0M1077.0 311.7h0M1077.3 315.5h0M1077.8 312.8h0M1077.9 318.9h0M1078.2 300.7h0M1078.4 302.2h0M1077.0 299.5h0M1077.6 293.4h0M1078.2 302.1h0M1078.2 378.8h0M1078.5 352.0h0M1078.4 347.1h0M1079.1 345.3h0M1079.1 352.5h0M1079.1 328.5h0M1078.2 332.2h0M1079.0 330.2h0M1079.2 325.9h0M1077.4 327.7h0M1078.5 313.1h0M1078.7 311.8h0M1079.3 309.5h0M1078.5 311.3h0M1078.3 309.3h0M1079.4 310.0h0M1078.7 311.4h0M1077.7 313.4h0M1078.3 308.2h0M1077.8 282.8h0M1077.7 274.1h0M1078.9 275.1h0M1079.3 271.5h0M1078.4 283.3h0M1079.4 276.4h0M1079.2 309.8h0M1078.1 308.1h0M1078.7 302.0h0M1079.2 305.5h0M1080.1 283.1h0M1079.4 282.7h0M1080.1 296.5h0M1080.3 331.2h0M1079.1 328.2h0M1079.0 332.5h0M1079.6 326.2h0M1078.6 331.0h0M1078.6 329.3h0M1079.2 327.0h0M1080.3 333.5h0M1079.0 328.1h0M1078.9 330.4h0M1080.2 330.4h0M1078.5 333.6h0M1078.5 330.8h0M1080.2 334.0h0M1079.0 328.6h0M1080.0 332.9h0M1080.5 348.6h0M1079.2 347.1h0M1079.6 348.1h0M1079.1 345.8h0M1080.4 276.6h0M1080.1 274.6h0M1079.3 274.0h0M1080.6 278.6h0M1080.3 276.0h0M1080.0 304.3h0M1079.8 303.7h0M1080.7 306.5h0M1080.9 304.0h0M1079.7 273.4h0M1080.7 268.0h0M1081.2 359.6h0M1079.7 241.4h0M1080.4 247.3h0M1080.7 247.8h0M1080.6 234.8h0M1080.7 238.8h0M1081.5 240.5h0M1080.1 290.2h0M1081.7 299.3h0M1081.7 303.7h0M1080.9 305.8h0M1080.1 301.9h0M1081.5 297.4h0M1081.4 232.4h0M1082.0 235.3h0M1082.1 233.4h0M1081.3 237.0h0M1081.6 283.5h0M1080.8 286.2h0M1081.7 283.5h0M1082.4 285.1h0M1082.5 286.4h0M1081.4 282.3h0M1081.8 311.1h0M1082.0 322.4h0M1081.5 316.9h0M1082.7 352.8h0M1081.6 352.4h0M1082.6 351.1h0M1082.2 236.1h0M1081.5 230.5h0M1081.6 349.4h0M1083.0 228.1h0M1082.6 251.3h0M1082.3 252.5h0M1082.6 252.1h0M1083.0 243.9h0M1083.0 255.0h0M1082.7 248.7h0M1083.1 376.7h0M1081.8 380.1h0M1083.3 313.9h0M1082.8 317.2h0M1082.5 369.8h0M1083.6 359.2h0M1082.8 365.8h0M1082.8 355.9h0M1084.0 335.6h0M1082.2 348.0h0M1082.9 283.3h0M1083.9 282.0h0M1083.3 366.1h0M1083.6 366.2h0M1082.9 367.9h0M1083.1 368.5h0M1083.0 365.8h0M1083.2 366.5h0M1083.7 363.5h0M1082.8 361.3h0M1083.7 364.3h0M1084.5 367.3h0M1084.2 369.3h0M1083.0 368.0h0M1084.2 282.0h0M1084.0 267.5h0M1083.0 283.6h0M1084.5 276.1h0M1082.7 267.2h0M1084.5 274.9h0M1083.8 268.4h0M1083.6 276.8h0M1084.6 271.2h0M1083.5 269.5h0M1084.7 267.8h0M1083.2 269.3h0M1084.2 245.0h0M1084.2 253.6h0M1084.6 243.7h0M1083.7 277.7h0M1084.9 296.0h0M1084.2 298.0h0M1083.7 373.9h0M1084.9 302.8h0M1085.1 309.6h0M1084.0 392.7h0M1085.3 383.3h0M1085.5 386.7h0M1086.1 249.6h0M1086.3 326.2h0M1086.3 320.8h0M1085.7 320.8h0M1084.7 321.5h0M1086.1 328.8h0M1084.5 323.7h0M1085.0 371.9h0M1085.9 367.7h0M1085.7 373.2h0M1084.7 376.1h0M1084.8 376.5h0M1086.0 375.5h0M1085.9 374.0h0M1086.6 369.7h0M1085.7 373.3h0M1085.1 379.7h0M1085.7 377.2h0M1086.5 381.6h0M1086.1 372.2h0M1086.2 378.1h0M1086.0 363.8h0M1085.6 366.9h0M1085.7 368.2h0M1086.0 383.3h0M1085.6 379.8h0M1086.4 374.4h0M1086.0 374.3h0M1086.2 380.4h0M1085.0 372.6h0M1085.1 369.4h0M1085.2 228.8h0M1086.8 235.5h0M1086.2 232.7h0M1086.7 370.3h0M1086.8 230.1h0M1086.4 391.3h0M1086.6 388.8h0M1086.3 378.1h0M1086.1 387.7h0M1086.0 386.3h0M1086.2 385.0h0M1086.1 383.1h0M1087.3 343.9h0M1087.4 331.7h0M1086.0 338.6h0M1086.8 340.0h0M1087.0 265.8h0M1086.3 262.2h0M1087.6 257.0h0M1085.8 258.1h0M1087.4 265.9h0M1086.5 262.5h0M1087.7 253.8h0M1087.4 266.9h0M1086.6 266.3h0M1086.5 257.6h0M1085.7 266.2h0M1086.7 264.8h0M1086.8 261.2h0M1086.5 262.4h0M1087.5 253.7h0M1086.5 256.2h0M1087.7 250.6h0M1086.3 256.3h0M1087.6 261.5h0M1086.8 264.8h0M1087.5 263.1h0M1086.3 271.7h0M1087.4 257.8h0M1087.6 259.7h0M1085.8 265.1h0M1086.1 259.9h0M1086.7 254.1h0M1087.6 287.1h0M1086.7 284.9h0M1087.9 287.0h0M1087.5 233.8h0M1086.8 254.9h0M1087.6 235.0h0M1087.3 242.7h0M1087.9 256.7h0M1087.1 240.4h0M1086.3 243.6h0M1087.8 239.6h0M1088.1 336.8h0M1086.9 238.5h0M1086.8 359.8h0M1087.2 361.2h0M1088.2 359.0h0M1087.6 353.7h0M1087.1 353.5h0M1088.1 354.0h0M1087.8 349.7h0M1088.1 346.6h0M1086.6 354.5h0M1086.5 359.8h0M1086.7 354.4h0M1086.9 351.1h0M1087.4 355.6h0M1087.7 322.5h0M1087.7 313.5h0M1087.2 316.2h0M1086.7 322.5h0M1087.6 316.8h0M1088.4 313.7h0M1087.5 317.2h0M1086.8 312.8h0M1087.5 324.0h0M1086.8 313.6h0M1086.9 315.7h0M1088.3 322.0h0M1087.8 310.3h0M1087.2 311.0h0M1087.6 313.9h0M1087.1 390.8h0M1088.5 381.2h0M1087.4 389.7h0M1088.1 333.7h0M1088.2 345.5h0M1088.7 331.4h0M1088.0 321.9h0M1087.9 373.8h0M1088.4 370.4h0M1088.3 372.6h0M1088.0 367.8h0M1087.8 369.5h0M1088.2 367.7h0M1088.7 346.1h0M1088.5 337.6h0M1087.6 323.8h0M1088.0 327.1h0M1088.0 333.4h0M1087.5 322.8h0M1089.0 293.4h0M1088.9 294.6h0M1088.3 355.1h0M1088.5 359.4h0M1088.5 350.9h0M1087.9 354.9h0M1088.8 355.2h0M1087.8 351.2h0M1089.2 352.9h0M1089.2 279.9h0M1089.1 377.3h0M1088.5 375.3h0M1089.8 377.4h0M1089.9 375.0h0M1088.6 368.2h0M1089.7 376.7h0M1089.4 371.1h0M1089.8 372.5h0M1089.3 373.0h0M1090.1 313.3h0M1089.8 315.3h0M1088.7 339.8h0M1089.8 366.0h0M1090.3 364.5h0M1090.1 371.8h0M1089.2 364.7h0M1090.2 389.1h0M1090.3 247.9h0M1090.4 261.3h0M1089.4 241.0h0M1090.5 244.3h0M1090.5 247.9h0M1089.1 241.0h0M1090.3 239.8h0M1090.7 397.8h0M1089.8 384.1h0M1090.7 385.5h0M1090.0 286.1h0M1090.4 387.2h0M1091.0 335.0h0M1090.4 320.2h0M1090.6 391.6h0M1091.7 308.6h0M1091.8 305.7h0M1091.4 307.6h0M1090.0 300.3h0M1090.4 365.2h0M1091.0 355.6h0M1091.6 353.1h0M1090.5 355.3h0M1091.9 352.9h0M1091.0 353.9h0M1091.5 357.6h0M1091.6 357.1h0M1091.4 364.2h0M1091.7 353.8h0M1090.5 340.0h0M1092.5 278.3h0M1091.5 275.9h0M1091.0 283.5h0M1091.8 296.5h0M1092.0 269.8h0M1092.5 277.6h0M1090.8 283.6h0M1090.8 274.8h0M1090.9 278.9h0M1091.8 285.7h0M1092.0 287.1h0M1092.1 295.9h0M1092.5 297.2h0M1092.3 295.7h0M1091.8 297.4h0M1091.9 295.1h0M1092.2 332.4h0M1091.9 334.1h0M1091.1 330.4h0M1092.8 317.8h0M1091.9 334.7h0M1092.1 323.3h0M1092.8 313.6h0M1093.0 329.2h0M1091.9 314.8h0M1092.2 343.6h0M1092.5 265.5h0M1091.5 266.1h0M1092.8 264.1h0M1092.0 260.4h0M1092.2 378.8h0M1092.2 373.4h0M1093.3 373.7h0M1092.0 378.8h0M1091.9 374.3h0M1091.8 301.5h0M1091.8 303.7h0M1092.1 281.5h0M1093.0 272.2h0M1092.2 281.1h0M1092.4 281.6h0M1093.4 279.6h0M1092.7 280.2h0M1093.5 314.8h0M1092.7 318.2h0M1093.1 320.2h0M1094.0 353.0h0M1092.8 353.7h0M1093.9 354.1h0M1092.8 363.1h0M1093.3 385.6h0M1092.8 279.6h0M1092.7 289.6h0M1093.5 284.5h0M1093.2 278.8h0M1094.0 302.4h0M1095.0 283.2h0M1094.3 280.3h0M1093.5 285.4h0M1093.5 288.0h0M1093.1 286.9h0M1094.9 277.0h0M1093.1 279.0h0M1094.9 283.1h0M1093.9 286.6h0M1093.5 386.6h0M1094.3 377.0h0M1095.0 379.0h0M1093.8 370.0h0M1094.2 374.4h0M1094.5 373.6h0M1093.8 385.4h0M1093.7 370.1h0M1094.7 347.0h0M1093.5 346.6h0M1093.7 346.9h0M1093.7 354.1h0M1094.2 346.3h0M1095.1 348.1h0M1093.6 341.5h0M1094.2 343.6h0M1093.9 349.4h0M1095.2 344.5h0M1094.8 298.3h0M1094.2 297.3h0M1094.9 292.5h0M1094.0 299.1h0M1095.1 303.8h0M1095.6 302.1h0M1095.0 289.1h0M1095.2 256.8h0M1096.1 338.7h0M1095.6 338.2h0M1094.3 338.7h0M1095.8 337.3h0M1095.2 364.2h0M1095.0 360.1h0M1095.3 358.9h0M1095.8 353.7h0M1094.6 364.1h0M1095.9 358.4h0M1096.5 372.3h0M1096.2 250.8h0M1095.4 259.5h0M1095.3 255.8h0M1095.6 355.4h0M1096.2 336.1h0M1095.7 341.9h0M1095.1 336.8h0M1097.1 313.2h0M1095.7 311.7h0M1096.1 310.4h0M1095.5 313.2h0M1096.7 303.3h0M1096.4 301.1h0M1095.8 307.3h0M1096.3 302.8h0M1095.6 306.4h0M1097.4 301.0h0M1095.5 302.6h0M1096.8 300.9h0M1096.5 248.7h0M1095.9 248.1h0M1096.2 247.5h0M1097.2 375.4h0M1096.2 374.3h0M1097.6 375.5h0M1097.1 380.0h0M1097.6 381.3h0M1096.7 380.5h0M1096.4 378.8h0M1095.8 384.8h0M1097.3 346.9h0M1096.1 333.8h0M1096.5 340.3h0M1096.6 338.4h0M1096.2 333.8h0M1097.3 338.5h0M1096.3 345.7h0M1097.1 339.5h0M1097.9 343.3h0M1096.6 344.4h0M1095.9 344.4h0M1097.0 336.2h0M1096.1 340.7h0M1097.1 344.5h0M1097.4 341.5h0M1096.6 345.0h0M1096.5 342.3h0M1096.9 343.7h0M1096.8 337.0h0M1095.9 348.8h0M1097.5 346.1h0M1097.5 341.8h0M1096.9 335.3h0M1097.2 352.9h0M1096.8 367.7h0M1098.1 368.5h0M1096.5 364.5h0M1096.6 367.3h0M1096.6 365.8h0M1097.8 366.0h0M1098.1 365.2h0M1096.7 366.0h0M1097.0 300.0h0M1096.5 295.5h0M1097.2 301.0h0M1098.1 309.4h0M1097.5 304.7h0M1096.8 301.9h0M1097.1 300.8h0M1097.2 293.8h0M1098.1 298.4h0M1097.6 303.9h0M1097.3 261.6h0M1098.1 278.9h0M1096.9 271.6h0M1098.4 276.6h0M1098.3 275.8h0M1098.1 273.2h0M1098.5 274.2h0M1097.3 275.1h0M1097.2 275.9h0M1097.2 276.0h0M1098.4 277.1h0M1097.2 275.4h0M1098.3 273.2h0M1098.5 274.7h0M1097.8 284.4h0M1098.5 275.6h0M1097.2 277.5h0M1098.7 303.7h0M1098.5 334.0h0M1099.0 320.3h0M1097.1 323.0h0M1098.9 314.8h0M1097.2 330.0h0M1097.9 322.0h0M1098.4 322.7h0M1098.3 328.1h0M1097.4 313.1h0M1098.8 315.3h0M1098.4 284.3h0M1099.2 282.7h0M1098.7 284.2h0M1098.5 283.1h0M1098.3 283.3h0M1098.1 281.1h0M1099.0 283.8h0M1098.6 293.5h0M1098.3 286.6h0M1099.2 274.6h0M1098.1 292.3h0M1097.8 286.4h0M1098.5 272.1h0M1098.7 281.6h0M1098.8 280.6h0M1098.4 278.5h0M1098.5 270.4h0M1098.0 352.7h0M1098.2 349.3h0M1097.8 346.0h0M1097.9 353.0h0M1098.0 345.1h0M1099.2 353.1h0M1099.5 358.3h0M1099.1 347.9h0M1099.1 351.0h0M1098.6 348.3h0M1098.6 346.7h0M1098.8 340.9h0M1098.1 344.0h0M1098.6 340.8h0M1099.7 350.6h0M1099.6 346.9h0M1099.1 353.2h0M1098.4 353.0h0M1097.9 354.2h0M1099.0 362.7h0M1098.1 353.0h0M1098.2 339.5h0M1098.4 351.2h0M1099.8 344.3h0M1098.6 350.4h0M1098.3 348.1h0M1099.6 348.5h0M1099.3 350.2h0M1099.1 291.8h0M1099.7 286.4h0M1098.3 309.2h0M1098.4 308.4h0M1099.0 302.0h0M1099.6 293.1h0M1098.9 326.9h0M1099.4 326.7h0M1100.1 319.3h0M1099.1 329.8h0M1099.5 326.2h0M1100.3 329.4h0M1098.7 327.4h0M1099.0 283.5h0M1099.7 277.0h0M1100.6 277.9h0M1099.8 327.5h0M1100.6 330.2h0M1100.6 279.9h0M1099.6 287.5h0M1100.0 277.4h0M1100.4 272.6h0M1100.6 293.9h0M1101.0 286.3h0M1099.4 285.8h0M1099.9 287.0h0M1100.3 284.2h0M1100.7 292.0h0M1100.2 277.9h0M1101.0 274.0h0M1100.9 283.0h0M1099.5 263.5h0M1100.6 260.6h0M1100.9 323.8h0M1100.2 329.9h0M1101.5 355.9h0M1100.3 276.7h0M1101.1 316.9h0M1101.8 323.8h0M1100.6 322.9h0M1101.7 322.6h0M1101.1 319.0h0M1100.1 326.4h0M1100.9 323.2h0M1101.9 317.5h0M1101.1 366.7h0M1101.4 371.2h0M1102.0 371.6h0M1102.1 368.3h0M1101.6 363.0h0M1102.4 257.1h0M1101.6 268.4h0M1101.1 273.7h0M1102.1 318.9h0M1102.3 281.4h0M1101.1 258.0h0M1101.3 255.3h0M1102.3 262.8h0M1101.5 259.8h0M1102.6 269.0h0M1101.8 265.0h0M1103.0 264.1h0M1102.2 271.7h0M1101.8 367.6h0M1103.2 357.8h0M1103.2 365.9h0M1101.9 350.4h0M1102.2 276.4h0M1103.4 334.8h0M1102.5 348.1h0M1103.6 346.8h0M1103.0 359.0h0M1103.0 360.2h0M1103.2 357.8h0M1102.9 361.7h0M1102.5 282.3h0M1102.8 301.6h0M1104.2 297.6h0M1103.0 294.2h0M1104.0 296.7h0M1104.4 294.4h0M1102.9 264.0h0M1103.4 260.1h0M1104.4 265.4h0M1103.1 271.3h0M1103.2 267.3h0M1104.6 271.2h0M1104.4 269.3h0M1103.4 267.9h0M1104.0 266.6h0M1103.8 309.7h0M1104.5 308.9h0M1103.0 309.0h0M1103.0 310.5h0M1103.8 313.2h0M1103.9 328.9h0M1105.2 324.4h0M1104.9 321.5h0M1104.9 329.1h0M1103.9 327.3h0M1105.0 326.1h0M1103.7 324.5h0M1104.8 328.8h0M1103.5 322.8h0M1103.7 324.9h0M1103.3 326.6h0M1104.2 331.4h0M1104.3 320.9h0M1104.7 322.6h0M1103.5 360.2h0M1103.9 361.7h0M1104.8 358.6h0M1104.0 360.1h0M1105.3 351.9h0M1105.0 355.2h0M1105.4 354.9h0M1103.8 271.4h0M1104.7 263.0h0M1105.6 273.5h0M1104.8 268.2h0M1105.0 337.1h0M1104.4 352.3h0M1105.0 334.5h0M1104.1 340.4h0M1105.3 335.8h0M1104.4 343.5h0M1105.4 283.7h0M1105.1 278.3h0M1104.9 286.1h0M1106.0 298.8h0M1105.4 307.1h0M1105.8 302.7h0M1104.9 301.4h0M1105.9 302.4h0M1105.8 315.6h0M1104.7 325.6h0M1106.0 325.3h0M1106.3 296.0h0M1105.9 295.1h0M1105.5 300.6h0M1105.0 296.5h0M1106.1 312.0h0M1105.9 303.9h0M1106.2 314.2h0M1106.3 320.9h0M1106.5 321.6h0M1106.9 322.3h0M1106.8 330.2h0M1105.4 322.4h0M1106.1 340.6h0M1105.7 346.5h0M1107.3 345.7h0M1106.6 369.9h0M1106.4 369.2h0M1107.0 369.0h0M1106.3 372.9h0M1106.7 375.3h0M1105.6 372.8h0M1105.9 374.4h0M1106.1 376.3h0M1106.4 369.4h0M1106.0 370.3h0M1105.6 374.8h0M1107.2 367.0h0M1106.7 370.7h0M1106.6 299.1h0M1107.1 299.6h0M1107.5 315.6h0M1106.3 311.2h0M1106.4 303.2h0M1107.2 303.5h0M1106.9 309.1h0M1107.5 304.0h0M1106.3 307.6h0M1106.5 304.4h0M1105.9 302.5h0M1106.8 278.8h0M1106.9 352.5h0M1106.5 349.3h0M1107.8 299.4h0M1107.8 295.6h0M1106.9 349.1h0M1106.9 364.4h0M1108.5 358.5h0M1108.6 357.6h0M1107.2 350.5h0M1107.2 283.8h0M1107.1 294.9h0M1107.6 297.3h0M1108.6 295.9h0M1108.6 347.8h0M1107.3 352.0h0M1108.8 343.1h0M1107.9 276.5h0M1108.2 323.9h0M1109.0 324.7h0M1108.5 326.0h0M1108.3 317.8h0M1108.2 323.4h0M1107.7 319.9h0M1107.9 319.3h0M1108.4 322.1h0M1109.4 312.7h0M1109.0 316.7h0M1109.1 327.3h0M1107.7 309.3h0M1109.4 319.2h0M1108.3 332.6h0M1109.7 341.2h0M1107.9 322.7h0M1108.0 335.3h0M1108.2 316.3h0M1109.3 361.6h0M1110.0 363.3h0M1109.9 361.3h0M1108.9 362.4h0M1108.4 358.9h0M1108.4 336.5h0M1110.2 273.2h0M1109.1 266.5h0M1109.3 272.7h0M1109.5 265.0h0M1109.3 263.5h0M1108.6 268.7h0M1109.5 277.7h0M1108.8 266.6h0M1109.4 315.5h0M1108.6 306.5h0M1108.7 298.9h0M1110.0 299.4h0M1109.0 297.5h0M1109.8 297.4h0M1109.7 297.0h0M1110.3 346.1h0M1109.5 354.6h0M1110.8 350.8h0M1109.8 354.7h0M1109.8 344.1h0M1110.2 263.4h0M1109.7 265.0h0M1110.9 262.2h0M1110.5 288.0h0M1110.6 286.4h0M1111.2 281.9h0M1109.5 280.2h0M1109.6 290.2h0M1110.5 284.6h0M1110.1 285.2h0M1110.4 286.8h0M1110.6 287.3h0M1110.3 370.5h0M1111.2 364.8h0M1110.9 366.6h0M1111.1 359.5h0M1111.2 365.4h0M1110.3 360.2h0M1110.6 360.1h0M1111.2 361.5h0M1111.7 355.0h0M1110.3 357.8h0M1111.2 354.2h0M1110.4 366.4h0M1111.6 356.1h0M1110.5 356.6h0M1110.7 365.6h0M1111.6 364.9h0M1111.5 355.9h0M1110.2 370.7h0M1111.4 366.1h0M1110.9 330.1h0M1112.0 280.3h0M1111.0 284.2h0M1111.4 287.8h0M1111.1 287.2h0M1110.7 282.7h0M1110.7 281.2h0M1110.3 280.9h0M1111.9 281.5h0M1112.1 281.1h0M1110.1 283.8h0M1111.5 290.0h0M1111.3 282.7h0M1111.0 342.1h0M1110.4 346.4h0M1111.8 354.2h0M1111.1 344.7h0M1111.0 348.9h0M1110.5 346.1h0M1111.3 322.5h0M1110.5 318.6h0M1111.3 321.0h0M1111.8 285.4h0M1112.8 351.6h0M1111.2 348.5h0M1112.3 342.2h0M1112.4 356.9h0M1111.3 340.7h0M1112.0 324.4h0M1111.9 323.1h0M1112.3 328.6h0M1111.9 327.9h0M1112.8 314.9h0M1112.4 333.5h0M1112.7 325.8h0M1111.3 329.3h0M1112.9 327.6h0M1112.5 333.1h0M1111.7 327.9h0M1113.1 328.3h0M1112.3 307.2h0M1111.9 307.3h0M1111.7 314.3h0M1113.3 312.1h0M1113.1 310.8h0M1112.1 312.7h0M1113.2 313.0h0M1113.6 346.4h0M1113.0 273.5h0M1112.0 371.4h0M1113.5 309.1h0M1113.3 306.0h0M1113.3 313.6h0M1113.8 288.5h0M1112.9 286.8h0M1113.5 287.9h0M1113.6 276.6h0M1113.4 269.6h0M1113.7 293.7h0M1114.0 300.5h0M1114.5 316.9h0M1114.0 306.3h0M1112.9 308.4h0M1113.1 296.9h0M1113.4 297.6h0M1112.6 309.5h0M1113.3 299.3h0M1113.8 298.9h0M1114.0 296.6h0M1114.5 298.5h0M1112.7 307.7h0M1113.6 288.0h0M1114.2 292.6h0M1114.6 293.3h0M1113.3 294.5h0M1113.3 295.0h0M1114.1 292.8h0M1114.4 293.2h0M1113.3 292.4h0M1114.2 297.3h0M1114.9 277.2h0M1114.8 352.0h0M1114.7 287.7h0M1114.0 295.5h0M1114.5 306.3h0M1114.9 287.9h0M1114.1 297.2h0M1114.0 297.2h0M1113.7 287.8h0M1113.5 302.7h0M1113.8 335.6h0M1114.6 360.8h0M1114.7 322.2h0M1113.9 323.5h0M1115.2 327.2h0M1114.8 326.9h0M1115.4 328.7h0M1115.4 324.9h0M1113.8 329.3h0M1115.2 325.6h0M1114.8 272.9h0M1114.8 270.0h0M1115.0 341.9h0M1114.0 266.2h0M1114.3 363.9h0M1114.5 375.0h0M1114.9 367.3h0M1114.4 335.7h0M1114.6 329.2h0M1115.9 325.9h0M1115.6 336.1h0M1114.8 310.2h0M1114.8 302.1h0M1116.4 311.4h0M1115.6 298.2h0M1115.6 296.4h0M1116.6 286.9h0M1116.8 299.0h0M1116.6 312.7h0M1115.6 347.2h0M1115.9 294.3h0M1116.1 299.9h0M1117.0 345.8h0M1116.9 344.4h0M1117.3 266.3h0M1117.2 267.9h0M1116.8 279.6h0M1116.9 294.5h0M1118.1 295.3h0M1118.2 297.1h0M1118.1 375.2h0M1117.4 289.9h0M1117.4 370.8h0M1116.9 377.7h0M1118.3 367.3h0M1117.9 354.5h0M1116.7 357.2h0M1118.5 356.9h0M1118.7 358.9h0M1117.5 356.6h0M1116.9 356.9h0M1118.6 355.1h0M1116.8 355.1h0M1117.2 356.5h0M1118.0 356.6h0M1118.4 352.5h0M1117.6 342.5h0M1118.6 346.4h0M1119.1 277.3h0M1117.3 366.5h0M1118.3 313.7h0M1118.2 322.1h0M1118.7 330.8h0M1117.9 326.8h0M1119.4 347.5h0M1119.8 356.3h0M1118.7 352.5h0M1117.9 351.3h0M1117.9 346.5h0M1118.1 349.8h0M1118.3 340.9h0M1118.6 349.7h0M1119.0 343.6h0M1119.3 300.8h0M1118.2 316.0h0M1118.8 353.6h0M1119.3 349.6h0M1118.9 348.4h0M1120.3 350.9h0M1118.5 350.5h0M1119.7 352.1h0M1119.1 347.3h0M1118.5 354.3h0M1118.4 349.7h0M1118.6 371.4h0M1118.4 377.8h0M1120.4 303.3h0M1119.7 297.1h0M1120.3 304.4h0M1119.1 302.2h0M1119.9 300.8h0M1118.7 300.1h0M1120.5 302.6h0M1120.4 302.5h0M1120.5 300.6h0M1119.1 300.0h0M1119.4 299.0h0M1119.5 298.5h0M1120.6 293.2h0M1120.0 303.0h0M1119.2 303.4h0M1120.5 298.1h0M1119.5 299.8h0M1120.2 301.9h0M1119.6 305.7h0M1119.9 292.8h0M1119.9 292.2h0M1119.9 291.1h0M1120.2 351.5h0M1120.9 330.1h0M1120.5 339.6h0M1119.9 333.0h0M1120.6 332.9h0M1120.3 285.6h0M1121.3 325.3h0M1120.6 331.2h0M1121.1 315.7h0M1120.5 270.8h0M1121.8 336.4h0M1120.7 347.5h0M1121.3 349.1h0M1121.5 351.4h0M1120.9 349.4h0M1121.0 355.4h0M1121.7 343.2h0M1121.0 354.7h0M1122.5 356.0h0M1122.4 351.3h0M1121.9 335.1h0M1122.4 332.7h0M1122.6 328.8h0M1122.2 331.4h0M1122.0 330.4h0M1121.6 333.1h0M1122.5 329.1h0M1122.0 334.2h0M1121.0 366.0h0M1122.7 366.2h0M1122.4 281.3h0M1122.1 278.1h0M1123.0 274.0h0M1121.9 277.3h0M1121.4 269.8h0M1122.8 276.8h0M1122.2 360.6h0M1123.2 370.2h0M1122.8 362.4h0M1123.0 358.6h0M1123.0 311.6h0M1122.0 310.3h0M1122.0 316.0h0M1122.7 375.6h0M1122.9 377.3h0M1122.2 370.5h0M1123.5 380.2h0M1121.9 368.3h0M1123.7 371.8h0M1123.3 374.4h0M1122.8 374.9h0M1123.1 375.8h0M1123.3 376.8h0M1122.5 375.7h0M1122.9 291.8h0M1123.3 296.7h0M1123.0 365.8h0M1123.7 270.1h0M1124.2 276.0h0M1123.8 279.5h0M1124.0 282.3h0M1122.9 280.0h0M1122.4 276.8h0M1122.9 281.0h0M1123.1 289.2h0M1123.1 368.1h0M1123.5 333.5h0M1123.2 337.5h0M1123.7 337.4h0M1123.3 335.4h0M1124.5 340.4h0M1123.2 325.6h0M1123.3 323.7h0M1124.6 337.1h0M1124.4 270.0h0M1124.4 283.5h0M1124.1 362.3h0M1123.4 363.8h0M1124.4 365.7h0M1123.6 297.8h0M1124.0 302.9h0M1124.8 297.0h0M1125.5 295.0h0M1125.0 344.2h0M1124.0 342.7h0M1123.9 338.7h0M1125.8 296.0h0M1125.2 291.6h0M1124.0 300.6h0M1124.6 282.2h0M1126.2 287.6h0M1125.5 280.8h0M1125.6 286.4h0M1126.1 287.4h0M1124.7 282.8h0M1125.0 287.2h0M1125.1 284.6h0M1124.5 291.1h0M1125.5 288.4h0M1125.3 282.1h0M1124.8 285.9h0M1126.0 284.8h0M1124.7 283.7h0M1124.7 291.0h0M1125.8 290.9h0M1125.5 296.9h0M1126.5 304.1h0M1126.4 297.7h0M1125.6 297.0h0M1125.2 289.3h0M1126.2 274.3h0M1126.2 278.7h0M1126.0 279.0h0M1126.6 271.6h0M1125.8 269.4h0M1125.0 267.6h0M1126.2 267.3h0M1126.9 332.6h0M1126.0 315.8h0M1125.2 313.9h0M1126.4 355.2h0M1126.5 298.3h0M1126.5 298.2h0M1127.1 300.5h0M1125.8 299.7h0M1126.3 300.7h0M1125.7 297.8h0M1126.2 371.8h0M1126.0 374.2h0M1126.8 321.3h0M1127.0 322.5h0M1127.7 319.6h0M1127.2 329.4h0M1127.3 312.2h0M1127.2 312.9h0M1126.2 333.3h0M1126.4 280.5h0M1126.6 310.0h0M1127.8 312.9h0M1127.3 302.3h0M1127.6 307.8h0M1127.8 315.6h0M1128.3 312.2h0M1128.3 304.2h0M1126.7 316.3h0M1127.3 308.7h0M1128.3 321.8h0M1126.8 317.4h0M1127.8 314.0h0M1127.4 346.4h0M1127.4 345.6h0M1127.5 343.3h0M1127.0 352.2h0M1127.7 348.4h0M1128.0 344.1h0M1126.8 379.6h0M1127.8 381.3h0M1127.2 377.5h0M1128.6 377.1h0M1127.3 377.3h0M1128.4 381.4h0M1128.5 376.9h0M1127.7 382.4h0M1127.3 375.8h0M1127.6 378.7h0M1127.3 381.5h0M1127.1 377.3h0M1127.7 272.6h0M1127.5 304.5h0M1128.1 313.5h0M1127.9 312.2h0M1129.2 308.0h0M1129.4 356.0h0M1127.9 356.5h0M1128.8 350.3h0M1129.2 310.5h0M1128.9 306.6h0M1129.1 301.4h0M1128.5 312.9h0M1129.6 304.3h0M1128.0 304.5h0M1129.6 278.2h0M1129.7 273.4h0M1129.4 268.1h0M1129.3 271.1h0M1130.2 334.6h0M1129.7 328.2h0M1129.3 313.6h0M1129.5 361.6h0M1129.9 278.8h0M1129.6 301.3h0M1130.3 309.1h0M1130.4 313.2h0M1131.0 306.8h0M1129.2 307.1h0M1130.4 301.9h0M1129.3 302.6h0M1130.7 299.7h0M1130.8 310.7h0M1129.8 312.4h0M1130.8 374.1h0M1129.6 262.2h0M1131.1 272.2h0M1129.9 269.3h0M1129.6 366.1h0M1130.6 373.4h0M1129.9 309.8h0M1131.1 322.4h0M1130.8 322.0h0M1130.2 292.9h0M1130.1 279.0h0M1130.6 286.7h0M1130.3 284.2h0M1130.8 284.9h0M1131.3 262.1h0M1130.5 290.3h0M1130.7 292.4h0M1131.3 380.2h0M1132.8 297.7h0M1132.6 297.1h0M1131.2 300.0h0M1132.5 300.4h0M1133.0 286.1h0M1131.6 364.4h0M1131.7 363.1h0M1132.4 360.7h0M1132.4 357.1h0M1132.4 365.8h0M1132.5 358.0h0M1131.4 356.6h0M1132.1 355.9h0M1132.8 361.3h0M1132.2 359.1h0M1132.8 359.2h0M1133.1 363.1h0M1131.9 358.3h0M1131.7 363.2h0M1132.5 352.9h0M1131.5 349.9h0M1132.5 349.2h0M1132.4 350.3h0M1132.5 351.5h0M1133.2 349.0h0M1132.8 350.7h0M1133.2 352.5h0M1132.4 343.6h0M1132.1 355.0h0M1132.7 351.4h0M1132.8 350.9h0M1132.3 351.6h0M1131.5 314.4h0M1133.4 295.8h0M1132.5 304.8h0M1133.8 310.1h0M1133.3 310.0h0M1133.0 312.9h0M1132.5 313.4h0M1132.8 322.0h0M1133.5 332.6h0M1132.8 326.7h0M1132.3 327.0h0M1133.1 335.6h0M1133.2 327.3h0M1132.3 332.7h0M1134.4 364.4h0M1132.9 358.5h0M1132.7 353.9h0M1134.1 354.6h0M1132.8 283.8h0M1133.5 274.6h0M1134.1 262.6h0M1133.1 262.0h0M1133.7 267.0h0M1134.7 266.4h0M1134.1 300.5h0M1133.8 284.9h0M1134.3 294.6h0M1135.4 295.5h0M1135.6 301.9h0M1134.0 306.1h0M1135.3 308.0h0M1134.5 302.7h0M1134.6 301.0h0M1133.9 302.1h0M1135.4 268.3h0M1134.8 262.2h0M1135.6 263.4h0M1134.0 276.3h0M1135.2 261.1h0M1133.8 271.0h0M1134.6 263.4h0M1134.4 262.3h0M1134.3 269.1h0M1134.9 262.4h0M1135.3 273.4h0M1134.3 272.3h0M1134.6 269.0h0M1134.9 374.2h0M1134.6 365.0h0M1134.4 374.9h0M1136.0 369.8h0M1135.3 364.1h0M1135.2 337.2h0M1134.6 332.0h0M1136.0 336.6h0M1135.2 335.7h0M1135.9 328.9h0M1135.6 332.3h0M1134.3 330.9h0M1135.9 332.8h0M1135.9 325.0h0M1136.2 328.1h0M1135.6 315.0h0M1136.0 314.0h0M1136.2 376.1h0M1135.6 385.7h0M1135.3 379.0h0M1135.3 274.7h0M1135.1 270.6h0M1135.2 271.6h0M1136.2 273.4h0M1135.6 327.7h0M1135.2 338.8h0M1137.1 296.4h0M1136.4 281.7h0M1136.9 290.8h0M1136.4 279.7h0M1136.0 276.3h0M1136.3 287.7h0M1135.7 268.6h0M1137.0 270.3h0M1136.2 284.4h0M1136.9 280.9h0M1137.1 279.1h0M1137.1 308.2h0M1136.4 306.6h0M1136.2 307.3h0M1137.5 291.9h0M1137.2 295.2h0M1135.9 279.8h0M1136.3 380.1h0M1136.0 375.5h0M1137.3 377.8h0M1135.9 377.3h0M1137.6 374.9h0M1136.5 373.0h0M1137.9 381.4h0M1136.7 378.9h0M1137.5 374.9h0M1137.1 374.4h0M1136.8 280.2h0M1136.5 280.5h0M1137.2 281.5h0M1137.8 276.1h0M1137.7 278.5h0M1137.5 276.3h0M1137.1 280.3h0M1137.4 278.4h0M1137.3 278.3h0M1138.0 276.8h0M1136.7 279.1h0M1137.4 279.5h0M1136.5 271.4h0M1137.4 280.3h0M1137.0 274.4h0M1137.8 283.3h0M1136.8 334.6h0M1138.7 335.6h0M1137.9 335.9h0M1137.2 337.2h0M1138.5 335.8h0M1138.2 332.2h0M1137.0 336.9h0M1137.8 324.2h0M1137.5 283.7h0M1138.6 289.1h0M1138.9 306.6h0M1139.3 313.0h0M1137.8 319.1h0M1138.5 308.6h0M1137.9 317.2h0M1137.9 317.7h0M1138.8 340.8h0M1138.5 335.2h0M1138.0 336.0h0M1139.6 332.1h0M1137.9 341.9h0M1138.4 331.5h0M1139.1 328.5h0M1139.1 329.3h0M1139.4 375.0h0M1138.5 380.1h0M1139.7 367.0h0M1138.4 382.1h0M1138.8 296.5h0M1139.4 308.8h0M1138.5 300.6h0M1139.6 356.9h0M1139.1 346.4h0M1139.9 320.8h0M1140.7 323.1h0M1140.4 324.7h0M1140.5 331.3h0M1139.4 327.9h0M1139.7 329.6h0M1139.8 347.9h0M1140.8 341.4h0M1139.6 351.7h0M1139.3 364.7h0M1139.5 366.2h0M1139.3 363.7h0M1139.8 357.1h0M1140.2 359.6h0M1140.3 359.5h0M1141.0 372.9h0M1139.9 392.0h0M1139.8 380.5h0M1140.8 390.7h0M1140.7 386.9h0M1141.0 384.7h0M1140.9 264.2h0M1140.8 379.1h0M1140.3 384.5h0M1139.7 390.3h0M1141.5 382.7h0M1141.5 295.5h0M1140.9 361.8h0M1141.0 329.2h0M1140.0 337.8h0M1140.3 332.1h0M1140.5 330.7h0M1141.1 333.7h0M1141.6 332.2h0M1140.4 329.0h0M1141.2 333.3h0M1141.9 334.1h0M1141.0 333.9h0M1140.4 335.4h0M1141.4 334.3h0M1140.2 331.3h0M1140.9 335.9h0M1140.8 332.9h0M1141.1 330.8h0M1141.1 332.1h0M1141.4 307.3h0M1140.3 307.4h0M1141.1 301.4h0M1140.6 314.8h0M1141.0 308.1h0M1140.6 303.2h0M1141.1 307.3h0M1141.0 309.6h0M1140.9 304.8h0M1140.4 306.7h0M1141.1 299.5h0M1140.6 301.2h0M1140.9 386.7h0M1141.5 341.0h0M1142.6 347.0h0M1141.4 357.7h0M1141.5 320.0h0M1142.3 319.6h0M1141.3 315.0h0M1141.2 313.0h0M1141.5 317.0h0M1141.7 322.3h0M1142.3 322.2h0M1141.3 325.5h0M1141.4 366.2h0M1143.0 346.2h0M1143.2 355.8h0M1143.3 363.5h0M1141.6 354.3h0M1143.0 349.6h0M1143.2 340.7h0M1143.2 334.9h0M1143.2 343.1h0M1142.1 263.1h0M1142.1 256.6h0M1142.7 251.2h0M1142.6 247.0h0M1142.1 256.8h0M1143.7 259.1h0M1142.2 256.5h0M1143.2 251.3h0M1144.0 256.6h0M1143.2 256.6h0M1142.7 355.5h0M1143.1 350.2h0M1142.3 356.5h0M1144.1 355.0h0M1142.5 358.6h0M1144.4 326.1h0M1143.5 312.1h0M1142.7 317.9h0M1144.5 358.5h0M1144.1 348.4h0M1143.4 249.8h0M1144.9 249.6h0M1143.7 249.7h0M1143.9 297.5h0M1145.0 299.4h0M1145.0 382.1h0M1145.6 381.2h0M1145.4 382.7h0M1145.2 377.3h0M1144.1 375.2h0M1145.0 374.6h0M1145.3 381.3h0M1145.2 275.0h0M1144.8 281.6h0M1145.4 283.7h0M1145.5 282.0h0M1144.9 268.9h0M1145.9 326.9h0M1145.5 331.3h0M1145.3 330.6h0M1145.4 323.5h0M1144.6 317.6h0M1145.6 322.3h0M1144.1 323.2h0M1144.2 321.0h0M1145.7 328.3h0M1144.7 289.5h0M1144.6 291.9h0M1144.5 297.4h0M1145.4 375.4h0M1146.2 325.3h0M1146.7 317.8h0M1145.3 271.2h0M1146.7 273.5h0M1146.0 278.9h0M1146.9 281.6h0M1146.3 279.4h0M1146.8 276.6h0M1145.7 275.0h0M1146.4 278.6h0M1146.8 277.6h0M1145.5 279.4h0M1145.5 281.3h0M1145.5 284.1h0M1146.3 257.4h0M1145.8 257.6h0M1146.4 262.8h0M1146.8 269.6h0M1146.1 261.3h0M1147.2 377.8h0M1146.7 378.8h0M1146.1 379.9h0M1146.0 378.0h0M1146.3 319.1h0M1147.2 317.4h0M1147.7 334.1h0M1146.6 376.5h0M1146.7 369.9h0M1148.0 262.4h0M1147.1 255.3h0M1147.8 258.6h0M1146.1 259.0h0M1147.0 247.3h0M1146.3 247.2h0M1146.8 254.2h0M1146.9 254.4h0M1146.9 254.1h0M1147.5 266.7h0M1147.2 247.0h0M1146.6 351.6h0M1147.9 385.2h0M1146.9 379.4h0M1147.6 381.1h0M1148.6 381.5h0M1147.9 269.3h0M1148.1 390.7h0M1148.5 308.5h0M1147.4 290.3h0M1147.5 295.1h0M1148.2 295.6h0M1148.0 259.2h0M1147.8 268.3h0M1149.2 264.0h0M1148.5 264.4h0M1147.5 260.5h0M1148.8 263.6h0M1149.1 269.4h0M1149.0 272.2h0M1148.8 338.2h0M1149.5 302.8h0M1148.4 277.3h0M1149.1 271.0h0M1149.8 267.9h0M1148.1 273.5h0M1149.1 272.5h0M1149.1 273.7h0M1149.9 302.9h0M1149.3 340.3h0M1149.8 343.8h0M1149.0 338.1h0M1149.7 299.7h0M1148.5 303.8h0M1150.1 283.3h0M1150.2 284.8h0M1150.3 276.3h0M1150.4 290.3h0M1149.2 286.5h0M1150.6 275.5h0M1149.2 290.3h0M1149.9 277.0h0M1150.6 301.5h0M1150.7 302.7h0M1149.4 301.2h0M1150.9 304.0h0M1150.0 303.9h0M1150.3 300.8h0M1149.2 305.6h0M1149.1 304.7h0M1149.1 317.7h0M1149.4 318.4h0M1149.6 359.6h0M1150.6 308.5h0M1150.6 308.1h0M1151.2 308.7h0M1151.1 284.9h0M1150.4 269.6h0M1151.7 268.2h0M1150.3 268.8h0M1149.9 265.9h0M1150.2 270.7h0M1150.0 293.2h0M1150.3 347.1h0M1150.5 340.2h0M1151.7 341.9h0M1151.7 350.6h0M1150.6 339.1h0M1151.2 351.6h0M1151.5 343.2h0M1151.4 339.3h0M1150.9 372.7h0M1151.9 379.9h0M1151.9 365.1h0M1150.9 372.5h0M1150.8 366.7h0M1151.2 372.8h0M1152.1 257.2h0M1151.8 260.8h0M1151.2 256.7h0M1150.8 253.5h0M1151.4 344.8h0M1152.1 285.7h0M1151.5 294.0h0M1152.1 285.3h0M1151.0 295.6h0M1152.6 299.3h0M1151.4 295.7h0M1152.1 289.7h0M1151.6 297.5h0M1151.8 289.5h0M1151.5 375.0h0M1152.3 371.0h0M1151.9 376.7h0M1151.5 380.0h0M1151.1 380.1h0M1152.4 375.4h0M1151.5 339.7h0M1151.7 332.5h0M1152.1 309.5h0M1153.4 265.8h0M1153.4 267.7h0M1153.4 248.0h0M1152.1 257.8h0M1153.1 256.8h0M1152.6 257.6h0M1153.1 247.9h0M1153.3 383.6h0M1153.3 357.4h0M1153.1 356.2h0M1153.1 357.1h0M1153.4 352.0h0M1153.8 357.3h0M1152.7 371.4h0M1154.0 376.9h0M1154.1 378.6h0M1153.3 376.5h0M1152.9 372.6h0M1152.7 375.0h0M1153.3 374.8h0M1152.2 373.0h0M1152.8 382.1h0M1154.0 388.8h0M1152.9 333.5h0M1153.4 336.7h0M1154.1 335.5h0M1153.1 336.7h0M1152.9 334.2h0M1154.4 244.2h0M1154.9 352.3h0M1154.5 347.7h0M1153.5 344.5h0M1154.7 358.3h0M1154.8 350.3h0M1154.5 348.5h0M1154.0 341.9h0M1154.8 353.9h0M1154.4 353.5h0M1155.2 321.2h0M1154.0 311.6h0M1153.5 323.2h0M1155.3 322.9h0M1154.1 314.2h0M1153.9 322.4h0M1154.5 323.1h0M1154.8 320.2h0M1154.3 325.3h0M1155.1 320.3h0M1154.3 325.2h0M1155.1 317.9h0M1154.6 315.6h0M1153.9 326.9h0M1155.2 341.0h0M1155.1 340.2h0M1154.6 337.8h0M1154.2 342.5h0M1154.8 340.9h0M1155.8 342.6h0M1154.9 346.3h0M1154.4 346.3h0M1154.8 316.4h0M1156.0 310.2h0M1156.3 291.2h0M1155.4 260.2h0M1156.4 263.5h0M1156.7 349.5h0M1155.9 348.7h0M1156.0 353.8h0M1155.5 346.9h0M1156.7 349.1h0M1155.7 354.5h0M1155.2 347.9h0M1156.9 350.9h0M1155.7 348.6h0M1157.0 345.9h0M1155.1 347.7h0M1156.4 353.2h0M1155.3 348.4h0M1155.9 346.9h0M1155.1 351.3h0M1156.8 266.7h0M1156.0 265.2h0M1156.7 269.2h0M1155.9 261.3h0M1157.1 262.8h0M1156.0 365.2h0M1156.3 367.3h0M1156.7 369.1h0M1156.2 364.3h0M1155.8 378.8h0M1155.6 373.5h0M1156.6 366.1h0M1155.4 366.3h0M1157.6 287.7h0M1157.3 289.3h0M1157.4 273.6h0M1156.9 278.2h0M1157.2 273.8h0M1157.2 275.9h0M1157.3 276.8h0M1156.6 273.4h0M1155.9 277.6h0M1156.1 278.5h0M1157.9 292.8h0M1157.7 312.2h0M1157.4 297.9h0M1157.5 307.2h0M1157.5 306.3h0M1156.2 296.1h0M1157.5 303.5h0M1156.1 295.4h0M1157.0 293.5h0M1157.1 304.3h0M1156.8 313.0h0M1156.2 298.9h0M1157.1 359.3h0M1157.1 356.3h0M1156.4 356.9h0M1157.3 364.1h0M1157.8 356.0h0M1157.9 354.9h0M1156.7 313.9h0M1157.2 312.1h0M1157.3 332.2h0M1157.5 336.6h0M1157.0 337.3h0M1156.9 333.8h0M1157.9 345.4h0M1156.9 339.7h0M1156.8 333.1h0M1156.8 335.7h0M1157.1 339.9h0M1157.7 326.4h0M1157.2 332.4h0M1157.6 341.2h0M1156.9 340.8h0M1157.6 341.9h0M1157.5 317.3h0M1157.0 333.1h0M1158.5 300.4h0M1158.2 292.3h0M1158.7 296.2h0M1158.8 295.4h0M1157.3 292.7h0M1158.6 295.6h0M1158.3 288.0h0M1157.6 265.7h0M1157.3 316.8h0M1158.8 327.6h0M1157.2 310.8h0M1157.3 321.2h0M1158.2 322.7h0M1157.5 364.4h0M1159.1 357.9h0M1159.3 272.0h0M1158.6 262.1h0M1157.9 259.0h0M1158.8 270.8h0M1159.3 264.1h0M1158.6 273.5h0M1158.5 296.0h0M1159.2 295.8h0M1158.0 292.3h0M1158.9 320.5h0M1159.6 317.1h0M1159.9 321.4h0M1158.5 321.6h0M1160.0 355.1h0M1159.9 355.5h0M1158.5 367.6h0M1160.1 354.9h0M1158.5 357.0h0M1158.8 350.5h0M1159.3 359.5h0M1158.4 358.8h0M1160.3 357.6h0M1159.9 356.2h0M1158.7 350.6h0M1160.3 362.5h0M1158.6 354.1h0M1158.9 355.8h0M1159.1 358.2h0M1159.0 366.9h0M1160.2 350.5h0M1159.9 363.0h0M1158.6 366.9h0M1160.4 348.8h0M1160.0 344.4h0M1158.8 342.3h0M1159.3 341.2h0M1158.7 344.5h0M1159.6 341.2h0M1158.8 357.5h0M1159.3 269.8h0M1159.8 272.6h0M1160.2 264.0h0M1159.0 269.7h0M1159.6 338.0h0M1159.4 330.0h0M1160.8 338.0h0M1159.9 333.0h0M1161.0 338.0h0M1160.4 335.9h0M1160.7 305.7h0M1160.3 309.7h0M1159.8 303.9h0M1161.0 309.7h0M1160.4 308.0h0M1160.7 309.4h0M1160.6 306.8h0M1160.6 300.6h0M1161.4 311.7h0M1160.4 330.8h0M1160.6 336.3h0M1160.4 337.6h0M1161.0 337.8h0M1161.2 360.7h0M1160.7 363.2h0M1161.8 357.5h0M1160.6 359.5h0M1161.6 337.5h0M1161.5 344.7h0M1160.4 341.0h0M1160.3 346.2h0M1160.6 340.7h0M1161.0 338.4h0M1160.2 353.9h0M1161.2 342.5h0M1160.5 348.8h0M1161.1 342.3h0M1161.0 339.2h0M1161.2 342.2h0M1161.1 339.1h0M1161.9 336.8h0M1161.1 340.6h0M1160.9 296.8h0M1161.1 302.5h0M1162.0 306.5h0M1161.7 305.0h0M1161.5 262.2h0M1162.7 271.2h0M1161.4 263.6h0M1161.5 264.6h0M1162.5 258.9h0M1161.4 266.2h0M1162.0 268.3h0M1162.2 257.2h0M1162.0 272.9h0M1160.9 257.9h0M1160.9 267.9h0M1161.2 267.4h0M1161.9 261.1h0M1161.9 269.9h0M1161.9 304.7h0M1162.7 307.6h0M1162.3 295.6h0M1161.8 300.7h0M1162.5 303.0h0M1162.4 298.7h0M1161.4 330.0h0M1162.5 261.3h0M1163.6 336.6h0M1162.6 340.0h0M1162.3 335.7h0M1163.3 337.1h0M1163.1 341.8h0M1163.1 343.0h0M1163.7 335.7h0M1162.2 349.4h0M1162.3 350.2h0M1163.3 355.8h0M1163.8 345.5h0M1163.3 341.1h0M1163.7 341.7h0M1164.0 341.0h0M1162.5 358.3h0M1163.7 351.6h0M1164.3 347.5h0M1164.1 359.0h0M1164.0 346.0h0M1163.4 359.8h0M1163.6 356.8h0M1163.2 363.2h0M1164.5 363.2h0M1164.1 247.6h0M1164.1 342.4h0M1164.3 338.1h0M1163.6 343.7h0M1163.1 348.5h0M1163.9 355.8h0M1164.6 345.2h0M1164.9 340.3h0M1163.4 245.6h0M1164.7 246.5h0M1164.4 246.5h0M1164.6 246.6h0M1164.1 271.1h0M1163.6 278.0h0M1165.0 273.8h0M1164.1 284.2h0M1165.5 287.5h0M1165.3 288.6h0M1164.9 326.4h0M1164.7 325.2h0M1166.1 366.3h0M1165.4 364.7h0M1164.2 368.1h0M1164.3 363.1h0M1165.2 278.0h0M1165.8 282.9h0M1165.9 280.0h0M1166.0 286.6h0M1165.0 284.0h0M1165.8 364.9h0M1166.1 355.5h0M1165.4 365.7h0M1165.7 365.6h0M1164.9 250.4h0M1166.4 250.8h0M1166.0 251.8h0M1164.9 246.8h0M1166.2 287.8h0M1165.4 291.2h0M1166.7 283.7h0M1165.7 241.8h0M1166.7 253.7h0M1165.4 243.4h0M1166.5 324.6h0M1166.5 363.2h0M1167.0 359.3h0M1166.1 359.4h0M1167.5 354.9h0M1166.0 354.0h0M1166.3 357.6h0M1166.7 359.9h0M1165.9 352.3h0M1166.3 358.2h0M1167.4 290.2h0M1166.4 292.4h0M1166.8 293.6h0M1167.7 289.6h0M1165.9 299.4h0M1167.7 257.1h0M1166.4 249.5h0M1166.0 252.0h0M1167.2 317.4h0M1166.8 318.8h0M1167.7 315.3h0M1166.7 244.9h0M1168.2 243.1h0M1167.1 369.1h0M1168.3 266.4h0M1168.3 263.0h0M1167.9 276.6h0M1167.8 272.1h0M1167.3 267.0h0M1167.3 284.3h0M1168.4 254.1h0M1168.1 254.6h0M1167.4 255.0h0M1169.1 256.0h0M1167.4 254.0h0M1167.2 321.0h0M1168.6 313.1h0M1169.4 312.9h0M1168.5 311.5h0M1167.6 311.0h0M1168.2 306.7h0M1168.1 308.0h0M1169.2 308.0h0M1169.1 258.2h0M1168.3 256.4h0M1167.8 371.1h0M1169.4 365.5h0M1169.4 367.2h0M1169.5 369.0h0M1168.8 368.4h0M1169.1 369.5h0M1168.4 278.0h0M1168.2 245.9h0M1168.9 237.9h0M1168.4 240.1h0M1169.4 259.8h0M1169.1 367.5h0M1169.8 363.8h0M1170.2 368.0h0M1169.5 367.7h0M1169.9 370.7h0M1168.7 361.6h0M1169.5 232.0h0M1170.3 261.5h0M1169.5 274.3h0M1170.0 283.9h0M1169.1 366.2h0M1170.2 361.0h0M1168.6 298.8h0M1170.3 345.3h0M1169.7 342.3h0M1169.7 338.8h0M1169.3 339.8h0M1169.2 295.9h0M1170.2 239.9h0M1170.8 250.7h0M1171.0 235.1h0M1170.6 339.6h0M1169.6 230.8h0M1169.4 238.2h0M1169.3 274.0h0M1169.1 231.1h0M1170.8 366.5h0M1170.4 365.1h0M1170.6 366.6h0M1169.4 367.7h0M1170.5 365.1h0M1169.3 366.3h0M1171.1 231.3h0M1170.9 363.8h0M1170.8 367.6h0M1170.4 341.6h0M1170.5 339.8h0M1171.5 233.1h0M1170.5 323.9h0M1170.5 315.2h0M1169.8 322.6h0M1171.1 320.9h0M1170.6 319.7h0M1169.8 319.7h0M1170.9 316.7h0M1170.0 317.4h0M1171.2 325.4h0M1171.4 316.5h0M1170.8 318.5h0M1170.3 333.9h0M1170.6 334.2h0M1171.4 335.3h0M1171.1 337.9h0M1170.3 245.9h0M1170.4 249.8h0M1171.8 242.9h0M1171.1 240.2h0M1172.0 246.2h0M1171.1 243.6h0M1170.1 251.4h0M1171.5 247.5h0M1171.4 246.5h0M1171.6 250.2h0M1170.4 248.2h0M1171.2 235.9h0M1170.4 243.1h0M1172.0 240.7h0M1170.4 236.5h0M1171.4 244.2h0M1170.8 246.5h0M1171.6 322.8h0M1171.9 250.0h0M1171.2 249.5h0M1171.9 251.9h0M1171.8 251.9h0M1171.0 314.0h0M1171.2 323.4h0M1172.0 316.8h0M1172.0 278.6h0M1172.5 277.1h0M1172.3 283.4h0M1172.3 282.6h0M1171.0 283.2h0M1171.9 282.8h0M1171.3 358.6h0M1171.8 356.4h0M1173.0 342.9h0M1171.7 347.3h0M1172.4 341.3h0M1173.1 340.0h0M1172.4 341.1h0M1171.9 344.2h0M1171.4 340.3h0M1171.4 339.8h0M1171.7 342.5h0M1172.0 345.0h0M1173.1 345.2h0M1173.1 337.9h0M1171.6 252.3h0M1173.1 254.8h0M1172.8 247.6h0M1171.5 255.8h0M1172.1 270.4h0M1173.3 269.4h0M1173.5 273.9h0M1172.7 271.1h0M1172.0 271.2h0M1171.7 269.7h0M1172.5 270.6h0M1172.5 269.8h0M1173.3 272.8h0M1172.9 272.8h0M1172.7 272.3h0M1173.0 281.2h0M1172.7 278.2h0M1172.5 275.6h0M1172.4 334.1h0M1173.4 331.4h0M1173.9 287.6h0M1174.3 259.5h0M1173.6 257.3h0M1174.2 268.8h0M1173.9 262.6h0M1172.9 268.6h0M1174.2 261.9h0M1172.9 260.5h0M1173.4 264.2h0M1174.5 266.7h0M1173.4 265.2h0M1173.3 261.5h0M1174.1 265.0h0M1174.7 263.7h0M1173.4 261.1h0M1173.4 270.5h0M1173.6 263.2h0M1172.8 266.5h0M1174.5 268.7h0M1173.4 258.8h0M1173.0 263.2h0M1174.7 264.1h0M1174.4 264.1h0M1173.3 270.8h0M1174.5 267.1h0M1173.1 258.7h0M1173.4 355.2h0M1173.8 354.5h0M1173.5 353.4h0M1174.2 346.8h0M1173.4 347.0h0M1174.2 355.9h0M1174.5 350.6h0M1174.5 349.3h0M1173.4 357.6h0M1173.9 357.5h0M1174.2 334.2h0M1173.3 329.2h0M1173.4 335.5h0M1174.8 348.2h0M1173.3 353.2h0M1173.5 338.3h0M1174.4 356.4h0M1174.6 270.4h0M1173.9 262.7h0M1174.6 255.9h0M1175.5 260.2h0M1175.3 248.9h0M1174.7 344.6h0M1174.2 342.2h0M1174.4 353.1h0M1174.5 278.8h0M1174.7 344.3h0M1176.0 230.2h0M1175.5 273.8h0M1175.7 273.3h0M1176.1 279.7h0M1175.6 275.6h0M1175.1 268.8h0M1175.0 274.3h0M1175.5 276.7h0M1175.4 274.1h0M1175.4 276.4h0M1176.2 274.5h0M1175.8 274.0h0M1175.7 331.2h0M1175.3 338.7h0M1174.6 334.0h0M1175.4 339.5h0M1176.3 333.8h0M1175.9 333.0h0M1174.5 337.0h0M1175.2 338.3h0M1176.1 337.2h0M1175.9 336.2h0M1176.3 335.2h0M1175.8 335.1h0M1176.5 338.6h0M1175.9 333.6h0M1174.6 333.6h0M1175.2 336.6h0M1175.1 337.5h0M1176.7 322.7h0M1175.4 323.4h0M1175.9 321.2h0M1175.4 321.2h0M1176.2 322.5h0M1176.2 317.4h0M1174.9 317.2h0M1174.9 319.3h0M1174.8 311.5h0M1175.2 301.8h0M1176.4 298.1h0M1175.6 298.6h0M1176.4 281.6h0M1176.3 283.4h0M1176.8 274.2h0M1176.1 274.8h0M1177.1 281.4h0M1175.3 284.9h0M1176.2 284.3h0M1175.9 293.0h0M1177.0 291.0h0M1175.9 241.0h0M1175.7 227.0h0M1177.3 236.9h0M1177.5 236.2h0M1175.9 241.7h0M1177.4 349.9h0M1176.5 234.1h0M1177.5 233.3h0M1177.7 234.5h0M1176.1 323.1h0M1176.5 328.5h0M1176.6 331.2h0M1177.5 327.3h0M1177.3 322.5h0M1177.1 325.2h0M1177.6 326.9h0M1177.9 301.3h0M1176.7 266.0h0M1177.0 284.7h0M1177.3 298.1h0M1177.1 294.9h0M1178.2 300.4h0M1177.7 301.1h0M1177.9 299.6h0M1176.9 299.3h0M1178.3 298.6h0M1177.6 330.7h0M1177.4 327.2h0M1178.5 338.8h0M1177.3 279.3h0M1178.7 279.8h0M1178.6 333.0h0M1177.3 324.6h0M1178.7 323.8h0M1178.5 335.6h0M1178.8 327.5h0M1178.2 325.6h0M1179.2 320.3h0M1177.6 332.4h0M1178.3 323.9h0M1178.3 327.6h0M1177.4 319.2h0M1178.4 328.4h0M1178.4 328.6h0M1179.2 330.0h0M1178.9 283.0h0M1179.1 336.5h0M1178.8 341.0h0M1179.0 301.4h0M1179.8 309.1h0M1178.8 300.8h0M1178.6 317.7h0M1179.3 327.5h0M1179.9 290.7h0M1179.7 293.0h0M1178.5 291.3h0M1178.4 294.8h0M1179.0 290.7h0M1178.7 295.9h0M1178.9 298.4h0M1178.6 298.4h0M1178.8 304.2h0M1180.3 302.0h0M1179.9 298.5h0M1179.9 302.3h0M1178.7 302.1h0M1180.0 302.2h0M1179.9 303.2h0M1179.1 306.3h0M1179.3 244.0h0M1179.5 236.2h0M1179.9 317.1h0M1180.3 310.8h0M1180.8 312.1h0M1180.9 313.8h0M1180.6 311.3h0M1179.2 316.2h0M1179.6 254.8h0M1179.2 255.7h0M1179.6 341.0h0M1180.1 333.5h0M1179.9 328.5h0M1179.9 268.1h0M1181.1 271.1h0M1179.4 273.1h0M1181.2 270.5h0M1180.6 261.8h0M1180.7 261.5h0M1180.3 259.2h0M1180.9 263.3h0M1180.4 260.5h0M1180.7 258.9h0M1180.1 258.3h0M1180.2 264.0h0M1179.9 235.2h0M1180.2 246.3h0M1179.7 249.0h0M1180.6 251.7h0M1179.9 247.5h0M1181.6 250.3h0M1180.4 318.3h0M1180.4 325.6h0M1181.8 238.0h0M1180.4 229.4h0M1180.7 297.3h0M1182.0 306.7h0M1180.5 344.0h0M1181.6 340.4h0M1181.4 343.1h0M1181.3 339.0h0M1181.8 335.4h0M1181.6 335.8h0M1180.7 341.7h0M1181.2 346.6h0M1181.2 338.1h0M1181.0 338.0h0M1181.6 328.1h0M1182.4 331.4h0M1181.1 333.3h0M1180.8 327.9h0M1181.6 326.6h0M1182.4 287.2h0M1180.8 293.9h0M1180.8 284.1h0M1182.4 276.0h0M1181.7 293.4h0M1180.8 281.2h0M1181.9 275.2h0M1182.0 282.1h0M1182.2 288.6h0M1181.8 281.0h0M1182.4 284.9h0M1181.0 280.3h0M1181.4 286.1h0M1181.7 279.8h0M1182.7 277.5h0M1181.2 276.6h0M1182.4 279.7h0M1180.9 286.5h0M1180.9 277.7h0M1181.7 311.1h0M1181.4 304.1h0M1181.0 302.8h0M1181.7 309.4h0M1182.2 341.8h0M1181.2 341.8h0M1182.4 344.0h0M1181.9 344.0h0M1181.9 345.8h0M1181.5 336.7h0M1181.7 345.3h0M1182.2 344.5h0M1181.5 271.8h0M1183.1 349.2h0M1181.4 344.1h0M1182.1 336.6h0M1182.3 345.2h0M1182.3 344.9h0M1181.6 325.7h0M1182.7 239.0h0M1183.0 241.3h0M1183.0 249.9h0M1183.4 242.5h0M1183.3 231.8h0M1182.4 244.0h0M1182.6 244.4h0M1182.2 238.7h0M1182.9 240.9h0M1182.1 242.2h0M1181.9 316.5h0M1182.1 321.6h0M1182.7 310.2h0M1183.7 315.0h0M1182.3 253.3h0M1184.0 240.0h0M1183.8 237.5h0M1182.8 239.3h0M1183.7 275.1h0M1183.4 275.8h0M1183.3 296.2h0M1184.4 304.8h0M1184.0 293.9h0M1183.5 303.9h0M1184.1 304.6h0M1184.7 248.8h0M1183.3 244.5h0M1184.1 240.6h0M1184.0 274.6h0M1183.4 258.2h0M1184.1 263.5h0M1183.3 271.3h0M1183.9 272.4h0M1184.8 263.0h0M1183.0 262.7h0M1184.8 257.5h0M1184.7 346.5h0M1184.2 235.1h0M1183.7 230.1h0M1184.7 269.6h0M1185.3 253.8h0M1184.7 266.3h0M1183.5 262.1h0M1184.1 253.8h0M1184.4 266.1h0M1183.9 258.2h0M1184.5 320.1h0M1184.3 326.2h0M1184.1 321.5h0M1185.7 327.8h0M1184.6 325.0h0M1185.8 324.5h0M1184.2 323.1h0M1185.2 325.3h0M1185.8 235.7h0M1184.1 247.0h0M1185.8 244.1h0M1185.1 241.5h0M1184.7 258.7h0M1184.2 238.0h0M1185.6 244.6h0M1186.0 250.8h0M1184.9 244.3h0M1185.1 244.7h0M1184.2 245.1h0M1185.3 238.1h0M1185.4 325.2h0M1186.0 326.8h0M1184.9 327.9h0M1186.2 324.1h0M1185.6 325.7h0M1184.7 311.6h0M1186.0 314.8h0M1184.8 318.6h0M1185.3 320.7h0M1184.6 274.1h0M1184.5 277.6h0M1184.8 278.2h0M1186.0 276.6h0M1186.0 274.0h0M1186.5 271.5h0M1186.0 275.4h0M1185.2 271.1h0M1184.6 271.4h0M1184.8 274.8h0M1185.8 309.3h0M1186.6 254.3h0M1186.7 302.4h0M1186.7 302.9h0M1186.4 303.2h0M1186.9 310.9h0M1186.5 316.8h0M1186.8 316.8h0M1185.7 313.7h0M1186.9 305.3h0M1186.4 310.3h0M1186.2 310.9h0M1186.2 315.2h0M1186.2 310.4h0M1186.9 284.6h0M1186.2 277.8h0M1186.7 282.6h0M1186.4 283.4h0M1185.5 284.1h0M1185.3 277.0h0M1187.0 281.5h0M1187.2 281.4h0M1185.5 280.6h0M1185.9 333.0h0M1187.0 338.0h0M1187.1 331.9h0M1186.7 337.7h0M1186.1 332.0h0M1187.3 329.4h0M1187.2 337.0h0M1185.4 338.2h0M1187.0 333.1h0M1187.3 330.0h0M1187.1 336.8h0M1185.7 231.0h0M1187.0 314.3h0M1187.3 315.2h0M1187.0 329.0h0M1186.1 320.5h0M1186.7 323.4h0M1187.0 318.0h0M1186.6 331.5h0M1187.7 326.4h0M1186.0 324.1h0M1187.2 320.1h0M1186.5 334.2h0M1186.8 332.3h0M1186.9 298.9h0M1187.2 299.1h0M1186.9 301.5h0M1187.2 297.7h0M1187.4 296.7h0M1186.7 294.2h0M1188.2 293.7h0M1186.6 298.2h0M1188.5 234.9h0M1186.7 231.0h0M1187.8 232.4h0M1187.2 232.8h0M1186.7 234.2h0M1187.6 233.7h0M1187.8 234.7h0M1187.0 234.6h0M1187.4 237.1h0M1187.5 235.7h0M1187.4 231.1h0M1187.9 235.7h0M1187.6 233.9h0M1187.5 343.2h0M1187.0 342.3h0M1189.0 233.2h0M1187.8 230.3h0M1187.4 230.9h0M1187.7 234.5h0M1187.7 237.2h0M1188.0 270.2h0M1187.8 263.0h0M1189.3 269.7h0M1187.8 291.1h0M1188.7 289.5h0M1189.2 291.3h0M1188.9 293.9h0M1188.2 294.9h0M1188.6 292.2h0M1189.9 306.9h0M1189.7 302.0h0M1188.9 300.1h0M1188.5 310.6h0M1189.7 301.5h0M1189.1 291.3h0M1189.0 308.4h0M1189.1 306.1h0M1188.1 288.3h0M1189.0 305.9h0M1189.0 299.3h0M1189.4 345.2h0M1189.1 300.6h0M1190.5 300.1h0M1188.8 288.4h0M1188.9 305.2h0M1189.5 299.8h0M1189.0 307.9h0M1189.0 301.2h0M1189.6 292.8h0M1189.3 260.7h0M1189.8 255.7h0M1190.7 230.2h0M1189.3 232.4h0M1190.0 233.7h0M1190.5 299.5h0M1189.9 309.0h0M1189.6 307.1h0M1189.8 315.3h0M1191.0 302.9h0M1189.6 306.6h0M1190.3 313.8h0M1189.2 310.1h0M1190.5 276.1h0M1190.3 282.4h0M1189.8 283.3h0M1189.8 286.2h0M1190.1 306.0h0M1190.4 313.6h0M1189.7 299.9h0M1190.4 311.4h0M1190.8 301.7h0M1190.0 292.7h0M1190.2 302.3h0M1190.1 269.0h0M1189.8 267.7h0M1191.5 267.3h0M1189.9 265.6h0M1191.3 264.5h0M1190.0 268.6h0M1190.1 256.9h0M1191.1 275.6h0M1191.2 266.6h0M1191.5 254.6h0M1190.5 253.2h0M1191.6 255.6h0M1190.9 250.4h0M1190.2 252.1h0M1190.5 255.2h0M1191.4 254.8h0M1190.6 254.1h0M1191.0 252.6h0M1190.9 252.9h0M1192.0 260.6h0M1190.5 253.7h0M1191.8 257.4h0M1191.8 282.1h0M1191.5 282.2h0M1192.2 282.0h0M1190.7 244.8h0M1191.8 241.9h0M1190.9 233.6h0M1191.6 247.8h0M1191.2 235.4h0M1191.8 243.0h0M1191.2 239.1h0M1190.4 240.8h0M1191.9 236.8h0M1191.0 247.3h0M1190.8 235.8h0M1192.3 342.5h0M1190.8 324.4h0M1190.9 253.4h0M1191.2 247.8h0M1191.5 279.2h0M1192.8 279.7h0M1191.3 337.4h0M1192.7 340.2h0M1191.4 341.0h0M1191.5 336.8h0M1193.2 336.0h0M1192.7 338.4h0M1191.8 325.2h0M1191.8 337.4h0M1191.5 338.7h0M1192.8 340.6h0M1192.5 277.7h0M1193.2 281.5h0M1192.1 277.6h0M1191.9 235.3h0M1192.4 332.8h0M1192.6 334.2h0M1192.9 329.4h0M1191.9 333.7h0M1192.5 335.2h0M1193.4 338.6h0M1192.0 336.1h0M1192.9 344.4h0M1192.2 336.0h0M1191.9 338.3h0M1193.3 333.4h0M1192.9 340.4h0M1192.7 337.6h0M1193.2 340.0h0M1193.1 337.7h0M1192.6 332.1h0M1193.7 339.8h0M1192.7 341.9h0M1192.3 333.8h0M1193.2 339.5h0M1192.5 344.5h0M1192.2 341.1h0M1193.4 303.7h0M1192.3 338.4h0M1193.5 342.3h0M1193.2 335.8h0M1193.6 327.5h0M1192.3 307.8h0M1193.6 270.0h0M1193.4 343.2h0M1192.5 269.9h0M1193.2 346.4h0M1193.5 346.1h0M1193.6 342.7h0M1193.8 327.6h0M1193.2 281.0h0M1194.3 299.0h0M1194.3 294.2h0M1194.1 290.6h0M1192.8 265.1h0M1193.1 265.0h0M1194.5 256.7h0M1193.9 254.1h0M1193.8 267.9h0M1193.9 264.5h0M1193.0 259.9h0M1194.3 263.1h0M1194.4 261.0h0M1193.5 278.0h0M1194.5 263.8h0M1193.3 267.4h0M1193.4 267.2h0M1193.0 274.6h0M1193.6 267.4h0M1193.2 258.0h0M1194.4 271.1h0M1194.6 265.7h0M1193.6 259.8h0M1193.3 277.4h0M1192.9 265.4h0M1194.0 265.9h0M1194.2 259.7h0M1193.1 262.1h0M1193.3 257.2h0M1194.1 267.9h0M1193.0 259.4h0M1193.9 260.7h0M1194.6 315.1h0M1193.6 308.7h0M1193.8 311.2h0M1194.1 315.0h0M1193.4 306.0h0M1194.9 325.9h0M1193.7 326.6h0M1193.7 274.4h0M1195.3 280.0h0M1194.3 312.2h0M1194.0 261.6h0M1195.4 257.0h0M1194.8 253.9h0M1194.5 257.8h0M1194.7 314.1h0M1195.7 324.1h0M1195.7 314.5h0M1195.6 311.4h0M1195.2 315.9h0M1195.3 316.0h0M1195.8 319.1h0M1195.5 315.3h0M1194.4 312.6h0M1195.8 319.4h0M1196.1 315.2h0M1196.0 315.0h0M1194.5 312.8h0M1195.0 323.0h0M1195.2 255.1h0M1196.4 257.8h0M1196.2 252.1h0M1194.5 254.8h0M1196.3 256.5h0M1196.1 332.1h0M1196.2 335.8h0M1195.0 333.1h0M1196.5 328.7h0M1195.3 304.8h0M1195.8 320.5h0M1196.7 296.1h0M1195.3 288.7h0M1196.2 282.8h0M1196.1 312.3h0M1196.8 311.3h0M1197.4 293.2h0M1197.2 301.8h0M1196.3 295.1h0M1196.0 293.1h0M1197.3 284.8h0M1197.1 298.3h0M1197.3 293.1h0M1197.0 287.1h0M1197.3 290.0h0M1196.6 294.5h0M1196.0 290.7h0M1197.1 282.7h0M1197.1 298.7h0M1196.8 282.1h0M1196.1 326.0h0M1196.7 326.7h0M1197.4 296.9h0M1196.8 303.0h0M1197.3 310.8h0M1196.4 293.2h0M1196.5 255.6h0M1196.0 247.3h0M1198.2 276.1h0M1197.4 277.9h0M1198.2 295.4h0M1198.3 295.2h0M1197.3 293.2h0M1197.1 301.3h0M1198.3 303.1h0M1197.6 294.2h0M1198.3 309.1h0M1198.2 304.9h0M1198.1 307.6h0M1197.8 242.0h0M1198.4 246.1h0M1198.4 237.2h0M1198.1 238.6h0M1198.5 240.8h0M1197.1 242.0h0M1196.8 244.0h0M1197.2 242.6h0M1197.5 239.8h0M1197.3 305.1h0M1197.3 262.5h0M1197.9 259.4h0M1197.2 262.5h0M1197.6 258.8h0M1198.9 267.3h0M1197.9 265.3h0M1197.4 264.0h0M1198.1 264.9h0M1197.1 265.0h0M1198.4 271.8h0M1199.0 252.9h0M1197.9 254.7h0M1198.7 258.3h0M1198.6 253.9h0M1198.0 255.0h0M1197.4 243.1h0M1198.6 344.5h0M1198.3 307.8h0M1198.8 335.9h0M1199.1 330.5h0M1199.5 329.2h0M1198.9 331.0h0M1199.5 334.1h0M1199.0 336.6h0M1198.8 333.5h0M1199.9 239.4h0M1198.8 313.7h0M1199.5 330.1h0M1198.7 277.8h0M1199.9 272.0h0M1200.5 264.8h0M1200.2 272.8h0M1200.0 259.8h0M1199.5 255.7h0M1199.2 252.9h0M1200.2 283.2h0M1200.1 289.0h0M1200.2 278.7h0M1199.1 285.6h0M1199.8 279.3h0M1199.7 248.0h0M1199.4 246.7h0M1200.1 246.1h0M1199.7 249.1h0M1199.8 243.0h0M1199.7 306.5h0M1200.6 243.2h0M1201.6 289.3h0M1200.3 294.5h0M1200.2 284.8h0M1201.4 278.5h0M1200.5 248.8h0M1200.2 256.7h0M1201.2 255.6h0M1200.4 251.4h0M1200.6 258.2h0M1200.2 276.5h0M1201.7 282.4h0M1200.9 274.6h0M1201.5 274.8h0M1201.0 280.0h0M1200.9 281.3h0M1201.0 278.3h0M1202.0 281.5h0M1202.1 278.8h0M1200.9 277.2h0M1201.5 278.4h0M1201.1 280.8h0M1200.4 277.9h0M1201.9 346.2h0M1200.7 344.2h0M1200.8 266.1h0M1201.1 269.8h0M1201.0 265.9h0M1201.0 269.2h0M1202.2 263.3h0M1202.6 266.3h0M1201.7 272.5h0M1202.1 263.5h0M1202.4 271.2h0M1201.3 271.4h0M1201.4 315.6h0M1203.0 305.5h0M1201.7 291.1h0M1202.8 290.3h0M1201.3 313.4h0M1203.1 311.3h0M1203.0 307.1h0M1202.8 312.7h0M1202.8 334.4h0M1202.7 332.7h0M1201.9 325.0h0M1202.9 241.1h0M1203.0 243.6h0M1202.4 287.8h0M1203.6 286.7h0M1202.9 283.2h0M1203.2 287.0h0M1202.2 284.7h0M1203.3 274.2h0M1202.5 273.6h0M1202.4 274.9h0M1203.2 267.9h0M1203.0 262.1h0M1203.6 256.4h0M1202.6 340.0h0M1204.2 343.0h0M1204.3 304.4h0M1203.9 307.5h0M1202.9 310.7h0M1204.4 310.3h0M1204.3 313.1h0M1204.5 316.2h0M1202.7 319.8h0M1202.9 342.6h0M1203.2 339.9h0M1203.2 242.6h0M1204.0 277.0h0M1204.7 288.8h0M1204.2 277.3h0M1203.2 287.6h0M1203.4 280.2h0M1205.0 285.3h0M1204.0 283.8h0M1205.0 339.0h0M1203.6 339.3h0M1204.6 244.6h0M1204.2 341.9h0M1204.6 326.6h0M1205.4 327.0h0M1204.6 325.2h0M1205.7 335.2h0M1204.2 333.1h0M1205.0 327.3h0M1205.6 271.3h0M1205.6 279.4h0M1205.0 269.6h0M1204.6 278.1h0M1205.9 274.8h0M1206.0 275.8h0M1204.8 269.6h0M1205.0 269.9h0M1205.2 317.7h0M1205.6 315.8h0M1205.5 264.6h0M1204.9 272.4h0M1205.2 281.9h0M1204.8 272.1h0M1205.5 265.3h0M1205.9 271.7h0M1205.4 267.9h0M1206.4 313.9h0M1206.1 303.0h0M1206.4 299.4h0M1205.4 308.7h0M1205.3 306.9h0M1205.7 302.6h0M1206.6 315.9h0M1205.2 309.8h0M1204.7 307.1h0M1205.0 301.9h0M1205.9 312.5h0M1206.2 309.7h0M1206.4 307.0h0M1204.9 247.9h0M1205.9 247.9h0M1205.8 307.1h0M1206.4 326.4h0M1207.2 337.7h0M1206.3 328.3h0M1206.1 316.3h0M1207.2 327.9h0M1205.6 259.3h0M1206.8 251.9h0M1205.9 250.7h0M1206.6 261.9h0M1207.0 296.3h0M1205.7 302.8h0M1206.5 299.5h0M1207.2 303.5h0M1206.5 287.9h0M1206.0 298.9h0M1206.2 293.1h0M1206.3 309.7h0M1206.2 315.2h0M1206.5 272.2h0M1207.1 270.7h0M1207.3 276.1h0M1206.3 265.8h0M1206.9 269.8h0M1207.2 289.4h0M1207.1 291.4h0M1207.7 294.9h0M1207.6 299.9h0M1207.8 292.8h0M1208.1 289.4h0M1206.9 288.2h0M1207.4 302.2h0M1207.5 282.4h0M1206.9 296.1h0M1207.8 294.4h0M1207.9 291.1h0M1206.3 295.0h0M1206.2 286.9h0M1208.1 293.9h0M1206.5 300.1h0M1206.4 289.6h0M1206.8 317.6h0M1206.5 319.9h0M1207.3 313.6h0M1206.9 311.2h0M1206.6 317.7h0M1207.2 316.7h0M1207.9 310.8h0M1207.4 317.8h0M1207.4 312.6h0M1206.9 315.6h0M1206.6 302.3h0M1208.3 258.3h0M1208.7 261.9h0M1208.0 305.1h0M1208.9 310.5h0M1208.1 303.9h0M1208.7 316.1h0M1208.5 315.0h0M1208.7 314.3h0M1208.5 312.8h0M1208.8 254.6h0M1209.0 337.2h0M1208.7 302.9h0M1207.8 308.7h0M1207.9 307.2h0M1209.0 316.2h0M1208.1 317.6h0M1209.6 315.3h0M1207.8 259.2h0M1209.2 341.3h0M1208.0 343.1h0M1207.9 343.6h0M1208.9 259.4h0M1208.0 343.6h0M1209.1 306.3h0M1208.5 321.0h0M1208.9 311.9h0M1209.4 311.4h0M1209.1 313.0h0M1208.8 311.3h0M1208.2 315.9h0M1209.4 312.5h0M1210.0 333.5h0M1208.4 336.8h0M1209.2 333.0h0M1208.0 328.2h0M1209.5 325.2h0M1210.0 276.9h0M1208.4 271.7h0M1209.8 272.0h0M1209.2 269.9h0M1210.4 268.4h0M1209.3 263.5h0M1210.0 265.4h0M1209.7 264.1h0M1209.6 264.4h0M1210.6 325.9h0M1209.2 331.0h0M1209.7 331.5h0M1210.0 276.5h0M1209.8 283.7h0M1210.7 298.5h0M1210.1 339.0h0M1211.0 323.9h0M1210.9 324.9h0M1210.7 323.0h0M1209.7 321.9h0M1209.8 321.3h0M1210.9 322.3h0M1211.4 318.9h0M1211.0 325.0h0M1210.0 326.9h0M1211.1 345.5h0M1209.9 335.4h0M1209.9 334.6h0M1211.0 326.3h0M1210.2 267.5h0M1210.4 265.4h0M1210.8 261.7h0M1211.6 268.2h0M1210.6 334.3h0M1211.9 335.8h0M1211.3 330.8h0M1212.1 336.3h0M1210.9 334.6h0M1212.0 266.5h0M1211.7 266.7h0M1210.4 258.3h0M1210.9 294.7h0M1211.2 297.7h0M1210.5 292.7h0M1210.8 293.6h0M1211.3 293.3h0M1212.3 327.3h0M1210.9 319.3h0M1211.5 330.5h0M1211.9 328.9h0M1211.1 324.4h0M1212.6 325.8h0M1211.5 319.9h0M1211.8 323.6h0M1211.8 319.1h0M1211.1 322.7h0M1212.5 347.1h0M1211.4 309.3h0M1212.7 347.1h0M1211.1 255.8h0M1212.6 316.4h0M1211.8 318.8h0M1212.6 315.5h0M1211.6 326.6h0M1211.5 316.7h0M1212.7 320.9h0M1211.3 321.9h0M1212.5 304.5h0M1211.4 302.7h0M1213.0 301.0h0M1213.2 307.1h0M1213.1 309.1h0M1213.0 293.2h0M1212.6 289.9h0M1212.9 292.3h0M1212.9 307.4h0M1212.3 286.5h0M1212.8 290.7h0M1211.9 271.4h0M1212.1 251.4h0M1212.9 253.1h0M1212.3 251.6h0M1212.8 311.9h0M1212.5 287.6h0M1212.8 320.4h0M1212.5 261.4h0M1211.7 252.7h0M1212.1 259.5h0M1211.8 266.3h0M1211.9 263.7h0M1212.4 332.5h0M1213.4 294.6h0M1212.5 302.1h0M1212.3 294.2h0M1212.8 295.9h0M1212.3 298.0h0M1213.3 300.9h0M1212.7 291.9h0M1213.7 298.1h0M1212.3 324.5h0M1213.3 322.3h0M1214.3 262.9h0M1213.8 257.8h0M1212.8 245.9h0M1212.9 245.6h0M1213.0 246.0h0M1213.8 260.8h0M1214.0 243.9h0M1214.5 339.2h0M1213.9 253.6h0M1213.5 312.8h0M1213.8 243.1h0M1214.5 245.0h0M1213.8 311.8h0M1212.7 299.9h0M1213.5 299.7h0M1212.9 312.9h0M1213.8 300.0h0M1212.7 300.6h0M1212.9 305.6h0M1212.9 336.1h0M1214.4 243.6h0M1214.9 251.9h0M1214.5 285.7h0M1213.5 287.9h0M1213.5 287.2h0M1214.7 282.1h0M1214.9 288.8h0M1213.9 289.4h0M1214.3 286.2h0M1215.1 286.5h0M1215.3 302.9h0M1215.2 243.7h0M1214.2 261.5h0M1215.0 346.5h0M1215.4 348.0h0M1215.3 342.1h0M1214.0 347.1h0M1214.3 349.0h0M1215.1 295.7h0M1214.3 251.6h0M1214.5 251.9h0M1214.7 255.5h0M1214.5 245.5h0M1214.8 252.7h0M1214.6 257.3h0M1216.0 253.6h0M1215.0 249.9h0M1214.5 256.7h0M1214.1 256.7h0M1215.2 247.3h0M1216.0 250.4h0M1214.7 247.7h0M1215.3 265.6h0M1216.0 254.8h0M1214.8 258.6h0M1215.5 257.9h0M1214.3 257.1h0M1215.2 254.7h0M1214.8 244.5h0M1215.9 253.5h0M1214.1 243.3h0M1215.5 240.8h0M1214.1 260.5h0M1215.7 266.2h0M1214.2 255.6h0M1214.5 284.4h0M1215.2 286.3h0M1214.7 283.0h0M1216.0 344.3h0M1216.0 344.6h0M1215.2 340.4h0M1214.9 285.8h0M1215.1 274.5h0M1215.7 291.1h0M1216.1 282.1h0M1215.2 278.3h0M1216.4 278.6h0M1216.9 335.6h0M1216.9 329.3h0M1215.0 335.4h0M1216.2 338.0h0M1215.2 327.8h0M1215.5 334.0h0M1217.0 344.4h0M1216.3 338.8h0M1216.4 338.8h0M1216.6 344.0h0M1215.9 345.1h0M1216.5 341.7h0M1216.9 340.6h0M1215.8 344.2h0M1216.6 344.2h0M1216.6 342.7h0M1216.8 330.1h0M1217.0 334.4h0M1217.5 332.6h0M1215.6 328.9h0M1215.9 325.5h0M1217.4 335.2h0M1215.8 332.5h0M1217.4 334.3h0M1217.2 333.6h0M1215.9 329.9h0M1216.5 331.6h0M1217.4 330.9h0M1217.5 330.8h0M1216.6 335.5h0M1217.0 339.7h0M1217.1 336.7h0M1216.3 337.3h0M1216.8 338.3h0M1217.0 338.2h0M1216.7 333.1h0M1216.9 335.6h0M1215.9 339.3h0M1217.2 321.0h0M1216.6 326.1h0M1216.2 326.9h0M1217.3 323.3h0M1216.3 252.7h0M1216.9 258.7h0M1218.2 247.9h0M1217.7 255.2h0M1216.4 254.7h0M1217.6 260.1h0M1216.6 256.8h0M1217.2 261.8h0M1218.0 337.0h0M1216.9 348.6h0M1217.3 347.0h0M1216.9 344.0h0M1217.1 348.2h0M1218.6 286.9h0M1218.3 297.5h0M1217.0 296.4h0M1217.4 285.3h0M1217.8 235.4h0M1217.2 306.9h0M1218.1 314.9h0M1218.8 305.5h0M1218.1 309.9h0M1217.5 318.8h0M1218.5 305.4h0M1218.0 307.3h0M1218.1 304.7h0M1219.0 305.5h0M1217.8 341.2h0M1219.1 251.0h0M1218.5 252.2h0M1219.4 256.6h0M1218.8 260.2h0M1219.5 259.5h0M1218.0 266.3h0M1219.2 268.4h0M1219.1 262.8h0M1218.5 269.2h0M1218.6 270.2h0M1218.7 260.6h0M1218.6 262.0h0M1217.8 265.9h0M1219.5 258.4h0M1218.6 259.6h0M1218.2 265.8h0M1218.1 273.9h0M1219.7 264.7h0M1217.9 263.2h0M1218.8 262.5h0M1218.6 260.4h0M1218.9 264.7h0M1219.0 244.8h0M1218.4 247.7h0M1219.3 244.8h0M1218.4 248.4h0M1219.0 284.8h0M1219.1 291.5h0M1218.5 283.5h0M1219.3 288.0h0M1218.9 240.1h0M1218.5 336.3h0M1219.2 351.9h0M1220.0 350.3h0M1219.0 348.2h0M1219.0 326.9h0M1219.6 334.9h0M1219.3 348.4h0M1218.7 340.0h0M1219.4 341.9h0M1220.2 344.1h0M1219.2 343.4h0M1220.1 341.6h0M1220.4 342.6h0M1219.6 351.6h0M1218.8 282.1h0M1218.9 257.5h0M1219.5 236.2h0M1220.0 350.0h0M1220.0 351.2h0M1220.2 349.1h0M1220.0 345.6h0M1220.4 348.2h0M1219.2 343.8h0M1219.2 347.9h0M1219.2 341.1h0M1220.4 273.1h0M1220.6 270.1h0M1221.3 269.4h0M1219.9 271.5h0M1219.7 323.0h0M1221.3 316.5h0M1221.2 321.4h0M1221.1 319.0h0M1220.2 326.1h0M1219.9 323.6h0M1221.6 312.9h0M1220.0 323.0h0M1220.0 323.7h0M1221.3 323.8h0M1220.5 330.9h0M1221.3 272.8h0M1220.1 275.6h0M1221.7 238.2h0M1222.1 256.1h0M1221.1 245.4h0M1220.3 248.5h0M1221.2 250.7h0M1220.6 254.1h0M1221.1 251.2h0M1221.9 247.7h0M1221.0 246.0h0M1220.8 309.4h0M1220.8 300.7h0M1222.4 310.7h0M1221.7 248.4h0M1222.6 252.7h0M1221.0 249.8h0M1222.1 250.4h0M1222.6 249.6h0M1221.3 252.8h0M1222.3 251.1h0M1221.7 250.5h0M1221.7 247.4h0M1222.4 243.4h0M1221.4 257.1h0M1222.8 266.5h0M1222.5 249.7h0M1221.2 253.4h0M1221.8 256.2h0M1222.7 262.3h0M1223.0 334.7h0M1222.9 332.5h0M1222.5 333.6h0M1221.3 330.1h0M1222.4 335.7h0M1221.8 278.9h0M1222.6 345.4h0M1222.2 351.4h0M1222.6 343.0h0M1221.5 343.1h0M1222.8 282.2h0M1223.3 284.7h0M1223.3 294.5h0M1221.9 285.4h0M1223.3 285.5h0M1222.0 289.9h0M1222.5 283.3h0M1222.2 251.3h0M1223.0 311.6h0M1223.3 308.1h0M1222.9 317.8h0M1223.1 309.8h0M1222.1 313.4h0M1222.4 246.2h0M1222.7 249.6h0M1224.1 250.2h0M1223.5 244.3h0M1224.0 331.1h0M1223.0 322.9h0M1223.9 326.6h0M1224.0 344.1h0M1224.5 317.1h0M1223.7 325.2h0M1223.0 329.1h0M1223.6 323.6h0M1224.9 319.7h0M1224.9 326.4h0M1224.6 267.2h0M1224.0 257.4h0M1224.3 318.7h0M1224.5 344.8h0M1224.8 343.7h0M1224.1 246.4h0M1223.9 245.8h0M1225.4 310.9h0M1224.3 251.4h0M1225.5 250.1h0M1225.4 248.7h0M1225.3 245.3h0M1224.2 241.7h0M1225.2 333.1h0M1224.2 338.2h0M1224.9 333.8h0M1224.9 322.6h0M1225.3 327.9h0M1224.0 326.5h0M1224.1 331.3h0M1224.7 329.9h0M1225.8 336.3h0M1225.6 326.0h0M1225.6 293.7h0M1224.7 297.3h0M1225.4 297.7h0M1225.4 287.3h0M1226.1 304.7h0M1225.5 303.8h0M1224.6 300.5h0M1225.6 307.9h0M1225.8 312.3h0M1224.7 297.0h0M1225.9 325.1h0M1225.7 309.1h0M1225.3 313.0h0M1226.1 305.5h0M1225.1 299.6h0M1224.7 306.4h0M1224.7 302.9h0M1225.3 310.0h0M1226.4 310.1h0M1224.9 298.3h0M1225.0 308.9h0M1224.8 263.1h0M1224.7 265.7h0M1225.4 269.3h0M1226.8 268.0h0M1226.5 316.1h0M1225.8 319.7h0M1225.6 313.4h0M1225.8 315.0h0M1227.1 280.7h0M1225.5 271.9h0M1225.2 274.4h0M1226.6 277.3h0M1226.7 276.6h0M1225.8 274.6h0M1226.0 280.0h0M1226.5 278.2h0M1225.6 283.3h0M1225.6 275.9h0M1226.5 274.3h0M1225.9 276.4h0M1226.9 272.3h0M1226.8 274.9h0M1225.4 250.1h0M1225.6 272.2h0M1225.7 251.5h0M1227.0 316.1h0M1226.5 255.5h0M1225.7 255.0h0M1226.0 257.9h0M1227.5 255.4h0M1226.7 255.9h0M1226.3 258.6h0M1226.0 257.9h0M1226.9 280.0h0M1227.1 279.5h0M1225.9 278.8h0M1226.1 285.6h0M1227.4 280.6h0M1227.1 311.7h0M1227.8 308.8h0M1227.0 309.6h0M1227.3 316.1h0M1226.2 312.3h0M1227.6 268.7h0M1227.4 270.9h0M1226.9 269.4h0M1226.4 270.5h0M1227.8 272.8h0M1226.2 268.1h0M1226.7 269.8h0M1228.1 248.3h0M1228.0 256.6h0M1227.6 252.9h0M1226.8 255.1h0M1227.5 248.7h0M1226.4 261.1h0M1227.2 269.1h0M1228.1 270.2h0M1228.1 268.9h0M1228.0 266.2h0M1226.9 324.5h0M1228.2 296.0h0M1228.1 299.4h0M1228.1 342.0h0M1227.0 336.8h0M1227.2 338.4h0M1228.4 340.3h0M1228.9 342.3h0M1227.0 336.8h0M1227.8 339.1h0M1228.7 258.6h0M1228.6 259.0h0M1228.4 258.6h0M1227.3 262.3h0M1228.5 256.6h0M1228.5 259.7h0M1228.0 262.2h0M1227.8 258.3h0M1227.8 255.8h0M1227.4 260.5h0M1228.3 331.8h0M1227.6 340.9h0M1227.8 312.2h0M1229.2 335.9h0M1227.7 299.2h0M1228.7 332.6h0M1228.9 298.5h0M1228.2 330.2h0M1228.5 333.6h0M1227.5 334.6h0M1228.0 245.4h0M1227.7 298.8h0M1228.2 341.8h0M1228.4 331.3h0M1228.2 338.0h0M1229.5 336.8h0M1229.0 342.1h0M1228.4 305.5h0M1228.3 301.2h0M1229.6 303.0h0M1229.3 297.9h0M1228.8 295.4h0M1228.2 283.1h0M1229.0 295.5h0M1228.7 286.7h0M1229.8 288.3h0M1229.9 294.8h0M1229.1 295.3h0M1228.4 292.2h0M1228.4 296.8h0M1228.8 298.0h0M1229.2 301.0h0M1229.0 282.7h0M1228.9 262.1h0M1229.6 265.6h0M1229.3 268.2h0M1228.4 268.5h0M1229.7 246.2h0M1229.4 249.8h0M1229.8 252.4h0M1229.0 249.9h0M1229.0 243.6h0M1230.3 249.5h0M1230.3 247.4h0M1229.2 249.3h0M1229.1 324.8h0M1229.0 323.5h0M1228.8 325.6h0M1229.4 318.6h0M1229.7 324.4h0M1229.1 329.0h0M1230.4 329.5h0M1229.0 330.4h0M1229.3 327.5h0M1229.8 325.7h0M1230.3 318.0h0M1230.7 243.0h0M1229.4 246.1h0M1229.3 241.3h0M1229.1 243.1h0M1230.9 239.6h0M1230.1 279.6h0M1230.0 275.5h0M1230.2 281.5h0M1229.4 320.2h0M1229.8 322.8h0M1230.4 237.1h0M1231.0 285.1h0M1230.0 283.6h0M1230.2 244.4h0M1231.3 254.8h0M1231.3 256.1h0M1231.7 261.0h0M1231.4 264.6h0M1230.5 259.7h0M1230.4 265.6h0M1231.3 270.8h0M1231.4 265.1h0M1231.8 279.2h0M1230.7 300.5h0M1230.7 300.1h0M1231.5 294.7h0M1231.4 303.5h0M1232.1 299.2h0M1231.8 307.9h0M1231.1 302.6h0M1230.9 301.0h0M1231.5 301.9h0M1230.5 257.7h0M1232.3 262.4h0M1231.1 272.2h0M1232.1 281.7h0M1231.2 284.7h0M1231.1 289.1h0M1231.3 311.4h0M1231.1 309.4h0M1232.1 315.3h0M1231.5 322.4h0M1232.2 317.2h0M1232.2 290.7h0M1232.6 280.2h0M1232.8 281.7h0M1232.3 283.3h0M1232.5 281.4h0M1232.1 277.8h0M1231.8 284.5h0M1232.2 288.5h0M1231.7 286.4h0M1232.1 306.9h0M1232.5 301.0h0M1232.4 307.6h0M1233.1 310.2h0M1232.6 306.2h0M1232.5 302.4h0M1232.0 306.4h0M1232.1 304.4h0M1231.8 303.9h0M1231.5 255.5h0M1233.0 260.0h0M1233.0 263.4h0M1232.8 258.7h0M1233.6 338.4h0M1232.6 337.0h0M1233.3 339.4h0M1232.1 336.3h0M1233.0 305.1h0M1233.6 233.8h0M1231.8 313.3h0M1231.7 336.2h0M1232.0 263.1h0M1233.5 255.1h0M1232.7 291.0h0M1232.2 302.5h0M1232.5 297.5h0M1232.7 305.6h0M1233.0 261.9h0M1233.2 320.3h0M1233.9 333.7h0M1233.5 323.3h0M1233.7 316.8h0M1232.6 328.3h0M1232.3 314.1h0M1233.4 328.2h0M1232.5 328.3h0M1233.5 318.9h0M1233.0 323.9h0M1232.4 327.0h0M1234.0 329.9h0M1232.6 330.9h0M1234.1 295.4h0M1232.3 328.6h0M1234.1 329.4h0M1234.0 336.1h0M1233.2 250.9h0M1232.8 241.3h0M1232.7 247.4h0M1233.7 248.3h0M1234.5 262.1h0M1233.2 243.3h0M1232.9 238.9h0M1233.4 308.3h0M1233.5 307.9h0M1233.9 309.8h0M1234.8 316.2h0M1233.9 264.3h0M1234.1 265.2h0M1234.4 265.9h0M1233.5 261.5h0M1235.0 258.7h0M1235.2 265.3h0M1233.9 265.2h0M1234.2 264.4h0M1234.9 259.5h0M1234.7 258.3h0M1234.9 262.8h0M1234.1 262.7h0M1234.7 260.5h0M1234.1 252.8h0M1234.5 267.4h0M1234.6 249.7h0M1233.4 263.0h0M1234.3 268.6h0M1234.8 276.2h0M1235.1 263.9h0M1233.5 270.4h0M1233.8 272.3h0M1234.4 278.3h0M1234.4 269.9h0M1234.5 267.6h0M1235.4 275.4h0M1233.6 280.0h0M1235.0 273.6h0M1233.9 279.1h0M1235.2 271.3h0M1234.4 246.6h0M1235.0 248.6h0M1234.1 245.3h0M1235.8 269.3h0M1235.2 280.3h0M1233.9 271.4h0M1234.4 273.1h0M1235.6 279.6h0M1234.8 276.5h0M1235.2 281.0h0M1235.4 292.1h0M1234.5 285.8h0M1235.6 300.6h0M1235.2 293.0h0M1235.6 288.1h0M1234.7 299.7h0M1235.3 300.4h0M1235.3 295.7h0M1234.3 298.8h0M1235.1 298.9h0M1235.3 299.5h0M1235.3 283.6h0M1236.1 301.1h0M1236.1 301.2h0M1235.5 300.1h0M1234.9 307.4h0M1234.5 303.5h0M1235.6 304.7h0M1234.9 300.1h0M1234.7 299.1h0M1235.9 300.2h0M1235.9 295.0h0M1235.6 300.9h0M1234.8 299.4h0M1235.5 282.5h0M1234.9 279.8h0M1234.8 293.0h0M1236.0 286.9h0M1235.2 276.3h0M1235.4 315.2h0M1236.3 301.1h0M1234.9 317.7h0M1235.1 319.6h0M1236.2 308.4h0M1235.0 327.1h0M1236.2 328.0h0M1235.9 324.4h0M1235.2 330.8h0M1236.8 328.6h0M1236.8 327.6h0M1235.4 247.2h0M1236.4 254.9h0M1235.2 253.1h0M1235.1 253.0h0M1236.8 312.4h0M1236.4 335.7h0M1235.9 240.6h0M1237.2 243.0h0M1237.2 243.3h0M1237.5 240.0h0M1236.2 253.7h0M1236.8 253.5h0M1236.2 253.6h0M1237.0 252.9h0M1237.4 259.1h0M1236.8 256.3h0M1235.8 254.5h0M1237.7 254.7h0M1237.3 256.4h0M1236.3 253.8h0M1236.4 254.4h0M1235.9 250.9h0M1237.2 255.2h0M1236.5 257.7h0M1236.8 257.6h0M1237.7 251.1h0M1236.8 257.4h0M1236.5 252.6h0M1236.4 255.6h0M1235.8 259.4h0M1236.4 256.9h0M1237.5 312.5h0M1237.7 309.5h0M1236.4 309.6h0M1236.6 334.0h0M1236.8 330.4h0M1236.9 333.2h0M1237.3 331.4h0M1238.0 324.4h0M1237.3 324.2h0M1237.6 332.0h0M1237.5 318.7h0M1237.9 329.2h0M1236.4 326.6h0M1237.1 321.8h0M1238.0 332.9h0M1237.6 321.7h0M1237.5 319.4h0M1238.0 325.8h0M1238.1 331.1h0M1238.4 275.2h0M1238.3 269.7h0M1237.9 278.8h0M1238.1 271.8h0M1238.5 296.1h0M1238.4 292.5h0M1236.8 289.2h0M1237.6 293.2h0M1237.9 283.9h0M1238.7 235.5h0M1237.1 236.1h0M1237.0 241.2h0M1238.4 238.7h0M1237.5 311.4h0M1237.4 314.9h0M1239.1 258.5h0M1237.9 319.2h0M1237.4 322.4h0M1237.5 315.8h0M1238.0 322.5h0M1237.8 260.8h0M1238.4 257.2h0M1239.0 228.5h0M1238.2 301.4h0M1239.4 295.3h0M1238.4 301.0h0M1238.1 302.0h0M1238.6 307.1h0M1239.6 303.6h0M1238.2 227.3h0M1238.5 288.3h0M1238.6 283.6h0M1239.6 225.9h0M1239.5 220.5h0M1239.4 226.1h0M1239.2 226.6h0M1238.4 318.2h0M1239.7 329.4h0M1240.0 266.4h0M1238.9 260.9h0M1240.2 261.8h0M1238.9 257.9h0M1239.5 263.6h0M1240.1 264.3h0M1238.6 262.1h0M1239.0 262.0h0M1239.2 260.6h0M1239.5 266.5h0M1239.0 264.2h0M1238.8 233.2h0M1240.3 232.0h0M1239.7 234.5h0M1239.8 230.6h0M1239.7 238.8h0M1239.7 242.6h0M1239.6 237.9h0M1239.5 262.9h0M1239.5 229.8h0M1240.9 234.2h0M1240.1 229.5h0M1241.0 279.1h0M1240.2 273.9h0M1239.6 277.5h0M1239.9 277.9h0M1240.6 279.3h0M1239.8 274.7h0M1239.5 324.2h0M1241.3 340.9h0M1240.8 336.9h0M1241.1 335.7h0M1241.0 335.0h0M1241.5 335.2h0M1240.3 338.7h0M1239.6 338.3h0M1240.3 338.8h0M1240.7 333.3h0M1240.1 338.1h0M1240.7 330.5h0M1240.2 301.4h0M1240.5 329.5h0M1241.0 332.6h0M1240.3 279.3h0M1241.4 268.4h0M1240.0 278.4h0M1241.8 274.1h0M1241.2 273.8h0M1241.1 280.6h0M1241.0 277.5h0M1241.1 280.7h0M1240.1 267.3h0M1241.5 231.8h0M1242.1 244.4h0M1241.2 243.6h0M1240.4 234.4h0M1242.0 241.0h0M1242.0 225.8h0M1241.5 236.9h0M1241.4 265.7h0M1241.5 224.7h0M1242.7 245.9h0M1242.7 234.0h0M1241.5 233.9h0M1241.1 239.9h0M1242.2 238.9h0M1242.7 235.8h0M1241.9 239.2h0M1241.4 238.8h0M1242.2 246.4h0M1242.2 231.5h0M1242.1 239.0h0M1241.8 227.9h0M1242.3 257.3h0M1241.7 250.0h0M1241.8 253.6h0M1242.3 255.7h0M1241.7 247.4h0M1243.1 299.2h0M1242.4 302.2h0M1242.3 300.1h0M1243.1 332.2h0M1241.3 337.7h0M1241.9 336.3h0M1242.5 330.1h0M1241.8 323.6h0M1242.6 333.9h0M1243.3 281.8h0M1242.6 296.6h0M1243.5 284.6h0M1243.3 296.4h0M1243.1 289.6h0M1242.8 288.2h0M1243.5 338.8h0M1243.1 297.8h0M1241.8 334.5h0M1242.4 315.6h0M1242.2 282.8h0M1243.1 323.4h0M1241.8 250.5h0M1243.1 247.4h0M1242.1 240.7h0M1242.1 239.8h0M1242.5 242.8h0M1242.4 244.5h0M1243.8 260.8h0M1242.9 258.3h0M1242.2 259.5h0M1243.4 223.3h0M1242.4 280.1h0M1244.2 284.1h0M1242.6 288.0h0M1243.4 279.0h0M1242.8 286.5h0M1243.3 289.3h0M1243.6 242.6h0M1243.1 247.2h0M1243.2 243.4h0M1242.9 242.8h0M1244.6 328.7h0M1244.0 239.1h0M1243.6 243.9h0M1243.6 240.7h0M1243.7 232.5h0M1243.5 234.6h0M1243.6 232.5h0M1243.4 226.9h0M1243.7 229.7h0M1243.5 236.5h0M1244.2 234.9h0M1243.4 228.9h0M1244.9 238.4h0M1245.0 230.9h0M1243.2 232.9h0M1243.2 230.7h0M1244.7 235.4h0M1244.4 225.0h0M1245.1 232.5h0M1245.6 290.0h0M1245.0 290.3h0M1245.4 286.9h0M1244.3 290.3h0M1244.0 287.0h0M1244.7 274.1h0M1244.7 289.7h0M1244.3 278.3h0M1244.4 287.5h0M1244.6 290.6h0M1245.7 260.1h0M1245.5 256.3h0M1244.6 279.3h0M1244.9 271.5h0M1246.2 316.1h0M1246.5 316.4h0M1246.4 315.4h0M1246.6 327.2h0M1244.7 316.6h0M1246.1 322.3h0M1246.4 302.8h0M1245.4 223.1h0M1246.2 284.6h0M1246.2 274.3h0M1245.1 303.9h0M1245.6 304.2h0M1245.3 299.3h0M1245.2 294.9h0M1245.7 296.5h0M1246.6 300.1h0M1245.3 301.5h0M1245.7 269.9h0M1246.4 260.4h0M1247.0 264.1h0M1247.1 265.4h0M1245.5 274.4h0M1246.7 279.7h0M1246.9 324.6h0M1247.1 324.7h0M1245.7 333.5h0M1247.0 320.6h0M1247.2 317.6h0M1247.0 315.2h0M1247.1 315.2h0M1246.7 287.6h0M1246.0 290.5h0M1247.1 289.1h0M1246.8 289.7h0M1246.6 290.0h0M1247.8 285.3h0M1247.2 282.9h0M1246.2 279.9h0M1247.6 288.1h0M1247.1 287.8h0M1247.6 235.6h0M1247.4 224.8h0M1247.2 239.9h0M1246.6 227.1h0M1246.6 300.4h0M1248.1 293.4h0M1247.6 290.7h0M1248.2 255.6h0M1247.6 263.6h0M1247.2 263.2h0M1248.2 255.7h0M1246.7 250.1h0M1247.4 259.2h0M1247.4 254.2h0M1248.3 274.8h0M1247.2 267.3h0M1247.8 268.2h0M1248.4 273.3h0M1248.3 273.0h0M1247.8 274.6h0M1248.3 272.1h0M1248.3 274.8h0M1248.0 285.7h0M1247.8 303.5h0M1247.1 285.5h0M1247.9 292.1h0M1247.2 290.6h0M1247.6 290.8h0M1248.1 293.8h0M1247.8 224.8h0M1247.7 229.3h0M1248.3 234.6h0M1247.6 276.0h0M1248.3 271.3h0M1248.9 278.9h0M1248.5 281.2h0M1248.4 278.5h0M1248.6 270.8h0M1249.4 282.7h0M1247.8 282.0h0M1248.7 281.3h0M1249.4 263.5h0M1248.3 276.5h0M1248.5 275.7h0M1249.0 263.8h0M1248.0 272.9h0M1248.7 230.6h0M1249.6 264.7h0M1248.2 234.3h0M1249.2 231.3h0M1248.6 237.3h0M1249.8 231.7h0M1248.0 228.2h0M1247.9 232.7h0M1248.0 232.9h0M1248.7 228.4h0M1248.9 233.9h0M1249.7 226.5h0M1249.7 230.5h0M1249.1 227.9h0M1248.8 243.8h0M1250.2 243.2h0M1248.7 245.6h0M1248.7 235.6h0M1249.3 244.3h0M1248.5 252.9h0M1249.0 246.9h0M1250.0 246.3h0M1248.4 245.0h0M1249.8 237.0h0M1250.2 314.5h0M1248.8 303.7h0M1248.9 261.0h0M1250.0 326.9h0M1249.0 327.3h0M1249.6 231.8h0M1250.4 260.3h0M1249.2 327.3h0M1249.7 324.9h0M1249.5 326.7h0M1248.8 264.8h0M1249.5 325.6h0M1249.7 328.9h0M1250.2 326.9h0M1250.4 326.5h0M1249.1 315.3h0M1248.9 326.6h0M1250.3 326.3h0M1250.2 295.3h0M1249.2 256.3h0M1249.5 290.7h0M1250.2 295.1h0M1249.6 298.5h0M1250.1 294.1h0M1250.8 293.5h0M1250.2 294.4h0M1249.9 247.7h0M1249.9 246.6h0M1250.6 250.9h0M1249.4 265.8h0M1250.9 263.0h0M1250.8 263.1h0M1251.3 279.7h0M1250.8 222.2h0M1249.7 230.7h0M1251.5 318.9h0M1251.9 250.8h0M1252.0 248.9h0M1250.8 254.4h0M1250.5 292.5h0M1251.4 286.6h0M1250.8 286.2h0M1252.0 309.7h0M1252.3 298.8h0M1252.3 307.8h0M1250.7 305.8h0M1250.5 311.2h0M1251.4 315.1h0M1251.4 309.2h0M1251.5 306.3h0M1250.7 303.1h0M1252.1 310.5h0M1250.7 301.7h0M1252.3 304.4h0M1251.1 304.7h0M1251.9 304.8h0M1251.1 303.5h0M1252.0 305.6h0M1251.5 253.6h0M1251.3 250.3h0M1251.6 246.9h0M1250.8 253.5h0M1252.3 239.7h0M1251.2 279.5h0M1251.6 260.4h0M1251.2 245.0h0M1253.0 295.9h0M1252.5 311.7h0M1251.7 249.1h0M1252.6 237.7h0M1252.9 237.9h0M1252.5 245.1h0M1253.7 312.9h0M1251.9 309.7h0M1252.6 314.2h0M1252.2 311.8h0M1252.6 275.5h0M1252.0 285.8h0M1252.3 280.3h0M1252.5 268.7h0M1252.5 234.4h0M1253.9 230.6h0M1253.6 230.9h0M1253.5 237.5h0M1252.1 236.2h0M1252.1 243.5h0M1252.2 231.7h0M1253.4 233.6h0M1253.0 289.3h0M1253.8 287.0h0M1254.1 284.1h0M1254.1 266.3h0M1253.2 269.1h0M1252.6 267.6h0M1254.3 269.9h0M1254.3 270.8h0M1253.9 269.0h0M1254.2 273.2h0M1254.2 272.4h0M1253.2 271.1h0M1253.8 273.5h0M1253.6 271.5h0M1253.1 266.3h0M1253.9 271.4h0M1253.6 266.6h0M1252.5 262.5h0M1252.6 271.0h0M1253.3 266.2h0M1253.1 264.7h0M1254.3 267.5h0M1254.2 267.4h0M1253.0 273.0h0M1252.8 266.1h0M1253.1 257.0h0M1253.0 269.2h0M1253.9 291.4h0M1254.2 294.3h0M1253.7 278.0h0M1254.3 283.3h0M1253.7 279.0h0M1254.1 281.1h0M1254.8 273.0h0M1253.9 277.8h0M1254.8 283.6h0M1254.6 277.8h0M1255.2 231.9h0M1254.8 250.5h0M1255.0 307.6h0M1254.9 306.8h0M1255.6 297.1h0M1255.6 302.9h0M1255.2 303.6h0M1254.5 305.1h0M1255.1 245.6h0M1254.3 249.0h0M1254.0 256.2h0M1254.4 255.6h0M1254.1 256.1h0M1255.2 248.1h0M1253.8 248.9h0M1254.1 250.9h0M1254.4 240.1h0M1254.0 245.8h0M1255.0 247.0h0M1255.4 257.1h0M1254.3 253.4h0M1255.0 267.8h0M1254.9 259.6h0M1254.7 264.5h0M1255.0 263.1h0M1255.1 261.1h0M1256.0 290.0h0M1255.4 298.9h0M1256.1 289.5h0M1254.5 289.5h0M1255.1 302.5h0M1254.6 293.4h0M1254.5 292.3h0M1255.2 299.9h0M1256.2 265.9h0M1255.9 270.3h0M1255.9 261.0h0M1255.7 261.0h0M1254.8 292.7h0M1256.5 291.9h0M1256.2 296.9h0M1256.3 288.3h0M1255.5 293.9h0M1255.4 286.6h0M1255.1 294.0h0M1255.5 289.8h0M1254.9 292.2h0M1255.9 295.0h0M1255.9 293.9h0M1255.3 298.0h0M1255.2 293.2h0M1254.9 294.5h0M1255.8 286.7h0M1255.9 289.0h0M1255.6 295.3h0M1256.2 292.2h0M1255.1 293.1h0M1256.0 297.7h0M1256.5 292.9h0M1255.5 289.0h0M1254.9 289.1h0M1256.2 252.3h0M1255.0 254.3h0M1256.8 255.1h0M1256.8 254.5h0M1255.0 251.1h0M1257.0 285.9h0M1256.1 296.9h0M1256.3 295.5h0M1256.1 296.0h0M1255.9 302.7h0M1256.4 268.3h0M1257.6 259.8h0M1256.4 266.4h0M1257.5 276.3h0M1257.7 270.8h0M1255.9 271.2h0M1257.2 272.2h0M1257.1 272.4h0M1257.8 267.4h0M1256.6 256.1h0M1257.3 268.7h0M1258.4 259.9h0M1257.2 265.0h0M1258.5 267.4h0M1257.6 259.9h0M1258.0 263.7h0M1258.4 270.6h0M1257.1 274.8h0M1258.7 275.6h0M1257.6 235.9h0M1257.8 229.4h0M1258.4 266.2h0M1258.3 294.5h0M1257.5 229.2h0M1258.1 263.2h0M1259.0 230.5h0M1258.7 231.7h0M1257.5 273.7h0M1257.9 265.0h0M1258.8 275.3h0M1259.3 278.8h0M1258.0 269.6h0M1258.0 272.6h0M1258.7 272.7h0M1258.4 266.8h0M1259.4 234.2h0M1258.2 243.7h0M1259.3 252.1h0M1259.5 245.4h0M1258.3 248.9h0M1259.0 239.2h0M1258.9 269.1h0M1259.5 276.9h0M1258.9 270.9h0M1259.6 277.1h0M1259.2 272.0h0M1258.5 274.7h0M1258.9 277.8h0M1258.9 273.5h0M1259.1 269.1h0M1258.3 277.0h0M1258.3 273.9h0M1259.1 284.4h0M1259.3 280.4h0M1259.7 283.3h0M1259.7 274.9h0M1259.9 282.7h0M1259.5 283.8h0M1259.8 281.3h0M1258.9 281.2h0M1259.4 282.5h0M1259.7 274.7h0M1258.7 280.6h0M1259.6 283.5h0M1259.3 272.9h0M1258.9 274.2h0M1260.1 285.9h0M1259.8 283.5h0M1259.5 297.5h0M1258.6 292.9h0M1258.5 300.2h0M1259.9 287.7h0M1259.3 296.5h0M1259.5 295.3h0M1259.5 295.4h0M1259.7 231.1h0M1260.0 231.4h0M1259.6 235.6h0M1259.1 231.6h0M1259.1 230.6h0M1259.9 234.4h0M1259.7 234.0h0M1260.1 229.8h0M1260.7 290.6h0M1259.6 279.3h0M1260.8 287.1h0M1260.6 281.8h0M1261.1 266.3h0M1261.0 276.7h0M1261.0 273.7h0M1259.7 279.1h0M1260.7 275.8h0M1260.5 274.4h0M1260.3 299.5h0M1259.4 297.0h0M1260.4 296.7h0M1261.1 295.5h0M1259.7 301.1h0M1261.1 297.7h0M1259.7 298.3h0M1259.7 294.3h0M1259.9 299.6h0M1260.0 296.5h0M1260.9 290.1h0M1259.7 293.9h0M1260.8 259.6h0M1260.6 251.6h0M1260.1 252.8h0M1259.8 263.1h0M1259.6 245.2h0M1261.0 256.4h0M1260.2 255.2h0M1259.5 244.8h0M1260.7 251.6h0M1261.1 256.8h0M1260.5 301.8h0M1260.5 293.3h0M1260.9 280.6h0M1260.8 300.0h0M1261.4 250.5h0M1260.4 259.0h0M1260.1 251.7h0M1261.4 250.2h0M1261.8 241.2h0M1260.6 258.4h0M1260.8 264.1h0M1260.4 266.1h0M1260.5 254.1h0M1261.3 272.3h0M1261.5 268.2h0M1261.3 275.8h0M1260.8 276.4h0M1261.6 296.7h0M1261.4 294.0h0M1261.5 260.6h0M1260.7 295.9h0M1260.7 291.7h0M1261.5 295.9h0M1262.5 294.5h0M1261.4 295.7h0M1261.5 294.1h0M1261.5 295.4h0M1262.6 271.9h0M1261.1 261.0h0M1262.5 299.4h0M1261.4 288.9h0M1262.7 298.5h0M1261.4 282.4h0M1261.7 289.7h0M1262.2 298.8h0M1262.4 295.4h0M1262.5 288.6h0M1261.6 287.0h0M1262.6 298.9h0M1262.7 295.0h0M1263.1 288.5h0M1262.9 285.0h0M1262.0 294.1h0M1261.8 294.7h0M1261.9 297.5h0M1262.4 268.2h0M1262.4 263.5h0M1263.6 274.6h0M1263.0 263.7h0M1262.3 274.4h0M1262.3 261.5h0M1261.7 263.8h0M1262.5 299.5h0M1262.8 248.6h0M1263.6 232.4h0M1263.8 231.0h0M1263.4 229.1h0M1262.4 245.0h0M1262.3 249.0h0M1262.9 244.1h0M1263.9 244.3h0M1262.4 230.2h0M1264.2 236.1h0M1263.5 224.8h0M1262.7 235.9h0M1263.8 229.3h0M1263.6 244.9h0M1262.9 230.8h0M1264.3 232.3h0M1264.3 230.2h0M1264.1 238.6h0M1263.3 233.3h0M1264.1 237.8h0M1262.6 229.1h0M1264.4 239.0h0M1263.3 268.9h0M1264.6 265.1h0M1263.7 268.7h0M1264.9 266.1h0M1263.3 264.8h0M1263.3 276.2h0M1264.4 268.2h0M1264.6 288.1h0M1264.2 274.7h0M1264.8 279.3h0M1264.0 270.5h0M1264.6 286.2h0M1264.1 273.2h0M1263.8 273.1h0M1263.8 287.5h0M1263.4 292.4h0M1264.1 287.9h0M1264.9 286.5h0M1263.9 282.0h0M1265.2 283.9h0M1265.2 277.4h0M1264.4 252.0h0M1263.8 256.1h0M1264.3 251.1h0M1264.1 254.6h0M1264.8 250.0h0M1265.3 286.4h0M1265.9 288.7h0M1264.0 293.6h0M1265.8 283.3h0M1264.1 290.1h0M1264.3 283.9h0M1264.4 223.3h0M1265.3 223.2h0M1265.6 231.1h0M1265.4 256.1h0M1266.0 258.6h0M1266.2 237.5h0M1265.7 236.8h0M1266.0 230.0h0M1266.0 230.8h0M1266.1 228.6h0M1265.8 288.6h0M1264.8 285.3h0M1265.4 286.6h0M1266.5 285.5h0M1265.4 266.9h0M1265.7 270.4h0M1265.3 268.4h0M1265.6 264.7h0M1265.0 273.2h0M1264.8 267.7h0M1266.2 266.6h0M1265.0 225.4h0M1265.0 216.9h0M1266.7 220.4h0M1266.6 221.3h0M1265.3 217.7h0M1265.5 245.5h0M1266.3 259.6h0M1267.1 258.3h0M1265.8 242.8h0M1266.3 241.4h0M1267.2 242.5h0M1265.5 244.3h0M1266.2 254.0h0M1265.5 227.1h0M1266.1 233.2h0M1267.2 290.2h0M1266.2 290.2h0M1267.0 286.9h0M1266.6 234.0h0M1266.9 253.6h0M1266.1 246.2h0M1267.2 246.5h0M1266.2 228.2h0M1266.8 219.7h0M1267.6 221.5h0M1268.0 267.7h0M1266.3 275.1h0M1267.3 279.5h0M1267.4 285.6h0M1267.8 233.8h0M1266.8 239.7h0M1266.7 234.4h0M1266.3 239.9h0M1268.2 261.6h0M1267.0 259.5h0M1266.5 268.2h0M1267.3 264.8h0M1266.9 267.0h0M1266.5 262.3h0M1266.7 265.1h0M1266.5 262.6h0M1268.4 260.2h0M1266.9 263.8h0M1268.4 272.1h0M1268.3 283.8h0M1268.2 285.2h0M1267.7 287.4h0M1268.6 272.6h0M1267.9 268.9h0M1267.9 268.5h0M1268.4 267.1h0M1267.8 285.2h0M1268.8 222.1h0M1269.5 225.8h0M1269.6 229.7h0M1268.1 220.6h0M1268.2 219.0h0M1268.8 218.8h0M1269.4 263.2h0M1269.7 261.0h0M1268.2 259.8h0M1269.4 257.1h0M1269.2 261.4h0M1269.8 264.0h0M1268.4 251.3h0M1269.5 254.6h0M1269.4 257.9h0M1269.1 258.4h0M1268.4 233.2h0M1268.6 224.2h0M1268.6 232.9h0M1270.0 225.1h0M1269.6 224.9h0M1269.0 225.0h0M1269.9 229.2h0M1269.8 218.2h0M1269.3 230.2h0M1269.8 222.7h0M1269.6 234.0h0M1270.3 241.6h0M1270.1 243.5h0M1268.9 246.5h0M1268.8 246.6h0M1270.4 241.7h0M1269.5 272.9h0M1270.2 268.9h0M1269.5 265.1h0M1269.8 253.3h0M1270.5 257.0h0M1270.2 260.2h0M1270.7 260.4h0M1271.0 263.2h0M1270.3 261.9h0M1270.8 230.5h0M1271.5 227.2h0M1270.8 227.7h0M1271.3 240.2h0M1270.0 239.0h0M1270.2 237.1h0M1270.9 219.9h0M1272.1 226.6h0M1271.3 226.0h0M1272.1 224.7h0M1271.0 222.3h0M1272.1 223.9h0M1270.8 226.1h0M1270.9 228.9h0M1270.9 216.4h0M1270.4 223.5h0M1272.0 224.8h0M1272.0 226.3h0M1271.2 224.7h0M1270.7 223.1h0M1271.9 224.2h0M1270.8 220.7h0M1271.0 225.5h0M1271.1 265.3h0M1271.4 267.6h0M1270.8 264.6h0M1271.3 270.7h0M1272.4 274.3h0M1271.8 241.6h0M1272.5 241.3h0M1272.0 243.9h0M1271.6 247.5h0M1270.7 244.5h0M1272.4 246.1h0M1271.3 226.0h0M1271.7 214.8h0M1272.6 223.8h0M1272.5 229.2h0M1272.3 226.8h0M1271.9 225.0h0M1272.2 247.0h0M1273.1 247.7h0M1272.0 255.9h0M1273.2 263.9h0M1273.0 242.5h0M1273.9 242.7h0M1273.7 239.0h0M1272.4 249.3h0M1272.9 248.3h0M1272.6 254.2h0M1273.9 249.0h0M1273.5 265.4h0M1273.2 249.8h0M1274.2 211.8h0M1273.7 214.7h0M1273.2 216.9h0M1272.7 210.8h0M1272.8 232.0h0M1273.5 260.9h0M1274.5 255.2h0M1272.8 263.5h0M1273.4 275.6h0M1273.6 264.6h0M1273.2 268.0h0M1274.4 215.1h0M1273.4 211.0h0M1274.2 274.4h0M1274.1 274.0h0M1273.4 276.7h0M1274.4 236.8h0M1274.2 255.9h0M1275.3 237.7h0M1274.1 231.6h0M1275.0 238.7h0M1275.4 254.4h0M1275.0 217.7h0M1276.5 215.1h0M1276.1 238.6h0M1276.6 237.6h0M1276.2 209.7h0M1276.1 217.9h0M1276.1 271.7h0M1275.7 270.7h0M1276.2 214.5h0M1277.0 212.7h0M1276.4 212.9h0M1276.1 213.9h0M1276.6 210.3h0M1277.1 240.8h0M1275.3 210.6h0M1275.5 208.9h0M1276.9 263.8h0M1275.9 267.3h0M1275.5 263.7h0M1276.2 264.0h0M1276.0 259.6h0M1276.2 257.1h0M1276.0 254.2h0M1277.8 267.1h0M1276.6 268.9h0M1277.4 272.3h0M1276.6 268.4h0M1278.1 234.8h0M1277.9 232.8h0M1278.4 224.3h0M1278.4 220.2h0M1277.7 233.1h0M1277.2 225.4h0M1278.2 222.5h0M1276.6 258.6h0M1278.7 226.1h0M1278.5 213.8h0M1278.4 225.3h0M1278.9 198.9h0M1278.2 207.5h0M1278.2 230.1h0M1278.0 234.9h0M1277.7 232.0h0M1277.6 222.6h0M1277.8 227.4h0M1279.5 229.6h0M1278.8 237.7h0M1278.1 235.6h0M1278.3 226.7h0M1278.0 229.2h0M1278.5 239.4h0M1279.8 272.4h0M1278.9 267.7h0M1278.2 270.6h0M1279.4 258.8h0M1279.5 262.5h0M1278.6 269.7h0M1278.7 231.1h0M1279.2 223.8h0M1279.1 229.7h0M1279.1 225.8h0M1278.5 227.2h0M1278.7 247.4h0M1279.0 249.3h0M1280.2 245.9h0M1279.5 244.1h0M1280.5 248.4h0M1279.3 247.1h0M1279.9 242.3h0M1280.0 242.0h0M1280.2 209.0h0M1280.6 208.9h0M1279.6 250.8h0M1280.6 240.2h0M1281.3 241.1h0M1280.2 235.9h0M1280.0 240.1h0M1281.0 236.7h0M1279.6 229.2h0M1279.9 231.3h0M1280.9 237.5h0M1280.3 236.7h0M1281.3 243.5h0M1281.4 203.8h0M1280.4 213.0h0M1281.4 235.1h0M1281.4 207.8h0M1279.8 217.6h0M1279.9 211.0h0M1280.8 270.4h0M1281.9 250.9h0M1281.2 265.4h0M1280.7 263.6h0M1282.2 204.9h0M1282.0 212.0h0M1280.9 249.3h0M1281.7 209.3h0M1282.2 259.0h0M1282.5 259.5h0M1282.1 255.9h0M1281.1 255.1h0M1281.5 265.5h0M1281.8 257.4h0M1282.5 261.2h0M1282.0 263.8h0M1283.1 265.3h0M1281.5 257.8h0M1283.1 248.1h0M1281.5 268.4h0M1282.6 261.6h0M1282.6 271.4h0M1282.3 267.6h0M1282.1 209.3h0M1283.4 270.4h0M1282.1 268.3h0M1282.9 224.2h0M1282.3 242.2h0M1284.0 207.5h0M1284.1 215.8h0M1283.6 219.5h0M1284.2 210.2h0M1284.7 248.7h0M1284.2 245.1h0M1282.8 247.7h0M1283.9 248.4h0M1283.3 234.1h0M1285.1 236.4h0M1283.4 254.8h0M1283.3 242.8h0M1283.5 241.7h0M1284.4 240.0h0M1285.4 258.5h0M1284.5 257.1h0M1284.1 258.9h0M1285.1 257.9h0M1284.2 259.5h0M1284.7 258.8h0M1284.0 258.8h0M1284.6 256.7h0M1283.7 259.2h0M1285.2 251.7h0M1285.1 255.9h0M1284.4 254.2h0M1284.8 261.2h0M1284.1 251.3h0M1284.1 219.7h0M1285.8 215.2h0M1284.2 209.5h0M1285.9 213.9h0M1284.7 208.1h0M1284.3 208.5h0M1285.4 203.4h0M1286.1 269.1h0M1286.0 269.1h0M1284.5 261.9h0M1285.8 269.7h0M1286.3 206.9h0M1284.6 247.3h0M1286.2 218.6h0M1285.8 232.4h0M1284.8 227.5h0M1286.3 230.3h0M1286.2 251.3h0M1286.3 243.3h0M1285.2 224.0h0M1285.0 238.6h0M1286.4 223.1h0M1285.3 204.1h0M1285.8 234.1h0M1286.1 242.6h0M1286.8 235.3h0M1285.7 238.7h0M1286.6 198.5h0M1285.8 211.8h0M1287.8 245.6h0M1287.9 247.7h0M1287.4 261.3h0M1287.7 250.7h0M1287.6 204.2h0M1288.3 201.4h0M1286.9 200.6h0M1288.1 203.9h0M1288.2 206.8h0M1287.0 215.8h0M1288.5 239.2h0M1287.6 231.3h0M1287.3 233.9h0M1288.0 239.0h0M1289.0 233.1h0M1288.2 226.3h0M1287.2 226.0h0M1288.5 228.3h0M1287.7 232.7h0M1287.9 229.5h0M1288.2 240.5h0M1288.7 236.2h0M1287.8 235.1h0M1287.8 228.8h0M1287.5 228.5h0M1288.2 218.7h0M1288.0 222.4h0M1288.2 225.6h0M1288.7 225.9h0M1288.1 222.1h0M1287.8 227.8h0M1288.8 227.2h0M1288.3 225.2h0M1288.4 260.3h0M1288.0 239.1h0M1289.3 239.0h0M1289.7 237.6h0M1288.3 238.5h0M1289.2 225.8h0M1289.6 216.6h0M1289.5 215.3h0M1289.6 203.5h0M1289.0 217.2h0M1289.8 238.2h0M1289.4 242.4h0M1290.1 230.0h0M1289.6 240.6h0M1290.3 239.4h0M1290.5 241.3h0M1290.7 208.7h0M1289.6 221.3h0M1290.8 216.3h0M1290.4 209.4h0M1291.0 192.1h0M1290.7 192.3h0M1291.1 193.1h0M1292.1 191.3h0M1291.2 228.1h0M1292.7 220.4h0M1291.8 222.6h0M1292.6 229.2h0M1290.9 223.0h0M1291.6 228.6h0M1291.3 229.0h0M1290.8 222.1h0M1292.4 228.0h0M1292.4 223.5h0M1291.6 225.4h0M1291.9 227.2h0M1292.7 227.4h0M1291.9 222.2h0M1292.7 212.0h0M1291.3 211.5h0M1291.6 215.6h0M1292.5 198.9h0M1292.4 256.1h0M1292.3 222.7h0M1292.7 244.5h0M1292.1 240.6h0M1293.4 229.3h0M1292.4 237.7h0M1293.4 194.3h0M1293.4 211.0h0M1292.9 213.3h0M1293.0 214.6h0M1293.4 222.2h0M1293.5 215.5h0M1293.7 215.4h0M1295.0 237.2h0M1294.0 237.1h0M1294.7 218.3h0M1295.3 218.2h0M1294.2 262.2h0M1295.3 261.7h0M1295.0 243.3h0M1295.3 193.5h0M1296.8 266.4h0M1296.1 265.7h0M1295.7 259.0h0M1295.1 270.9h0M1296.7 245.6h0M1296.3 235.9h0M1297.4 250.7h0M1296.9 236.7h0M1296.7 238.1h0M1296.8 246.5h0M1297.3 242.2h0M1297.3 241.8h0M1296.8 240.2h0M1296.2 269.6h0M1296.7 267.4h0M1296.9 271.0h0M1297.2 266.9h0M1297.6 271.4h0M1296.8 203.5h0M1297.1 270.7h0M1297.4 270.3h0M1297.8 270.3h0M1297.0 269.5h0M1296.3 208.7h0M1296.2 270.9h0M1297.6 269.4h0M1296.3 205.7h0M1297.9 270.4h0M1296.8 269.1h0M1297.5 218.8h0M1297.9 232.4h0M1297.8 219.4h0M1298.4 216.6h0M1298.4 270.3h0M1298.7 201.8h0M1298.5 193.8h0M1298.1 198.8h0M1299.9 202.5h0M1298.1 201.0h0M1298.5 205.6h0M1298.9 210.2h0M1298.7 219.0h0M1299.9 198.9h0M1299.0 200.6h0M1299.7 214.9h0M1300.0 205.9h0M1298.5 212.9h0M1298.8 214.4h0M1299.4 216.3h0M1299.1 220.1h0M1300.4 221.3h0M1300.0 218.8h0M1299.5 224.0h0M1299.1 227.3h0M1299.7 222.9h0M1300.3 221.0h0M1300.3 225.5h0M1300.9 246.8h0M1300.1 249.7h0M1300.6 248.8h0M1300.2 247.6h0M1299.6 245.4h0M1299.8 244.8h0M1300.6 248.0h0M1300.6 249.7h0M1300.5 247.9h0M1300.4 251.1h0M1300.8 247.8h0M1300.1 245.5h0M1300.1 250.4h0M1300.3 251.1h0M1300.0 251.4h0M1300.6 247.6h0M1299.7 248.5h0M1300.1 247.4h0M1301.3 253.7h0M1301.8 206.8h0M1301.6 203.0h0M1300.8 200.5h0M1300.9 198.5h0M1300.7 202.7h0M1300.5 205.8h0M1301.5 203.7h0M1302.1 208.9h0M1301.1 209.5h0M1302.4 213.2h0M1302.3 212.4h0M1301.7 226.7h0M1301.3 224.7h0M1301.3 223.5h0M1302.0 222.4h0M1302.6 225.2h0M1302.2 226.0h0M1300.9 224.2h0M1300.7 221.7h0M1301.4 220.7h0M1301.0 226.4h0M1301.8 222.9h0M1301.7 226.3h0M1302.3 222.8h0M1301.7 227.8h0M1301.9 194.0h0M1302.0 239.9h0M1302.0 207.5h0M1302.1 204.4h0M1301.3 203.5h0M1302.1 202.9h0M1301.4 202.9h0M1302.3 206.3h0M1302.8 197.8h0M1302.7 206.8h0M1303.0 231.9h0M1303.0 206.0h0M1301.7 202.8h0M1302.1 224.8h0M1301.7 265.5h0M1302.7 266.5h0M1304.0 232.8h0M1303.7 242.3h0M1303.9 237.6h0M1302.7 238.2h0M1303.2 254.0h0M1304.3 216.0h0M1304.0 216.7h0M1303.4 206.1h0M1303.8 202.9h0M1304.6 206.1h0M1303.9 255.4h0M1303.5 247.9h0M1304.1 250.3h0M1304.5 252.3h0M1304.4 250.5h0M1304.1 253.6h0M1303.9 255.1h0M1304.3 254.1h0M1303.7 254.2h0M1303.9 226.1h0M1305.8 229.3h0M1305.2 241.4h0M1304.1 242.4h0M1304.6 231.3h0M1306.1 225.8h0M1306.1 199.1h0M1306.3 202.6h0M1305.4 207.6h0M1306.0 205.5h0M1305.6 206.1h0M1305.4 203.8h0M1305.6 210.1h0M1304.6 201.8h0M1304.8 225.6h0M1305.1 223.6h0M1304.8 229.8h0M1306.0 237.4h0M1306.4 208.6h0M1305.5 214.2h0M1306.7 221.1h0M1306.5 215.7h0M1306.7 216.7h0M1305.8 215.4h0M1306.6 207.5h0M1306.6 213.0h0M1306.9 235.0h0M1305.9 232.6h0M1306.2 240.2h0M1305.9 233.5h0M1306.3 233.6h0M1306.8 245.6h0M1306.4 237.2h0M1308.2 228.5h0M1306.9 232.5h0M1307.1 229.2h0M1308.1 223.0h0M1307.8 229.2h0M1307.6 231.2h0M1307.4 220.0h0M1307.7 229.4h0M1307.8 222.5h0M1308.4 244.4h0M1307.0 238.7h0M1307.6 246.6h0M1307.3 241.6h0M1308.0 230.2h0M1307.5 237.5h0M1308.4 239.7h0M1308.6 245.8h0M1307.5 248.2h0M1308.7 250.1h0M1308.2 253.9h0M1308.9 252.2h0M1308.3 249.7h0M1308.6 266.9h0M1307.3 248.4h0M1309.0 259.2h0M1308.2 259.3h0M1308.3 205.1h0M1310.3 254.1h0M1309.8 258.4h0M1308.7 261.3h0M1310.1 254.9h0M1309.5 259.1h0M1310.0 257.6h0M1309.8 255.7h0M1310.6 256.6h0M1309.0 253.1h0M1309.8 257.6h0M1310.0 241.9h0M1311.0 240.4h0M1310.9 238.8h0M1310.3 230.4h0M1310.6 214.2h0M1311.1 216.1h0M1310.7 208.9h0M1311.6 201.8h0M1310.9 208.9h0M1310.4 207.8h0M1311.0 213.9h0M1310.0 205.8h0M1310.0 211.2h0M1311.0 206.2h0M1311.0 204.9h0M1310.3 214.4h0M1310.6 259.6h0M1311.1 266.5h0M1311.2 207.1h0M1311.5 220.1h0M1311.5 209.0h0M1312.8 225.5h0M1312.7 221.9h0M1312.0 216.2h0M1311.3 222.7h0M1311.6 217.3h0M1311.8 223.5h0M1311.3 219.6h0M1311.8 237.7h0M1312.2 238.8h0M1313.5 238.9h0M1312.1 244.6h0M1312.5 237.4h0M1313.6 247.5h0M1312.4 239.9h0M1311.8 240.2h0M1312.2 243.9h0M1313.4 240.5h0M1312.0 235.5h0M1311.9 240.3h0M1312.0 241.7h0M1312.9 242.1h0M1311.9 245.0h0M1312.9 244.6h0M1312.2 199.2h0M1313.0 198.1h0M1313.0 209.4h0M1313.7 207.9h0M1314.0 197.9h0M1313.1 202.1h0M1313.1 210.9h0M1312.6 200.7h0M1312.7 202.6h0M1313.9 209.2h0M1313.2 205.2h0M1312.7 225.2h0M1313.2 232.7h0M1315.4 202.6h0M1314.8 191.6h0M1315.0 197.6h0M1313.8 200.9h0M1316.0 220.1h0M1316.3 216.2h0M1316.0 212.0h0M1314.8 229.0h0M1315.2 228.3h0M1315.2 221.2h0M1315.1 204.3h0M1316.3 209.1h0M1316.2 260.0h0M1316.3 260.2h0M1315.5 256.9h0M1316.7 260.5h0M1316.9 259.3h0M1316.4 245.6h0M1318.1 221.0h0M1316.3 226.0h0M1317.9 229.3h0M1317.3 208.6h0M1317.3 209.6h0M1318.2 238.0h0M1318.0 242.8h0M1317.6 241.0h0M1317.9 240.9h0M1319.5 226.3h0M1319.3 233.3h0M1319.5 232.1h0M1320.5 203.6h0M1320.5 224.6h0M1319.9 219.7h0M1320.8 220.5h0M1320.7 245.4h0M1321.0 255.9h0M1322.1 254.5h0M1322.7 207.1h0M1322.4 208.0h0M1322.9 207.9h0M1323.1 208.6h0M1322.1 232.7h0M1322.2 243.8h0M1323.4 228.1h0M1324.3 238.6h0M1323.4 230.3h0M1324.1 249.3h0M1322.8 198.1h0M1323.6 224.9h0M1323.9 219.5h0M1324.7 212.2h0M1323.6 249.5h0M1324.9 249.5h0M1324.7 247.4h0M1326.2 225.7h0M1324.3 232.6h0M1324.8 237.6h0M1326.2 231.3h0M1326.3 240.8h0M1327.1 211.0h0M1326.0 202.2h0M1327.6 196.9h0M1327.7 226.4h0M1328.3 226.3h0M1328.3 221.4h0M1327.0 221.1h0M1328.3 224.9h0M1327.1 228.0h0M1327.4 198.7h0M1327.0 240.6h0M1328.4 198.7h0M1328.4 235.0h0M1327.2 237.6h0M1327.5 243.7h0M1328.4 236.2h0M1328.9 229.8h0M1328.4 226.5h0M1329.0 230.5h0M1329.6 231.0h0M1328.6 234.0h0M1329.6 234.6h0M1328.4 230.0h0M1329.0 229.1h0M1328.8 229.4h0M1327.9 226.4h0M1328.6 230.6h0M1328.4 237.9h0M1327.7 226.0h0M1328.7 247.6h0M1328.7 238.9h0M1328.7 247.8h0M1329.9 238.6h0M1328.4 193.2h0M1330.1 218.5h0M1330.4 217.2h0M1330.6 217.5h0M1329.3 215.4h0M1329.6 221.8h0M1330.3 218.1h0M1328.8 215.0h0M1329.5 216.8h0M1330.3 215.0h0M1329.2 226.0h0M1331.0 228.9h0M1330.7 223.9h0M1330.6 227.8h0M1331.2 231.2h0M1330.8 231.0h0M1331.5 229.4h0M1331.1 227.3h0M1332.4 216.2h0M1331.2 214.7h0M1331.7 212.7h0M1330.9 209.1h0M1331.2 212.9h0M1331.4 213.5h0M1331.4 220.2h0M1332.6 192.0h0M1332.3 233.4h0M1332.5 236.1h0M1333.8 239.1h0M1333.4 233.9h0M1332.6 238.9h0M1332.5 233.6h0M1333.0 225.6h0M1332.0 230.5h0M1332.4 240.7h0M1332.6 226.8h0M1334.6 235.7h0M1333.2 234.5h0M1333.4 235.4h0M1333.3 235.0h0M1333.6 236.7h0M1334.1 235.4h0M1333.9 237.7h0M1334.0 236.3h0M1332.9 236.1h0M1334.1 234.0h0M1334.0 232.3h0M1334.4 237.3h0M1334.4 233.4h0M1334.3 238.3h0M1334.1 239.2h0M1333.5 238.6h0M1333.1 233.0h0M1333.7 237.5h0M1334.1 235.0h0M1333.5 240.0h0M1333.4 231.4h0M1333.1 236.1h0M1333.4 235.7h0M1333.0 234.1h0M1333.9 234.8h0M1333.4 234.1h0M1333.0 235.7h0M1333.8 236.5h0M1334.0 237.5h0M1334.2 236.5h0M1334.4 236.5h0M1334.0 238.0h0M1333.9 239.9h0M1333.9 237.9h0M1334.2 235.3h0M1334.7 209.7h0M1333.4 214.3h0M1333.2 201.1h0M1334.4 190.3h0M1334.5 229.9h0M1334.9 207.0h0M1335.8 229.1h0M1334.3 231.1h0M1334.8 228.3h0M1334.6 243.8h0M1336.7 233.8h0M1336.7 238.3h0M1335.6 242.5h0M1336.5 234.2h0M1336.4 225.0h0M1337.9 243.1h0M1337.7 242.8h0M1337.8 237.3h0M1336.1 246.1h0M1337.8 238.4h0M1336.9 239.5h0M1336.7 232.4h0M1337.8 219.1h0M1338.4 221.8h0M1338.1 224.4h0M1337.1 230.6h0M1337.8 226.4h0M1337.4 219.8h0M1338.7 228.7h0M1337.5 227.9h0M1337.1 227.6h0M1337.3 226.6h0M1337.5 224.4h0M1337.2 226.4h0M1337.9 233.5h0M1339.5 236.1h0M1339.6 232.0h0M1339.9 237.8h0M1339.7 233.4h0M1339.2 237.7h0M1339.8 243.3h0M1340.7 240.4h0M1339.6 245.9h0M1341.0 241.6h0M1341.2 241.0h0M1340.3 239.7h0M1341.1 231.0h0M1340.7 237.8h0M1339.6 242.0h0M1340.3 238.1h0M1339.5 239.7h0M1340.6 232.3h0M1340.0 235.6h0M1339.5 240.9h0M1339.6 234.1h0M1340.9 239.9h0M1341.3 231.7h0M1341.4 239.4h0M1341.1 228.6h0M1341.3 230.2h0M1339.8 237.9h0M1340.8 233.8h0M1340.0 230.7h0M1340.8 233.2h0M1340.0 235.8h0M1340.4 233.8h0M1340.2 237.9h0M1341.3 232.4h0M1341.0 240.0h0M1340.1 238.0h0M1340.4 218.9h0M1340.7 219.4h0M1341.2 202.8h0M1341.5 207.3h0M1340.6 208.1h0M1341.7 205.6h0M1341.0 210.9h0M1341.7 207.2h0M1341.9 205.4h0M1340.6 188.7h0M1341.2 208.4h0M1343.2 223.5h0M1343.0 183.4h0M1342.2 235.4h0M1342.9 240.0h0M1342.2 238.3h0M1343.2 244.4h0M1341.9 242.0h0M1343.8 232.4h0M1343.7 226.7h0M1342.5 218.0h0M1343.0 221.5h0M1342.2 216.3h0M1342.8 220.2h0M1343.8 217.6h0M1344.0 214.9h0M1344.3 189.4h0M1343.9 195.4h0M1345.3 194.5h0M1344.4 222.7h0M1344.1 200.8h0M1344.6 207.6h0M1344.3 219.1h0M1344.5 211.0h0M1344.3 214.5h0M1344.7 194.9h0M1344.9 192.6h0M1344.2 191.2h0M1345.6 187.6h0M1344.8 196.4h0M1344.1 199.3h0M1344.1 196.1h0M1344.5 196.8h0M1345.4 201.3h0M1344.3 193.6h0M1344.6 196.8h0M1344.1 186.1h0M1344.6 233.3h0M1345.1 242.2h0M1346.9 237.2h0M1346.6 205.7h0M1346.6 211.9h0M1345.8 192.9h0M1346.1 239.1h0M1347.3 238.2h0M1346.0 234.7h0M1346.8 242.6h0M1346.9 247.5h0M1347.5 239.9h0M1347.1 245.7h0M1346.8 228.7h0M1346.6 212.2h0M1348.3 240.9h0M1347.1 225.7h0M1347.5 232.4h0M1348.4 237.3h0M1348.2 247.2h0M1346.9 231.9h0M1348.7 230.1h0M1347.6 216.7h0M1348.9 231.0h0M1349.0 229.4h0M1348.1 227.3h0M1347.8 227.2h0M1347.7 226.8h0M1348.2 227.5h0M1349.9 228.1h0M1348.4 225.0h0M1349.3 226.3h0M1349.9 225.3h0M1348.4 226.8h0M1349.0 206.4h0M1350.1 206.4h0M1349.1 200.0h0M1350.2 203.7h0M1349.6 213.2h0M1349.5 209.6h0M1350.0 213.4h0M1350.4 203.3h0M1349.6 206.9h0M1349.3 218.3h0M1350.7 220.0h0M1350.1 209.8h0M1350.1 214.2h0M1350.1 224.3h0M1351.0 219.6h0M1350.7 224.5h0M1351.6 214.2h0M1350.7 223.3h0M1351.1 222.0h0M1351.7 205.5h0M1351.9 189.7h0M1351.6 214.7h0M1352.1 241.5h0M1352.3 240.9h0M1351.0 240.0h0M1352.1 248.4h0M1352.0 219.7h0M1352.6 238.8h0M1353.2 234.3h0M1353.1 238.0h0M1352.5 232.4h0M1352.4 231.7h0M1352.5 234.6h0M1354.4 198.5h0M1353.9 193.3h0M1354.4 193.0h0M1355.2 211.1h0M1355.3 215.8h0M1354.5 216.6h0M1355.2 204.7h0M1354.6 218.4h0M1356.0 209.4h0M1354.8 202.1h0M1357.2 246.2h0M1357.0 244.4h0M1356.4 248.5h0M1355.5 244.2h0M1355.7 246.8h0M1356.2 221.3h0M1357.0 230.3h0M1357.1 216.1h0M1358.2 228.1h0M1357.4 213.4h0M1358.2 209.7h0M1356.7 209.6h0M1358.9 197.5h0M1358.5 233.4h0M1359.1 227.6h0M1358.6 224.9h0M1359.5 196.1h0M1359.5 200.6h0M1360.7 197.6h0M1359.0 196.7h0M1360.8 198.1h0M1359.5 243.7h0M1360.1 235.1h0M1360.8 240.2h0M1359.4 239.7h0M1359.6 241.4h0M1360.9 238.4h0M1360.1 203.4h0M1361.6 226.1h0M1360.7 235.7h0M1361.3 231.3h0M1361.9 226.3h0M1361.8 220.6h0M1361.1 225.0h0M1361.7 238.5h0M1361.8 209.0h0M1362.9 213.8h0M1361.9 207.8h0M1362.3 198.0h0M1362.4 205.8h0M1363.0 218.0h0M1363.0 202.3h0M1364.4 242.6h0M1362.5 234.9h0M1362.8 205.6h0M1362.9 202.2h0M1363.6 207.7h0M1363.0 200.3h0M1363.7 209.6h0M1363.8 209.2h0M1363.5 206.4h0M1364.5 209.7h0M1364.6 208.5h0M1364.2 205.9h0M1364.4 217.9h0M1364.7 214.2h0M1364.0 199.0h0M1364.0 223.6h0M1364.5 213.5h0M1364.3 208.1h0M1365.7 210.6h0M1364.3 213.6h0M1365.4 237.3h0M1365.4 238.2h0M1366.3 241.4h0M1364.5 239.5h0M1366.3 224.4h0M1365.8 212.8h0M1365.4 215.0h0M1366.5 216.1h0M1366.8 215.7h0M1366.3 213.7h0M1365.7 220.2h0M1366.5 216.9h0M1367.0 220.3h0M1365.9 206.3h0M1366.9 234.7h0M1368.0 223.9h0M1366.7 209.0h0M1367.9 235.2h0M1368.0 235.1h0M1366.7 226.6h0M1367.3 236.3h0M1366.8 208.9h0M1367.1 235.3h0M1367.3 235.0h0M1368.4 230.8h0M1368.1 231.5h0M1369.0 220.2h0M1368.3 230.5h0M1368.9 220.0h0M1369.0 204.0h0M1369.6 203.5h0M1370.4 223.2h0M1369.5 212.3h0M1370.5 209.2h0M1369.7 205.0h0M1371.3 223.3h0M1370.3 203.7h0M1371.7 206.7h0M1371.7 199.9h0M1371.7 200.9h0M1370.7 222.1h0M1370.6 223.6h0M1370.7 224.8h0M1371.5 221.4h0M1370.8 214.9h0M1371.2 213.0h0M1371.4 217.3h0M1370.7 225.5h0M1372.3 231.4h0M1371.9 228.8h0M1371.3 220.5h0M1370.6 215.9h0M1372.4 227.5h0M1371.0 208.9h0M1372.0 206.7h0M1372.8 208.7h0M1371.5 216.5h0M1372.5 206.0h0M1372.5 203.3h0M1372.7 203.2h0M1372.0 232.7h0M1373.3 226.3h0M1371.8 226.1h0M1372.2 232.9h0M1372.1 222.1h0M1373.5 217.6h0M1371.8 218.7h0M1373.0 217.7h0M1371.9 223.7h0M1373.5 222.3h0M1372.9 228.0h0M1372.6 214.2h0M1373.1 200.1h0M1372.4 207.0h0M1374.1 224.2h0M1373.9 197.3h0M1374.2 213.9h0M1374.1 225.8h0M1374.8 220.7h0M1373.5 219.7h0M1374.7 208.0h0M1375.6 210.0h0M1375.1 213.9h0M1375.6 205.9h0M1374.5 218.8h0M1374.6 209.5h0M1376.0 215.5h0M1375.9 213.4h0M1375.5 213.5h0M1376.3 210.5h0M1377.0 208.6h0M1376.5 212.9h0M1377.2 225.5h0M1376.7 196.5h0M1377.5 202.3h0M1376.0 202.8h0M1377.9 204.4h0M1377.8 209.3h0M1377.6 206.8h0M1376.9 202.5h0M1376.6 201.4h0M1377.1 198.5h0M1376.6 205.0h0M1377.5 201.3h0M1377.4 199.7h0M1378.1 226.3h0M1378.8 202.7h0M1378.8 213.1h0M1377.9 202.2h0M1379.6 212.0h0M1379.2 225.3h0M1379.8 227.9h0M1379.7 215.9h0M1380.1 217.9h0M1379.5 199.1h0M1380.0 228.4h0M1380.4 215.3h0M1380.1 214.6h0M1381.4 214.5h0M1381.1 217.0h0M1380.5 203.3h0M1382.3 214.4h0M1382.4 205.4h0M1382.5 213.6h0M1381.0 205.1h0M1381.6 223.3h0M1381.9 213.1h0M1381.5 211.9h0M1382.4 228.3h0M1381.1 214.5h0M1382.6 217.4h0M1382.9 228.0h0M1382.3 215.1h0M1381.4 216.8h0M1381.5 207.0h0M1383.1 231.2h0M1382.4 198.7h0M1382.3 207.1h0M1383.2 214.6h0M1383.3 207.6h0M1383.1 208.1h0M1383.9 212.5h0M1384.1 219.7h0M1384.8 210.0h0M1384.7 211.8h0M1384.0 220.2h0M1383.7 216.3h0M1383.6 219.4h0M1382.9 212.1h0M1384.3 213.8h0M1383.7 214.9h0M1384.7 210.2h0M1385.1 221.9h0M1385.0 208.1h0M1384.5 209.1h0M1385.8 209.5h0M1384.7 208.8h0M1386.2 208.9h0M1387.1 213.5h0M1387.3 202.8h0M1386.6 210.4h0M1386.4 196.3h0M1387.5 201.9h0M1386.2 207.7h0M1387.0 201.6h0M1386.0 200.7h0M1386.2 213.7h0M1386.7 204.6h0M1387.5 236.2h0M1386.0 203.9h0M1386.2 223.3h0M1387.2 196.6h0M1386.5 189.5h0M1387.4 208.5h0M1387.1 212.4h0M1388.6 223.5h0M1389.5 204.3h0M1389.1 199.7h0M1388.8 210.7h0M1388.4 192.2h0M1388.5 195.4h0M1388.9 199.0h0M1387.9 193.6h0M1389.9 212.8h0M1389.0 198.4h0M1389.5 207.1h0M1389.8 204.1h0M1388.3 200.6h0M1389.1 211.1h0M1388.8 203.3h0M1388.7 215.7h0M1388.4 219.1h0M1389.9 218.3h0M1389.9 220.6h0M1389.7 226.1h0M1389.2 228.4h0M1389.0 225.6h0M1388.6 229.9h0M1390.1 228.2h0M1389.6 231.7h0M1390.3 217.0h0M1390.2 235.7h0M1390.8 192.6h0M1389.8 194.0h0M1389.7 184.3h0M1390.6 183.3h0M1391.5 203.7h0M1390.8 232.5h0M1391.0 179.8h0M1391.1 194.6h0M1391.5 190.2h0M1392.0 186.9h0M1391.7 235.9h0M1392.5 238.2h0M1392.3 241.4h0M1392.1 214.4h0M1393.2 215.0h0M1393.2 208.0h0M1393.2 198.7h0M1393.5 222.9h0M1393.1 190.3h0M1392.9 189.4h0M1394.6 188.0h0M1393.3 182.5h0M1394.9 174.5h0M1394.9 236.6h0M1394.8 239.6h0M1395.1 234.3h0M1395.5 238.9h0M1395.5 228.5h0M1395.9 194.9h0M1394.7 197.7h0M1394.9 198.3h0M1395.6 194.7h0M1396.1 191.8h0M1396.0 196.2h0M1395.0 198.2h0M1395.7 193.9h0M1395.8 194.0h0M1394.6 172.2h0M1395.1 178.6h0M1396.1 194.5h0M1396.4 202.2h0M1395.8 195.5h0M1396.1 203.4h0M1396.7 188.0h0M1395.9 187.3h0M1395.5 190.2h0M1396.9 181.3h0M1396.8 186.5h0M1398.0 230.3h0M1396.9 238.8h0M1398.2 242.4h0M1397.6 188.2h0M1397.4 222.4h0M1397.2 176.6h0M1397.6 229.6h0M1397.9 239.7h0M1397.9 241.0h0M1397.6 236.5h0M1397.0 223.2h0M1398.3 216.5h0M1397.5 216.6h0M1397.3 216.0h0M1397.8 189.1h0M1398.6 179.6h0M1399.2 188.2h0M1398.9 209.7h0M1398.5 223.3h0M1399.5 223.1h0M1399.5 171.2h0M1399.7 240.8h0M1400.0 241.8h0M1398.4 234.0h0M1400.0 220.8h0M1398.7 232.6h0M1399.3 241.4h0M1400.2 224.3h0M1398.4 232.0h0M1399.0 193.1h0M1400.0 201.7h0M1399.4 177.1h0M1400.4 183.4h0M1401.5 197.6h0M1401.3 214.3h0M1401.5 212.0h0M1400.3 212.7h0M1400.9 216.7h0M1401.3 183.1h0M1401.8 178.1h0M1401.8 176.9h0M1401.7 178.0h0M1402.6 214.0h0M1402.5 207.1h0M1401.4 210.8h0M1402.2 206.3h0M1401.7 215.5h0M1402.5 207.8h0M1402.4 218.1h0M1401.2 212.6h0M1402.4 219.7h0M1401.8 212.8h0M1401.4 220.4h0M1400.9 212.2h0M1401.4 216.7h0M1401.3 214.9h0M1401.2 222.1h0M1401.5 214.7h0M1401.9 225.2h0M1401.6 203.1h0M1403.0 221.1h0M1401.9 225.7h0M1401.6 228.9h0M1402.5 233.8h0M1401.5 220.5h0M1403.3 222.1h0M1403.5 175.5h0M1402.6 182.5h0M1403.1 178.5h0M1403.9 191.3h0M1403.8 182.8h0M1402.4 187.3h0M1403.3 180.6h0M1402.5 180.4h0M1403.3 185.7h0M1403.0 179.2h0M1403.0 183.4h0M1403.6 177.6h0M1404.2 179.8h0M1403.1 184.5h0M1405.2 193.1h0M1403.7 180.5h0M1404.0 181.4h0M1404.6 194.9h0M1405.2 221.4h0M1406.6 218.2h0M1405.2 217.6h0M1406.1 221.0h0M1405.0 224.0h0M1405.1 220.5h0M1405.8 204.1h0M1405.7 205.8h0M1407.6 222.4h0M1406.6 212.8h0M1406.9 192.0h0M1407.8 201.5h0M1406.3 201.5h0M1407.6 193.7h0M1407.3 204.1h0M1407.1 205.6h0M1406.1 206.2h0M1408.3 193.2h0M1408.6 196.9h0M1406.8 202.1h0M1408.6 195.5h0M1408.3 205.3h0M1407.5 188.2h0M1407.7 199.6h0M1408.1 196.9h0M1408.9 229.1h0M1407.3 233.7h0M1409.1 235.5h0M1408.2 234.5h0M1408.4 224.1h0M1407.9 225.5h0M1408.9 200.5h0M1408.5 232.9h0M1408.5 186.9h0M1408.3 194.3h0M1409.9 184.8h0M1409.4 180.8h0M1409.8 180.1h0M1408.1 185.6h0M1410.1 195.9h0M1409.6 218.2h0M1409.6 218.9h0M1411.6 220.7h0M1411.4 212.9h0M1410.9 214.7h0M1411.0 221.5h0M1411.3 188.0h0M1411.8 185.8h0M1410.8 183.8h0M1411.4 188.9h0M1411.6 192.7h0M1410.1 194.9h0M1411.2 183.3h0M1412.4 190.2h0M1411.7 215.1h0M1411.5 216.7h0M1412.3 195.4h0M1411.9 195.4h0M1413.3 197.3h0M1413.6 196.4h0M1412.3 195.3h0M1412.8 219.8h0M1414.1 216.0h0M1413.9 213.7h0M1414.3 222.6h0M1412.8 216.2h0M1412.9 216.7h0M1414.5 211.9h0M1414.1 180.0h0M1415.0 231.0h0M1413.9 233.6h0M1415.7 180.1h0M1414.5 205.2h0M1415.4 208.6h0M1416.4 212.8h0M1416.0 205.8h0M1414.7 203.5h0M1416.6 180.1h0M1415.8 206.9h0M1416.3 201.1h0M1417.5 175.4h0M1416.3 183.6h0M1416.3 185.8h0M1417.4 182.8h0M1416.9 194.7h0M1418.3 201.1h0M1418.0 215.3h0M1417.7 218.5h0M1418.6 209.6h0M1417.6 226.6h0M1418.4 227.4h0M1417.4 220.7h0M1417.7 183.8h0M1419.2 215.2h0M1419.8 181.2h0M1418.3 183.0h0M1418.8 227.2h0M1420.3 230.5h0M1419.8 229.8h0M1419.1 230.0h0M1419.7 228.5h0M1420.6 185.2h0M1421.2 190.2h0M1420.4 188.8h0M1421.9 219.8h0M1421.5 211.7h0M1422.5 217.0h0M1422.1 223.7h0M1422.7 182.4h0M1422.7 181.0h0M1421.6 172.0h0M1420.8 185.4h0M1422.5 191.6h0M1422.3 181.7h0M1422.8 188.9h0M1422.1 188.9h0M1421.1 191.9h0M1423.0 213.1h0M1423.4 218.9h0M1422.1 219.0h0M1423.2 212.1h0M1421.7 224.6h0M1422.1 197.2h0M1423.6 224.0h0M1423.4 214.2h0M1423.1 222.3h0M1424.7 227.8h0M1424.0 217.3h0M1423.4 190.4h0M1423.9 220.3h0M1424.1 203.1h0M1424.2 223.7h0M1424.5 192.6h0M1425.5 188.5h0M1424.0 218.6h0M1425.5 214.7h0M1426.4 188.7h0M1425.5 175.0h0M1426.0 218.1h0M1426.7 188.8h0M1426.5 194.8h0M1426.1 189.7h0M1425.9 191.3h0M1426.2 193.9h0M1425.7 190.2h0M1425.1 189.7h0M1426.0 176.2h0M1426.5 178.7h0M1426.2 170.6h0M1428.0 177.8h0M1427.9 181.7h0M1427.6 210.0h0M1428.9 211.9h0M1429.1 204.2h0M1428.5 203.3h0M1427.9 208.5h0M1428.6 206.1h0M1428.3 204.1h0M1429.1 208.7h0M1428.0 192.8h0M1430.0 202.0h0M1430.4 174.4h0M1429.1 171.8h0M1429.1 178.9h0M1430.0 173.5h0M1429.9 208.8h0M1430.4 202.2h0M1430.9 202.9h0M1431.0 173.0h0M1431.4 199.9h0M1431.7 202.1h0M1430.4 198.5h0M1431.8 179.0h0M1432.9 208.5h0M1432.4 184.7h0M1431.5 174.4h0M1433.6 178.1h0M1433.7 188.4h0M1432.7 181.6h0M1432.5 185.5h0M1433.2 180.0h0M1433.8 205.8h0M1433.6 196.0h0M1434.9 177.1h0M1434.2 183.3h0M1434.2 183.4h0M1433.4 174.1h0M1434.5 192.3h0M1435.0 196.2h0M1434.4 194.9h0M1435.8 168.0h0M1435.8 172.0h0M1434.1 169.8h0M1435.8 171.6h0M1434.9 167.3h0M1435.1 198.3h0M1435.2 202.9h0M1436.1 194.2h0M1435.5 192.3h0M1435.1 192.0h0M1435.5 190.0h0M1435.4 211.2h0M1434.9 176.4h0M1434.7 208.0h0M1436.0 208.5h0M1435.8 205.4h0M1436.5 181.2h0M1436.3 202.2h0M1436.8 184.5h0M1436.2 177.5h0M1437.2 183.8h0M1436.8 174.9h0M1435.3 181.0h0M1436.1 180.2h0M1436.5 203.4h0M1437.4 206.5h0M1436.1 205.5h0M1436.0 201.8h0M1437.6 204.4h0M1436.1 206.7h0M1436.6 189.6h0M1438.1 208.0h0M1437.1 218.6h0M1438.4 185.2h0M1437.5 181.7h0M1438.4 171.4h0M1438.2 170.1h0M1439.6 177.5h0M1438.7 189.4h0M1438.6 215.0h0M1438.8 166.4h0M1439.5 185.1h0M1439.8 186.9h0M1439.9 177.0h0M1439.4 191.2h0M1441.1 165.9h0M1441.7 205.1h0M1441.7 207.7h0M1441.1 211.3h0M1440.0 201.7h0M1441.5 218.0h0M1442.0 203.1h0M1441.9 162.7h0M1441.7 202.4h0M1441.4 203.5h0M1442.5 199.4h0M1443.0 183.4h0M1443.5 179.5h0M1441.9 179.7h0M1442.4 180.2h0M1443.0 180.2h0M1442.7 207.1h0M1443.7 202.8h0M1442.3 194.7h0M1443.0 184.4h0M1443.5 188.5h0M1442.5 187.2h0M1442.5 201.1h0M1443.4 171.6h0M1444.0 169.4h0M1443.6 188.1h0M1443.9 191.0h0M1442.9 192.3h0M1443.6 186.1h0M1443.3 189.1h0M1443.2 189.0h0M1444.8 187.6h0M1443.7 204.0h0M1444.6 208.4h0M1444.4 165.3h0M1444.3 169.3h0M1445.1 180.0h0M1446.5 199.8h0M1446.2 183.5h0M1446.5 204.8h0M1446.2 206.5h0M1448.1 214.4h0M1447.5 169.8h0M1447.5 199.8h0M1447.6 203.0h0M1447.0 169.6h0M1447.7 180.8h0M1447.8 199.9h0M1448.4 186.8h0M1448.3 198.4h0M1449.1 191.6h0M1448.2 173.3h0M1449.8 175.7h0M1449.9 170.3h0M1448.9 175.1h0M1449.5 172.2h0M1448.9 175.1h0M1450.1 172.8h0M1448.5 171.6h0M1448.4 172.6h0M1449.0 173.9h0M1449.2 207.0h0M1449.6 210.3h0M1451.3 168.2h0M1451.2 171.1h0M1450.6 173.0h0M1449.6 164.6h0M1451.4 212.6h0M1451.5 201.2h0M1451.7 201.0h0M1451.2 178.0h0M1451.6 180.4h0M1453.1 178.4h0M1452.3 184.5h0M1452.8 180.2h0M1453.5 194.9h0M1452.4 185.7h0M1453.5 195.6h0M1453.1 185.4h0M1454.3 191.0h0M1453.9 179.7h0M1454.3 179.7h0M1453.1 214.9h0M1453.0 192.6h0M1453.4 191.6h0M1454.3 189.2h0M1454.8 196.3h0M1453.6 193.2h0M1455.1 201.4h0M1454.5 167.0h0M1455.1 167.6h0M1455.7 193.8h0M1454.8 186.0h0M1454.8 213.9h0M1454.7 176.9h0M1456.5 196.5h0M1456.4 187.3h0M1455.1 214.1h0M1456.1 155.5h0M1457.5 208.7h0M1456.5 171.3h0M1457.1 171.4h0M1456.3 175.6h0M1458.2 169.6h0M1457.3 165.4h0M1456.4 177.4h0M1457.5 178.5h0M1456.8 157.7h0M1458.0 196.8h0M1458.6 180.5h0M1458.1 171.6h0M1458.2 178.3h0M1457.4 175.9h0M1457.9 178.8h0M1457.5 187.2h0M1458.3 174.9h0M1458.0 199.6h0M1458.5 194.2h0M1458.6 207.0h0M1458.5 214.5h0M1459.8 214.4h0M1460.0 204.2h0M1460.5 212.7h0M1459.7 174.9h0M1460.4 175.6h0M1459.5 173.1h0M1459.3 170.7h0M1461.3 189.8h0M1459.8 189.9h0M1459.8 191.8h0M1460.2 179.2h0M1460.7 166.9h0M1460.4 173.9h0M1461.2 171.1h0M1460.5 176.5h0M1462.3 203.1h0M1461.6 193.2h0M1461.4 211.3h0M1463.2 207.2h0M1462.2 205.5h0M1462.7 205.0h0M1463.5 207.4h0M1462.2 206.3h0M1462.7 198.9h0M1462.7 198.7h0M1462.0 192.0h0M1462.4 193.4h0M1463.6 194.2h0M1463.7 181.4h0M1463.3 186.2h0M1463.2 179.0h0M1463.8 177.9h0M1463.7 172.3h0M1463.0 181.7h0M1464.4 182.7h0M1463.8 184.4h0M1463.4 181.1h0M1464.7 187.6h0M1463.2 188.6h0M1463.3 186.5h0M1464.8 195.7h0M1464.1 199.3h0M1464.5 194.5h0M1463.4 198.6h0M1465.1 196.2h0M1465.2 190.3h0M1465.2 195.4h0M1465.3 190.7h0M1463.9 190.2h0M1466.2 191.0h0M1465.0 202.6h0M1466.1 197.0h0M1466.0 195.6h0M1465.9 194.8h0M1467.5 198.8h0M1466.3 195.5h0M1466.6 188.2h0M1465.9 197.9h0M1465.9 189.1h0M1467.1 193.5h0M1467.9 205.3h0M1466.8 205.8h0M1466.3 175.9h0M1467.0 198.6h0M1467.9 188.8h0M1468.3 198.8h0M1468.7 198.1h0M1468.1 205.1h0M1469.8 183.3h0M1469.6 199.7h0M1470.0 186.7h0M1468.4 180.3h0M1469.5 182.1h0M1470.3 185.1h0M1469.8 183.0h0M1468.9 179.2h0M1470.3 201.8h0M1471.4 202.2h0M1472.6 177.9h0M1472.6 175.4h0M1473.6 176.7h0M1475.6 185.7h0M1475.8 178.5h0M1476.0 193.5h0M1477.0 188.3h0M1477.4 179.8h0M1479.2 195.4h0M1479.3 190.3h0M1480.7 187.6h0M1480.0 190.5h0M1482.2 202.9h0M1482.9 190.1h0M1482.0 203.5h0M1484.1 196.5h0M1484.7 204.0h0M1486.7 190.6h0M1488.3 189.7h0M1489.1 184.8h0M1488.6 197.9h0M1488.1 195.3h0M1487.8 186.6h0M1487.9 193.7h0M1489.2 202.0h0M1490.0 201.8h0M1489.2 198.4h0M1490.8 196.0h0M1491.7 196.5h0M1490.8 196.9h0M1491.4 195.9h0M1491.5 192.2h0M1491.9 190.0h0M1490.6 191.0h0M1492.8 183.4h0M1493.1 200.2h0M1496.2 189.1h0M1494.4 186.0h0M1494.9 200.3h0M1496.1 185.7h0M1497.3 181.2h0M1496.2 194.6h0M1495.7 192.8h0M1496.4 198.3h0M1497.5 195.7h0M1496.6 198.5h0M1497.6 198.3h0M1497.4 200.5h0M1496.2 195.5h0M1498.4 197.5h0M1497.7 192.2h0M1498.3 195.4h0M1499.7 180.0h0M1499.9 190.1h0M1501.2 179.5h0M1500.7 175.7h0M1502.1 186.7h0M1502.1 190.0h0M1502.4 195.3h0M1502.2 178.8h0M1502.7 190.9h0M1503.6 176.8h0M1503.2 184.2h0M1503.0 174.5h0M1504.3 195.0h0M1503.2 195.6h0M1504.2 186.9h0M1504.4 170.0h0M1505.2 171.6h0M1504.0 170.5h0M1505.2 172.0h0M1507.1 168.3h0M1507.6 188.3h0M1507.5 176.9h0M1507.4 175.3h0M1508.1 173.9h0M1508.3 175.9h0M1508.2 163.2h0M1509.9 164.7h0M1510.9 169.4h0M1512.2 176.2h0M1513.7 171.0h0M1512.8 170.4h0M1512.8 167.2h0M1513.5 167.9h0M1514.5 178.5h0M1513.4 168.5h0M1514.3 170.1h0M1514.9 163.6h0M1515.6 159.0h0M1516.5 155.9h0M1515.4 158.8h0M1517.8 192.9h0M1517.3 171.6h0M1517.8 156.9h0M1517.2 164.0h0M1517.0 189.1h0M1517.9 183.3h0M1516.8 154.1h0M1517.0 159.6h0M1517.5 164.6h0M1517.7 165.5h0M1518.2 181.6h0M1519.5 157.6h0M1517.9 153.4h0M1518.1 157.5h0M1517.7 159.0h0M1518.3 186.0h0M1518.8 153.6h0M1519.1 154.9h0M1518.6 163.9h0M1518.1 160.5h0M1519.6 179.1h0M1520.3 186.8h0M1520.6 187.1h0M1519.9 184.1h0M1520.4 177.2h0M1519.7 186.2h0M1522.1 191.0h0M1522.2 188.0h0M1523.2 181.2h0M1521.4 186.2h0M1521.9 177.4h0M1522.1 180.4h0M1523.4 175.5h0M1525.4 168.4h0M1524.3 168.5h0M1525.8 169.4h0M1525.5 156.3h0M1525.8 188.1h0M1526.6 172.8h0M1525.8 170.4h0M1526.6 175.8h0M1526.4 182.5h0M1527.7 173.8h0M1528.8 189.7h0M1528.4 190.0h0M1528.6 161.4h0M1529.2 181.4h0M1531.9 183.5h0M1532.9 156.3h0M1531.3 159.2h0M1532.9 163.3h0M1532.7 159.8h0M1532.6 162.6h0M1531.5 168.2h0M1532.9 167.4h0M1533.8 158.9h0M1534.2 167.1h0M1534.8 160.3h0M1534.9 172.3h0M1535.9 170.9h0M1537.6 189.5h0M1538.0 160.9h0M1538.2 177.7h0M1538.2 166.0h0M1538.2 175.1h0M1538.4 173.3h0M1539.3 165.9h0M1538.5 170.8h0M1538.1 169.5h0M1539.7 164.0h0M1538.2 166.4h0M1539.9 169.1h0M1539.6 188.7h0M1539.7 169.1h0M1540.1 155.9h0M1540.2 177.5h0M1541.2 161.6h0M1539.7 155.7h0M1539.8 163.4h0M1541.0 176.7h0M1540.7 175.2h0M1542.8 187.8h0M1541.2 186.5h0M1542.9 188.5h0M1542.0 189.7h0M1543.4 188.2h0M1543.8 190.6h0M1543.7 191.2h0M1544.4 160.7h0M1543.9 166.6h0M1543.5 158.3h0M1543.9 151.6h0M1543.9 169.4h0M1545.2 176.5h0M1545.6 188.2h0M1545.9 177.1h0M1546.8 179.1h0M1546.1 177.6h0M1546.4 181.8h0M1546.7 181.3h0M1547.2 168.7h0M1546.9 171.0h0M1547.7 167.9h0M1547.6 169.4h0M1547.7 169.3h0M1548.4 186.1h0M1547.5 188.1h0M1549.0 162.9h0M1549.7 156.5h0M1549.0 160.3h0M1549.0 190.2h0M1549.5 186.8h0M1549.4 185.0h0M1550.4 187.7h0M1550.4 184.6h0M1550.2 186.3h0M1550.7 189.6h0M1549.0 189.8h0M1549.2 187.0h0M1551.4 184.8h0M1551.1 188.4h0M1551.9 189.4h0M1552.0 186.0h0M1551.9 186.0h0M1552.0 190.7h0M1553.6 161.5h0M1555.5 189.7h0M1554.2 187.0h0M1554.9 154.8h0M1557.3 167.9h0M1556.1 181.7h0M1557.2 159.8h0M1557.7 176.4h0M1557.3 180.8h0M1558.4 182.0h0M1559.5 185.0h0M1559.4 179.2h0M1560.2 174.3h0M1560.7 176.2h0M1560.8 175.2h0M1560.9 183.9h0M1561.3 177.0h0M1560.8 170.2h0M1561.4 173.4h0M1560.7 177.9h0M1562.2 166.1h0M1562.3 157.5h0M1562.4 186.7h0M1563.6 169.0h0M1564.8 176.5h0M1565.3 185.9h0M1565.6 184.5h0M1567.2 175.2h0M1566.5 177.5h0M1567.6 180.4h0M1567.8 176.4h0M1568.7 167.2h0M1568.6 179.0h0M1568.7 170.8h0M1570.1 172.4h0M1570.7 177.0h0M1569.5 173.6h0M1570.5 178.9h0M1570.9 175.3h0M1571.6 177.4h0M1572.7 173.7h0M468.2 185.0h0M483.7 126.9h0M505.5 188.1h0M523.8 191.7h0M536.2 128.4h0M547.2 118.2h0M557.4 183.9h0M572.1 105.3h0M581.8 173.2h0M602.7 100.9h0M624.3 156.3h0M645.3 172.3h0M653.1 165.5h0M653.1 169.1h0M666.5 170.8h0M677.7 91.0h0M677.9 88.1h0M678.0 85.3h0M688.0 166.2h0M687.7 169.5h0M696.9 158.1h0M697.5 161.7h0M708.3 90.8h0M708.7 87.6h0M721.0 87.9h0M729.6 149.6h0M728.8 152.0h0M729.1 154.4h0M736.2 148.9h0M736.4 152.2h0M736.2 155.4h0M746.1 145.8h0M746.1 147.5h0M746.5 149.2h0M750.7 72.7h0M751.9 67.2h0M762.1 70.0h0M762.4 66.9h0M762.4 63.7h0M767.0 143.3h0M767.3 144.4h0M766.9 145.5h0M774.4 144.2h0M774.4 147.3h0M774.7 150.5h0M780.9 141.7h0M780.8 143.3h0M790.6 67.2h0M790.9 61.8h0M800.4 144.4h0M806.1 83.4h0M805.5 81.7h0M806.3 79.9h0M814.6 87.1h0M828.3 159.4h0M828.5 163.2h0M839.7 71.5h0M847.8 73.3h0M848.0 71.0h0M859.8 86.2h0M859.8 84.7h0M866.8 83.0h0M865.6 77.8h0M873.4 163.9h0M872.7 167.7h0M878.8 161.9h0M878.1 165.5h0M888.6 163.7h0M896.5 92.7h0M895.6 89.0h0M908.5 201.5h0M908.8 205.5h0M917.6 99.5h0M917.9 94.1h0M924.0 228.7h0M923.7 232.3h0M924.5 235.8h0M935.9 236.8h0M935.2 240.2h0M945.5 127.6h0M946.0 125.1h0M952.8 246.9h0M958.6 243.4h0M958.8 244.9h0M972.4 265.7h0M972.4 270.0h0M980.7 296.5h0M980.8 298.4h0M989.8 147.3h0M990.1 145.6h0M998.1 158.7h0M998.3 156.2h0M1008.0 173.3h0M1013.6 174.5h0M1020.2 176.8h0M1020.7 173.7h0M1032.7 344.8h0M1032.9 347.8h0M1039.3 350.6h0M1052.5 365.2h0M1066.1 182.7h0M1073.9 186.5h0M1072.8 184.5h0M1085.0 400.0h0M1085.1 404.2h0M1095.8 391.5h0M1096.0 396.2h0M1107.3 252.0h0M1106.9 246.7h0M1113.3 258.8h0M1113.0 253.7h0M1126.4 387.1h0M1126.1 389.0h0M1126.9 390.8h0M1133.8 256.1h0M1133.9 254.6h0M1134.6 253.2h0M1146.9 239.1h0M1147.0 235.2h0M1160.6 250.5h0M1160.0 245.2h0M1171.2 225.0h0M1171.3 222.0h0M1178.6 219.7h0M1179.0 216.1h0M1185.9 351.7h0M1185.8 354.9h0M1186.2 358.1h0M1193.4 226.9h0M1192.9 223.1h0M1200.3 351.9h0M1199.5 357.2h0M1212.3 241.0h0M1212.5 237.4h0M1223.0 350.5h0M1223.2 352.8h0M1230.5 344.2h0M1230.8 348.0h0M1244.4 214.8h0M1244.1 209.9h0M1253.6 225.5h0M1254.2 220.4h0M1264.9 297.7h0M1264.9 300.9h0M1274.1 209.3h0M1273.9 208.3h0M1273.1 207.2h0M1282.6 274.8h0M1283.3 277.2h0M1295.1 189.1h0M1294.4 187.7h0M1294.6 186.2h0M1305.0 278.4h0M1317.0 268.5h0M1317.0 272.0h0M1322.9 191.0h0M1322.3 188.6h0M1331.5 250.8h0M1331.5 252.4h0M1331.7 254.0h0M1343.7 182.1h0M1344.7 180.5h0M1343.8 179.0h0M1351.7 175.8h0M1356.7 252.0h0M1367.3 242.5h0M1366.6 244.2h0M1375.4 233.6h0M1374.8 236.9h0M1375.4 240.2h0M1386.9 241.0h0M1400.4 243.5h0M1399.8 246.0h0M1407.5 173.7h0M1407.3 171.7h0M1413.1 175.3h0M1413.2 172.3h0M1426.4 227.6h0M1425.9 233.1h0M1436.5 161.9h0M1436.7 159.9h0M1436.2 157.9h0M1450.0 219.5h0M1449.4 222.5h0M1449.8 225.5h0M1460.5 155.5h0M1459.8 151.3h0M1466.0 211.2h0M1466.7 213.2h0M1466.2 215.2h0M1475.6 210.0h0M1475.2 212.5h0M1490.0 211.4h0M1509.1 152.7h0M1521.7 197.8h0M1534.9 199.1h0M1544.0 144.9h0M1556.0 196.2h0M1564.6 190.8h0M1142.4 497.6h0M515.0 114.5h0M530.6 121.3h0M473.0 119.3h0M473.0 127.1h0M460.3 133.0h0M457.3 194.5h0M569.6 189.6h0M581.4 180.5h0M593.7 178.9h0M662.3 84.8h0M678.3 77.0h0M693.5 181.7h0M770.6 69.2h0M901.0 69.5h0M901.0 80.3h0M915.3 83.2h0M864.0 160.0h0M891.0 175.0h0M890.0 186.7h0M935.3 262.3h0M956.0 266.8h0M946.6 273.4h0M1001.0 162.7h0M1028.0 191.4h0M1049.2 190.0h0M1049.2 198.0h0M1087.0 223.0h0M1089.0 223.2h0M1109.6 234.5h0M1147.0 215.0h0M1148.6 229.0h0M1192.6 208.0h0M1227.3 202.7h0M1247.7 202.7h0M1263.9 302.9h0M1080.0 419.3h0M1091.8 408.3h0M1096.8 416.3h0M1106.0 395.6h0M1136.0 406.6h0M1151.8 406.6h0M1188.0 361.0h0M1230.5 344.3h0M1230.5 353.3h0M1247.8 202.5h0M1318.0 154.6h0M1315.2 159.5h0M1323.0 159.5h0M1323.0 172.8h0M1387.5 145.0h0M1387.5 152.0h0M1341.6 262.7h0M1501.7 103.3h0M1528.0 124.2h0M1498.5 139.8h0M1498.5 154.4h0M1553.3 139.8h0M623.5 82.0h0M623.1 86.7h0M623.7 91.3h0M623.7 96.0h0M665.5 168.0h0M665.0 173.3h0M665.6 178.5h0M665.1 183.8h0M875.9 158.0h0M877.3 163.3h0M877.6 168.7h0M878.6 174.0h0M879.2 179.3h0M880.5 184.7h0M881.3 190.0h0M1069.6 158.0h0M1070.1 162.4h0M1069.7 166.8h0M1069.2 171.2h0M1069.6 175.5h0M1069.6 179.9h0M1069.5 184.3h0M1069.4 188.7h0M1069.9 193.1h0M1069.6 197.5h0M1070.2 201.8h0M1069.3 206.2h0M1070.0 210.6h0M1069.4 215.0h0M1057.6 370.0h0M1057.5 375.2h0M1057.7 380.5h0M1057.8 385.7h0M1057.7 390.9h0M1057.9 396.1h0M1057.7 401.4h0M1058.0 406.6h0M1122.0 396.0h0M1121.7 400.8h0M1121.9 405.5h0M1121.9 410.2h0M1121.5 415.0h0M1209.2 348.0h0M1208.8 352.6h0M1208.7 357.2h0M1208.8 361.8h0M1208.6 366.4h0M1209.5 371.0h0M1347.7 165.0h0M1347.3 170.3h0M1346.9 175.7h0M1347.8 181.0h0M1419.2 218.0h0M1419.7 222.8h0M1420.0 227.5h0M1419.5 232.2h0M1420.0 237.0h0M1275.9 203.0h0M1275.7 207.0h0M1275.9 211.0h0M1275.9 215.0h0" stroke="#594f93" stroke-width="8.6" stroke-linecap="round" fill="none"/>
<g id="stars"><use href="#s" x="626.3" y="70.5"/><use href="#s" x="584.3" y="92.0"/><use href="#s" x="613.6" y="91.0"/><use href="#s" x="579.4" y="105.7"/><use href="#s" x="548.2" y="109.6"/><use href="#s" x="554.0" y="118.4"/><use href="#s" x="566.7" y="118.4"/><use href="#s" x="626.3" y="116.4"/><use href="#s" x="600.0" y="114.5"/><use href="#s" x="602.9" y="121.3"/><use href="#s" x="590.2" y="127.1"/><use href="#s" x="584.3" y="131.0"/><use href="#s" x="578.4" y="134.0"/><use href="#s" x="572.6" y="137.0"/><use href="#s" x="622.4" y="129.0"/><use href="#s" x="604.8" y="130.0"/><use href="#s" x="606.8" y="137.0"/><use href="#s" x="611.6" y="140.8"/><use href="#s" x="600.0" y="143.8"/><use href="#s" x="563.8" y="144.7"/><use href="#s" x="566.7" y="152.5"/><use href="#s" x="600.0" y="161.3"/><use href="#s" x="548.2" y="171.0"/><use href="#s" x="560.9" y="177.0"/><use href="#s" x="613.6" y="173.0"/><use href="#s" x="700.4" y="183.8"/><use href="#s" x="714.4" y="156.7"/><use href="#s" x="750.4" y="172.3"/><use href="#s" x="733.0" y="149.4"/><use href="#s" x="721.7" y="131.7"/><use href="#s" x="728.0" y="134.8"/><use href="#s" x="717.5" y="136.9"/><use href="#s" x="722.7" y="144.2"/><use href="#s" x="732.0" y="106.7"/><use href="#s" x="738.3" y="108.8"/><use href="#s" x="744.6" y="104.6"/><use href="#s" x="747.0" y="91.0"/><use href="#s" x="757.0" y="101.9"/><use href="#s" x="755.0" y="66.0"/><use href="#s" x="763.3" y="69.2"/><use href="#s" x="753.0" y="121.3"/><use href="#s" x="746.7" y="127.5"/><use href="#s" x="755.0" y="131.7"/><use href="#s" x="750.8" y="138.0"/><use href="#s" x="759.2" y="119.2"/><use href="#s" x="765.4" y="121.3"/><use href="#s" x="770.6" y="131.7"/><use href="#s" x="775.8" y="110.8"/><use href="#s" x="780.0" y="106.7"/><use href="#s" x="784.2" y="102.5"/><use href="#s" x="788.3" y="104.6"/><use href="#s" x="792.5" y="108.8"/><use href="#s" x="796.7" y="104.6"/><use href="#s" x="800.8" y="102.5"/><use href="#s" x="805.0" y="106.7"/><use href="#s" x="782.1" y="115.0"/><use href="#s" x="788.3" y="117.1"/><use href="#s" x="794.6" y="114.0"/><use href="#s" x="775.8" y="119.2"/><use href="#s" x="782.1" y="123.3"/><use href="#s" x="798.8" y="110.8"/><use href="#s" x="807.1" y="110.8"/><use href="#s" x="786.2" y="108.8"/><use href="#s" x="780.4" y="77.0"/><use href="#s" x="795.6" y="83.8"/><use href="#s" x="795.6" y="92.0"/><use href="#s" x="807.0" y="79.6"/><use href="#s" x="802.5" y="58.3"/><use href="#s" x="813.3" y="95.2"/><use href="#s" x="825.8" y="89.6"/><use href="#s" x="807.0" y="124.4"/><use href="#s" x="803.0" y="133.8"/><use href="#s" x="829.0" y="110.8"/><use href="#s" x="835.2" y="115.0"/><use href="#s" x="816.5" y="149.4"/><use href="#s" x="813.3" y="155.6"/><use href="#s" x="812.3" y="163.0"/><use href="#s" x="830.4" y="168.1"/><use href="#s" x="899.0" y="130.0"/><use href="#s" x="906.9" y="142.8"/><use href="#s" x="926.4" y="137.9"/><use href="#s" x="930.3" y="149.6"/><use href="#s" x="942.0" y="147.7"/><use href="#s" x="973.3" y="145.7"/><use href="#s" x="890.3" y="158.4"/><use href="#s" x="914.7" y="155.5"/><use href="#s" x="918.6" y="159.4"/><use href="#s" x="908.8" y="167.2"/><use href="#s" x="926.4" y="163.3"/><use href="#s" x="938.1" y="163.3"/><use href="#s" x="944.0" y="155.5"/><use href="#s" x="965.5" y="163.3"/><use href="#s" x="969.4" y="157.4"/><use href="#s" x="951.8" y="169.1"/><use href="#s" x="957.7" y="175.0"/><use href="#s" x="965.5" y="178.9"/><use href="#s" x="901.0" y="191.6"/><use href="#s" x="918.6" y="186.7"/><use href="#s" x="924.5" y="190.6"/><use href="#s" x="940.1" y="188.7"/><use href="#s" x="951.8" y="192.6"/><use href="#s" x="961.6" y="190.6"/><use href="#s" x="969.4" y="194.5"/><use href="#s" x="987.0" y="189.6"/><use href="#s" x="936.9" y="157.8"/><use href="#s" x="946.6" y="171.5"/><use href="#s" x="956.4" y="163.7"/><use href="#s" x="931.0" y="192.0"/><use href="#s" x="956.4" y="189.0"/><use href="#s" x="964.2" y="194.9"/><use href="#s" x="936.9" y="198.8"/><use href="#s" x="954.5" y="202.7"/><use href="#s" x="970.0" y="207.6"/><use href="#s" x="948.6" y="218.4"/><use href="#s" x="991.6" y="218.4"/><use href="#s" x="1017.9" y="209.6"/><use href="#s" x="964.2" y="230.0"/><use href="#s" x="978.9" y="223.2"/><use href="#s" x="983.8" y="230.0"/><use href="#s" x="979.8" y="235.9"/><use href="#s" x="985.7" y="241.8"/><use href="#s" x="1005.2" y="235.0"/><use href="#s" x="1015.0" y="237.9"/><use href="#s" x="943.1" y="255.5"/><use href="#s" x="975.9" y="254.5"/><use href="#s" x="999.4" y="262.3"/><use href="#s" x="1006.2" y="265.2"/><use href="#s" x="1013.0" y="265.2"/><use href="#s" x="972.0" y="272.0"/><use href="#s" x="977.9" y="278.9"/><use href="#s" x="982.8" y="284.8"/><use href="#s" x="996.4" y="288.7"/><use href="#s" x="1024.8" y="295.5"/><use href="#s" x="1083.4" y="288.7"/><use href="#s" x="1139.5" y="235.3"/><use href="#s" x="1131.6" y="246.6"/><use href="#s" x="1164.3" y="246.6"/><use href="#s" x="1142.8" y="260.7"/><use href="#s" x="1166.2" y="263.8"/><use href="#s" x="1189.6" y="252.1"/><use href="#s" x="1184.8" y="257.4"/><use href="#s" x="1135.9" y="280.8"/><use href="#s" x="1166.2" y="277.9"/><use href="#s" x="1177.9" y="279.5"/><use href="#s" x="1189.6" y="277.9"/><use href="#s" x="1199.4" y="288.6"/><use href="#s" x="1208.2" y="288.6"/><use href="#s" x="1122.3" y="296.4"/><use href="#s" x="1135.9" y="296.4"/><use href="#s" x="1150.6" y="297.4"/><use href="#s" x="1175.0" y="302.3"/><use href="#s" x="1169.1" y="305.2"/><use href="#s" x="1212.1" y="305.2"/><use href="#s" x="1205.3" y="308.2"/><use href="#s" x="1147.7" y="307.2"/><use href="#s" x="1155.5" y="311.1"/><use href="#s" x="1096.9" y="311.1"/><use href="#s" x="1089.0" y="317.0"/><use href="#s" x="1114.5" y="315.0"/><use href="#s" x="1135.9" y="313.0"/><use href="#s" x="1141.8" y="317.0"/><use href="#s" x="1163.3" y="311.1"/><use href="#s" x="1177.0" y="315.0"/><use href="#s" x="1193.6" y="313.0"/><use href="#s" x="1198.4" y="318.9"/><use href="#s" x="1184.8" y="320.9"/><use href="#s" x="1190.6" y="324.8"/><use href="#s" x="1098.8" y="326.7"/><use href="#s" x="1083.2" y="329.6"/><use href="#s" x="1116.4" y="324.8"/><use href="#s" x="1121.3" y="330.6"/><use href="#s" x="1132.0" y="326.7"/><use href="#s" x="1149.6" y="318.9"/><use href="#s" x="1155.5" y="324.8"/><use href="#s" x="1148.6" y="331.6"/><use href="#s" x="1141.8" y="336.5"/><use href="#s" x="1155.5" y="336.5"/><use href="#s" x="1272.7" y="275.9"/><use href="#s" x="1278.5" y="261.3"/><use href="#s" x="1278.5" y="303.3"/><use href="#s" x="1141.7" y="308.5"/><use href="#s" x="1131.5" y="320.3"/><use href="#s" x="1153.5" y="315.2"/><use href="#s" x="1158.6" y="320.3"/><use href="#s" x="1101.0" y="332.2"/><use href="#s" x="1167.0" y="342.3"/><use href="#s" x="1138.3" y="342.3"/><use href="#s" x="1099.4" y="342.3"/><use href="#s" x="1104.5" y="346.5"/><use href="#s" x="1109.5" y="350.8"/><use href="#s" x="1121.4" y="344.8"/><use href="#s" x="1114.6" y="350.8"/><use href="#s" x="1131.5" y="349.0"/><use href="#s" x="1133.2" y="355.8"/><use href="#s" x="1074.0" y="355.8"/><use href="#s" x="1091.8" y="355.8"/><use href="#s" x="1100.2" y="362.6"/><use href="#s" x="1082.5" y="374.5"/><use href="#s" x="1082.5" y="381.2"/><use href="#s" x="1095.2" y="383.0"/><use href="#s" x="1142.5" y="372.8"/><use href="#s" x="1133.2" y="378.7"/><use href="#s" x="1335.3" y="161.5"/><use href="#s" x="1374.8" y="161.1"/><use href="#s" x="1371.3" y="174.8"/><use href="#s" x="1320.1" y="188.4"/><use href="#s" x="1332.8" y="186.9"/><use href="#s" x="1367.9" y="205.4"/><use href="#s" x="1355.2" y="208.4"/><use href="#s" x="1384.5" y="215.2"/><use href="#s" x="1312.3" y="211.3"/><use href="#s" x="1320.1" y="211.3"/><use href="#s" x="1327.9" y="215.2"/><use href="#s" x="1337.7" y="213.2"/><use href="#s" x="1345.5" y="212.3"/><use href="#s" x="1331.8" y="220.0"/><use href="#s" x="1324.0" y="224.0"/><use href="#s" x="1339.6" y="222.0"/><use href="#s" x="1306.4" y="230.8"/><use href="#s" x="1314.2" y="235.7"/><use href="#s" x="1320.1" y="229.8"/><use href="#s" x="1327.9" y="227.9"/><use href="#s" x="1342.5" y="227.9"/><use href="#s" x="1359.1" y="228.9"/><use href="#s" x="1296.6" y="240.6"/><use href="#s" x="1310.3" y="243.5"/><use href="#s" x="1318.1" y="241.6"/><use href="#s" x="1343.5" y="241.6"/><use href="#s" x="1358.2" y="243.5"/><use href="#s" x="1380.6" y="238.6"/><use href="#s" x="1292.7" y="253.3"/><use href="#s" x="1312.3" y="252.3"/><use href="#s" x="1288.8" y="263.0"/><use href="#s" x="1296.6" y="256.2"/><use href="#s" x="1367.9" y="265.0"/><use href="#s" x="1285.9" y="282.6"/><use href="#s" x="1302.5" y="284.5"/><use href="#s" x="1318.1" y="282.6"/><use href="#s" x="1382.6" y="280.6"/><use href="#s" x="1286.6" y="290.0"/><use href="#s" x="1515.6" y="82.9"/><use href="#s" x="1519.8" y="137.7"/><use href="#s" x="1554.8" y="150.8"/><use href="#s" x="1531.5" y="191.5"/><use href="#s" x="1495.4" y="218.3"/><use href="#s" x="1475.2" y="166.3"/><use href="#s" x="1489.2" y="160.0"/><use href="#s" x="1481.0" y="182.0"/><use href="#s" x="1485.0" y="178.5"/><use href="#s" x="1493.0" y="174.5"/><use href="#s" x="1500.0" y="170.0"/><use href="#s" x="1507.0" y="165.0"/><use href="#s" x="1494.0" y="170.0"/><use href="#s" x="1488.0" y="173.0"/></g>
<path d="M494.60 519.5v8.3M587.99 519.5v8.3M681.38 519.5v8.3M774.77 519.5v8.3M868.16 519.5v8.3M961.55 519.5v8.3M1054.94 519.5v8.3M1148.33 519.5v8.3M1241.72 519.5v8.3M1335.11 519.5v8.3M1428.50 519.5v8.3M1521.89 519.5v8.3M401.0 502.60h-8.3M401.0 444.50h-8.3M401.0 386.40h-8.3M401.0 328.30h-8.3M401.0 270.20h-8.3M401.0 212.10h-8.3M401.0 154.00h-8.3M401.0 95.90h-8.3M401.0 37.80h-8.3" stroke="#000" stroke-width="1.6" fill="none"/>
<rect x="401.0" y="37.0" width="1215.0" height="482.5" fill="none" stroke="#000" stroke-width="1.6"/>
<rect x="419.4" y="377.3" width="267.2" height="123.6" rx="5.5" ry="5.5" fill="#fff" fill-opacity="0.8" stroke="#cfcfcf" stroke-opacity="0.9" stroke-width="1.6"/>
<circle cx="472.9" cy="408.4" r="4.4" fill="#594f93"/>
<use href="#s" x="472.9" y="464.6"/>
<g font-family="'Liberation Sans', sans-serif" fill="#000">
<text x="537.6" y="422.2" font-size="40.4" text-anchor="start" textLength="134.0" lengthAdjust="spacingAndGlyphs">TCCON</text>
<text x="539.2" y="478.2" font-size="40.4" text-anchor="start" textLength="123.0" lengthAdjust="spacingAndGlyphs">OCO-3</text>
<text x="383.2" y="52.8" font-size="40.4" text-anchor="end" textLength="57.5" lengthAdjust="spacingAndGlyphs">7.5</text>
<text x="383.2" y="110.9" font-size="40.4" text-anchor="end" textLength="57.5" lengthAdjust="spacingAndGlyphs">5.0</text>
<text x="383.2" y="169.0" font-size="40.4" text-anchor="end" textLength="57.5" lengthAdjust="spacingAndGlyphs">2.5</text>
<text x="383.2" y="227.1" font-size="40.4" text-anchor="end" textLength="57.5" lengthAdjust="spacingAndGlyphs">0.0</text>
<text x="383.2" y="285.2" font-size="40.4" text-anchor="end" textLength="57.5" lengthAdjust="spacingAndGlyphs">2.5</text>
<rect x="296.1" y="270.8" width="24.4" height="3.1"/>
<text x="383.2" y="343.3" font-size="40.4" text-anchor="end" textLength="57.5" lengthAdjust="spacingAndGlyphs">5.0</text>
<rect x="296.1" y="328.9" width="24.4" height="3.1"/>
<text x="383.2" y="401.4" font-size="40.4" text-anchor="end" textLength="57.5" lengthAdjust="spacingAndGlyphs">7.5</text>
<rect x="296.1" y="387.0" width="24.4" height="3.1"/>
<text x="383.2" y="459.5" font-size="40.4" text-anchor="end" textLength="82.5" lengthAdjust="spacingAndGlyphs">10.0</text>
<rect x="272.9" y="445.1" width="24.4" height="3.1"/>
<text x="383.2" y="517.6" font-size="40.4" text-anchor="end" textLength="82.5" lengthAdjust="spacingAndGlyphs">12.5</text>
<rect x="272.9" y="503.2" width="24.4" height="3.1"/>
<path d="M494.9 536.5V562C494.9 568.2 492.0 570.5 487.3 570.6" fill="none" stroke="#000" stroke-width="3.8"/>
<text x="588.3" y="565.0" font-size="40.4" text-anchor="middle" textLength="19.4" lengthAdjust="spacingAndGlyphs">F</text>
<text x="681.4" y="565.0" font-size="40.4" text-anchor="middle">M</text>
<text x="774.8" y="565.0" font-size="40.4" text-anchor="middle" textLength="25.0" lengthAdjust="spacingAndGlyphs">A</text>
<text x="868.2" y="565.0" font-size="40.4" text-anchor="middle">M</text>
<path d="M961.8 536.5V562C961.8 568.2 958.9 570.5 954.2 570.6" fill="none" stroke="#000" stroke-width="3.8"/>
<path d="M1055.2 536.5V562C1055.2 568.2 1052.3 570.5 1047.6 570.6" fill="none" stroke="#000" stroke-width="3.8"/>
<text x="1148.3" y="565.0" font-size="40.4" text-anchor="middle" textLength="25.0" lengthAdjust="spacingAndGlyphs">A</text>
<text x="1241.7" y="565.0" font-size="40.4" text-anchor="middle" textLength="25.2" lengthAdjust="spacingAndGlyphs">S</text>
<text x="1335.1" y="565.0" font-size="40.4" text-anchor="middle">O</text>
<text x="1428.5" y="565.0" font-size="40.4" text-anchor="middle">N</text>
<text x="1521.9" y="565.0" font-size="40.4" text-anchor="middle">D</text>
<text x="1007.4" y="611.4" font-size="40.4" text-anchor="middle" textLength="114.5" lengthAdjust="spacingAndGlyphs">Month</text>
<g transform="translate(247.8 389.6) rotate(-90)">
<text x="0.0" y="0.0" font-size="40.4" text-anchor="start" textLength="80.0" lengthAdjust="spacingAndGlyphs">XCO</text>
<text x="81.5" y="6.6" font-size="27.9" text-anchor="start" textLength="13.8" lengthAdjust="spacingAndGlyphs">2</text>
<text x="110.6" y="0.0" font-size="40.4" text-anchor="start" textLength="113.0" lengthAdjust="spacingAndGlyphs">[ppm]</text>
</g>
</g>
<g font-family="'Liberation Serif', serif" fill="#000" font-size="26.6">
<text x="21.4" y="679.0" font-weight="bold" textLength="99.8" lengthAdjust="spacingAndGlyphs">Figure 1.</text>
<text x="135.0" y="679.0" style="word-spacing:-1.072px">Annual cycle of</text>
<text x="366.0" y="679.0" style="word-spacing:-1.475px">detrended anomalies at Park Falls, WI. TCCON data (purple) have been detrended, with multiple years overlaid. The spread on any given</text>
<text x="21.1" y="711.6" style="word-spacing:1.203px">day arises from interannual variability, synoptic variability, and diurnal fluxes. OCO-3</text>
<text x="1022.3" y="711.6" style="word-spacing:1.031px">data (orange) coincident with Park Falls between 2019 and 2025 are</text>
<text x="21.4" y="744.8" style="word-spacing:0.998px">overlain on the TCCON data.</text>
<text x="306.4" y="679.0" font-style="italic">X</text>
<text x="322.4" y="685.5" font-size="18.6" textLength="37.9" lengthAdjust="spacingAndGlyphs">CO2</text>
<text x="961.1" y="711.6" font-style="italic">X</text>
<text x="977.0" y="718.1" font-size="18.6" textLength="37.9" lengthAdjust="spacingAndGlyphs">CO2</text>
</g>
</svg>
</body></html>
